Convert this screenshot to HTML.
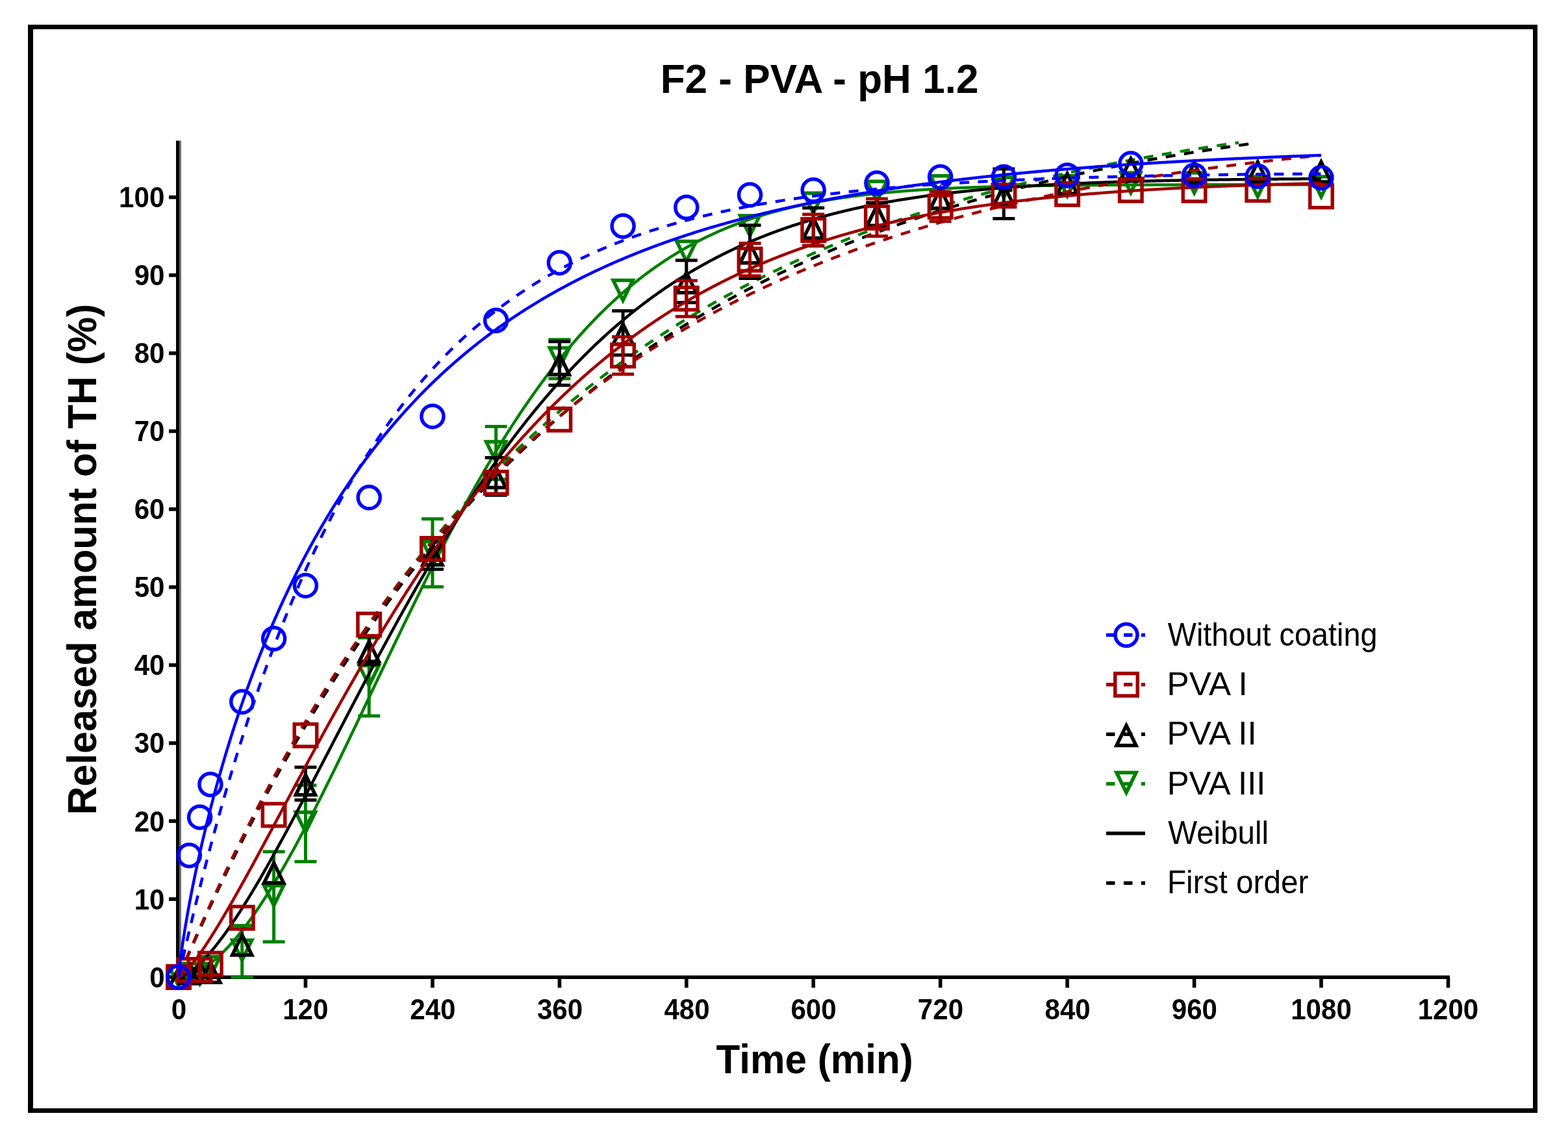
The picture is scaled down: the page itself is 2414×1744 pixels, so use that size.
<!DOCTYPE html>
<html><head><meta charset="utf-8"><title>F2 - PVA - pH 1.2</title>
<style>html,body{margin:0;padding:0;background:#fff;} svg{display:block;}</style></head>
<body><svg width="2414" height="1744" viewBox="0 0 2414 1744"><rect x="0" y="0" width="2414" height="1744" fill="#fff"/>
<rect x="46.5" y="41.5" width="2317" height="1668" fill="none" stroke="#000" stroke-width="7"/>
<rect x="49" y="38" width="2" height="1675" fill="#000"/>
<path d="M273.5,216.5 L273.5,1504" stroke="#000" stroke-width="5"/>
<path d="M277.5,216.5 L277.5,1501.6" stroke="#707070" stroke-width="3"/>
<path d="M271,1504.25 L2232,1504.25" stroke="#000" stroke-width="5.3"/>
<path d="M275.0,1504 L275.0,1520.4" stroke="#000" stroke-width="5.6"/>
<text transform="translate(263.73,1569.00) scale(0.9350,1)" font-family="'Liberation Sans', Arial, sans-serif" font-weight="bold" font-size="45">0</text>
<path d="M470.4,1504 L470.4,1520.4" stroke="#000" stroke-width="5.6"/>
<text transform="translate(435.20,1569.00) scale(0.9350,1)" font-family="'Liberation Sans', Arial, sans-serif" font-weight="bold" font-size="45">120</text>
<path d="M665.9,1504 L665.9,1520.4" stroke="#000" stroke-width="5.6"/>
<text transform="translate(631.28,1569.00) scale(0.9350,1)" font-family="'Liberation Sans', Arial, sans-serif" font-weight="bold" font-size="45">240</text>
<path d="M861.4,1504 L861.4,1520.4" stroke="#000" stroke-width="5.6"/>
<text transform="translate(826.94,1569.00) scale(0.9350,1)" font-family="'Liberation Sans', Arial, sans-serif" font-weight="bold" font-size="45">360</text>
<path d="M1056.8,1504 L1056.8,1520.4" stroke="#000" stroke-width="5.6"/>
<text transform="translate(1022.39,1569.00) scale(0.9350,1)" font-family="'Liberation Sans', Arial, sans-serif" font-weight="bold" font-size="45">480</text>
<path d="M1252.2,1504 L1252.2,1520.4" stroke="#000" stroke-width="5.6"/>
<text transform="translate(1217.42,1569.00) scale(0.9350,1)" font-family="'Liberation Sans', Arial, sans-serif" font-weight="bold" font-size="45">600</text>
<path d="M1447.7,1504 L1447.7,1520.4" stroke="#000" stroke-width="5.6"/>
<text transform="translate(1412.87,1569.00) scale(0.9350,1)" font-family="'Liberation Sans', Arial, sans-serif" font-weight="bold" font-size="45">720</text>
<path d="M1643.1,1504 L1643.1,1520.4" stroke="#000" stroke-width="5.6"/>
<text transform="translate(1608.53,1569.00) scale(0.9350,1)" font-family="'Liberation Sans', Arial, sans-serif" font-weight="bold" font-size="45">840</text>
<path d="M1838.6,1504 L1838.6,1520.4" stroke="#000" stroke-width="5.6"/>
<text transform="translate(1803.77,1569.00) scale(0.9350,1)" font-family="'Liberation Sans', Arial, sans-serif" font-weight="bold" font-size="45">960</text>
<path d="M2034.0,1504 L2034.0,1520.4" stroke="#000" stroke-width="5.6"/>
<text transform="translate(1987.23,1569.00) scale(0.9350,1)" font-family="'Liberation Sans', Arial, sans-serif" font-weight="bold" font-size="45">1080</text>
<path d="M2229.5,1504 L2229.5,1520.4" stroke="#000" stroke-width="5.6"/>
<text transform="translate(2182.68,1569.00) scale(0.9350,1)" font-family="'Liberation Sans', Arial, sans-serif" font-weight="bold" font-size="45">1200</text>
<path d="M260,1504.0 L273,1504.0" stroke="#000" stroke-width="5.6"/>
<text transform="translate(230.24,1519.60) scale(0.9350,1)" font-family="'Liberation Sans', Arial, sans-serif" font-weight="bold" font-size="45">0</text>
<path d="M260,1384.0 L273,1384.0" stroke="#000" stroke-width="5.6"/>
<text transform="translate(206.68,1399.56) scale(0.9350,1)" font-family="'Liberation Sans', Arial, sans-serif" font-weight="bold" font-size="45">10</text>
<path d="M260,1263.9 L273,1263.9" stroke="#000" stroke-width="5.6"/>
<text transform="translate(206.68,1279.52) scale(0.9350,1)" font-family="'Liberation Sans', Arial, sans-serif" font-weight="bold" font-size="45">20</text>
<path d="M260,1143.9 L273,1143.9" stroke="#000" stroke-width="5.6"/>
<text transform="translate(206.68,1159.48) scale(0.9350,1)" font-family="'Liberation Sans', Arial, sans-serif" font-weight="bold" font-size="45">30</text>
<path d="M260,1023.8 L273,1023.8" stroke="#000" stroke-width="5.6"/>
<text transform="translate(206.68,1039.44) scale(0.9350,1)" font-family="'Liberation Sans', Arial, sans-serif" font-weight="bold" font-size="45">40</text>
<path d="M260,903.8 L273,903.8" stroke="#000" stroke-width="5.6"/>
<text transform="translate(206.68,919.40) scale(0.9350,1)" font-family="'Liberation Sans', Arial, sans-serif" font-weight="bold" font-size="45">50</text>
<path d="M260,783.8 L273,783.8" stroke="#000" stroke-width="5.6"/>
<text transform="translate(206.68,799.36) scale(0.9350,1)" font-family="'Liberation Sans', Arial, sans-serif" font-weight="bold" font-size="45">60</text>
<path d="M260,663.7 L273,663.7" stroke="#000" stroke-width="5.6"/>
<text transform="translate(206.68,679.32) scale(0.9350,1)" font-family="'Liberation Sans', Arial, sans-serif" font-weight="bold" font-size="45">70</text>
<path d="M260,543.7 L273,543.7" stroke="#000" stroke-width="5.6"/>
<text transform="translate(206.68,559.28) scale(0.9350,1)" font-family="'Liberation Sans', Arial, sans-serif" font-weight="bold" font-size="45">80</text>
<path d="M260,423.6 L273,423.6" stroke="#000" stroke-width="5.6"/>
<text transform="translate(206.68,439.24) scale(0.9350,1)" font-family="'Liberation Sans', Arial, sans-serif" font-weight="bold" font-size="45">90</text>
<path d="M260,303.6 L273,303.6" stroke="#000" stroke-width="5.6"/>
<text transform="translate(183.12,319.20) scale(0.9350,1)" font-family="'Liberation Sans', Arial, sans-serif" font-weight="bold" font-size="45">100</text>
<path d="M275.00,1504.00 L275.81,1503.99 L276.63,1503.95 L277.44,1503.90 L278.26,1503.84 L279.07,1503.76 L279.89,1503.66 L280.70,1503.55 L281.51,1503.43 L282.33,1503.30 L283.14,1503.15 L283.96,1502.99 L284.77,1502.82 L285.59,1502.64 L286.40,1502.44 L287.22,1502.24 L288.03,1502.02 L288.84,1501.80 L289.66,1501.56 L290.47,1501.31 L291.29,1501.05 L292.10,1500.78 L292.92,1500.50 L293.73,1500.21 L294.55,1499.91 L295.36,1499.60 L296.17,1499.28 L296.99,1498.95 L297.80,1498.61 L298.62,1498.26 L299.43,1497.90 L300.25,1497.53 L301.06,1497.15 L301.87,1496.76 L302.69,1496.36 L303.50,1495.96 L304.32,1495.54 L305.13,1495.11 L305.95,1494.68 L306.76,1494.24 L307.57,1493.78 L308.39,1493.32 L309.20,1492.85 L310.02,1492.37 L310.83,1491.89 L311.65,1491.39 L312.46,1490.88 L313.28,1490.37 L314.09,1489.85 L314.90,1489.32 L315.72,1488.78 L316.53,1488.23 L317.35,1487.68 L318.16,1487.11 L318.98,1486.54 L319.79,1485.96 L320.61,1485.37 L321.42,1484.77 L322.23,1484.17 L323.05,1483.55 L323.86,1482.93 L324.68,1482.30 L325.49,1481.67 L326.31,1481.02 L327.12,1480.37 L327.93,1479.71 L328.75,1479.04 L329.56,1478.37 L330.38,1477.68 L331.19,1476.99 L332.01,1476.29 L332.82,1475.58 L333.63,1474.87 L334.45,1474.15 L335.26,1473.42 L336.08,1472.68 L336.89,1471.94 L337.71,1471.19 L338.52,1470.43 L339.34,1469.66 L340.15,1468.89 L340.96,1468.11 L341.78,1467.32 L342.59,1466.53 L343.41,1465.73 L344.22,1464.92 L345.04,1464.10 L345.85,1463.28 L346.66,1462.45 L347.48,1461.61 L348.29,1460.77 L349.11,1459.92 L349.92,1459.06 L350.74,1458.19 L351.55,1457.32 L352.37,1456.45 L353.18,1455.56 L353.99,1454.67 L354.81,1453.77 L355.62,1452.87 L356.44,1451.96 L357.25,1451.04 L358.07,1450.11 L358.88,1449.18 L359.69,1448.25 L360.51,1447.30 L361.32,1446.35 L362.14,1445.40 L362.95,1444.43 L363.77,1443.46 L364.58,1442.49 L365.40,1441.51 L366.21,1440.52 L367.02,1439.52 L367.84,1438.52 L368.65,1437.52 L369.47,1436.51 L370.28,1435.49 L371.10,1434.46 L371.91,1433.43 L372.73,1432.39 L373.54,1431.35 L375.17,1429.25 L376.80,1427.12 L378.43,1424.97 L380.06,1422.80 L381.69,1420.60 L383.32,1418.38 L384.95,1416.14 L386.58,1413.88 L388.21,1411.59 L389.83,1409.28 L391.46,1406.96 L393.09,1404.61 L394.72,1402.24 L396.35,1399.84 L397.98,1397.43 L399.61,1395.00 L401.24,1392.55 L402.87,1390.08 L404.50,1387.59 L406.13,1385.07 L407.76,1382.54 L409.39,1380.00 L411.02,1377.43 L412.65,1374.84 L414.28,1372.24 L415.91,1369.62 L417.54,1366.97 L419.17,1364.32 L420.80,1361.64 L422.43,1358.95 L424.06,1356.24 L425.68,1353.51 L427.31,1350.77 L428.94,1348.01 L430.57,1345.24 L432.20,1342.44 L433.83,1339.64 L435.46,1336.81 L437.09,1333.98 L438.72,1331.12 L440.35,1328.26 L441.98,1325.37 L443.61,1322.48 L445.24,1319.57 L446.87,1316.64 L448.50,1313.70 L450.13,1310.75 L451.76,1307.79 L453.39,1304.81 L455.02,1301.82 L456.65,1298.81 L458.28,1295.79 L459.91,1292.76 L461.54,1289.72 L463.16,1286.67 L464.79,1283.60 L466.42,1280.53 L468.05,1277.44 L469.68,1274.34 L471.31,1271.23 L472.94,1268.11 L474.57,1264.98 L476.20,1261.83 L477.83,1258.68 L479.46,1255.52 L481.09,1252.35 L482.72,1249.17 L484.35,1245.97 L485.98,1242.77 L487.61,1239.57 L489.24,1236.35 L490.87,1233.12 L492.50,1229.89 L494.13,1226.64 L495.76,1223.39 L497.39,1220.13 L499.01,1216.87 L500.64,1213.59 L502.27,1210.31 L503.90,1207.02 L505.53,1203.73 L507.16,1200.43 L508.79,1197.12 L510.42,1193.80 L512.05,1190.48 L513.68,1187.15 L515.31,1183.82 L516.94,1180.48 L518.57,1177.14 L520.20,1173.79 L521.83,1170.43 L523.46,1167.07 L525.09,1163.71 L526.72,1160.34 L528.35,1156.97 L529.98,1153.59 L531.61,1150.21 L533.24,1146.82 L534.86,1143.43 L536.49,1140.04 L538.12,1136.65 L539.75,1133.25 L541.38,1129.84 L543.01,1126.44 L544.64,1123.03 L546.27,1119.62 L547.90,1116.21 L549.53,1112.79 L551.16,1109.38 L552.79,1105.96 L554.42,1102.54 L556.05,1099.12 L557.68,1095.69 L559.31,1092.27 L560.94,1088.84 L562.57,1085.41 L564.20,1081.99 L565.83,1078.56 L567.46,1075.13 L569.09,1071.70 L570.71,1068.27 L572.34,1064.84 L573.97,1061.41 L575.60,1057.98 L577.23,1054.55 L578.86,1051.13 L580.49,1047.70 L582.12,1044.27 L583.75,1040.85 L585.38,1037.42 L587.01,1034.00 L588.64,1030.58 L590.27,1027.16 L591.90,1023.74 L593.53,1020.32 L595.16,1016.90 L596.79,1013.49 L598.42,1010.08 L600.05,1006.67 L601.68,1003.27 L603.31,999.86 L604.94,996.46 L606.56,993.07 L608.19,989.67 L609.82,986.28 L611.45,982.89 L613.08,979.51 L614.71,976.12 L616.34,972.75 L617.97,969.37 L619.60,966.00 L621.23,962.64 L622.86,959.27 L624.49,955.91 L626.12,952.56 L627.75,949.21 L629.38,945.87 L631.01,942.53 L632.64,939.19 L634.27,935.86 L635.90,932.53 L637.53,929.21 L639.16,925.90 L640.79,922.59 L642.41,919.28 L644.04,915.99 L645.67,912.69 L647.30,909.40 L648.93,906.12 L650.56,902.85 L652.19,899.58 L653.82,896.31 L655.45,893.05 L657.08,889.80 L658.71,886.56 L660.34,883.32 L661.97,880.09 L663.60,876.86 L665.23,873.64 L666.86,870.43 L668.49,867.23 L670.12,864.03 L671.75,860.84 L673.38,857.66 L675.01,854.48 L676.64,851.31 L678.27,848.15 L679.89,845.00 L681.52,841.85 L683.15,838.71 L684.78,835.58 L686.41,832.46 L688.04,829.34 L689.67,826.23 L691.30,823.14 L692.93,820.04 L694.56,816.96 L696.19,813.89 L697.82,810.82 L699.45,807.76 L701.08,804.71 L702.71,801.67 L704.34,798.64 L705.97,795.62 L707.60,792.60 L709.23,789.60 L710.86,786.60 L712.49,783.61 L714.12,780.63 L715.74,777.66 L717.37,774.70 L719.00,771.75 L720.63,768.81 L722.26,765.88 L723.89,762.95 L725.52,760.04 L727.15,757.13 L728.78,754.24 L730.41,751.35 L732.04,748.47 L733.67,745.61 L735.30,742.75 L736.93,739.90 L738.56,737.06 L740.19,734.23 L741.82,731.42 L743.45,728.61 L745.08,725.81 L746.71,723.02 L748.34,720.24 L749.97,717.47 L751.59,714.71 L753.22,711.97 L754.85,709.23 L756.48,706.50 L758.11,703.78 L759.74,701.07 L761.37,698.38 L763.00,695.69 L764.63,693.01 L766.26,690.35 L767.89,687.69 L769.52,685.05 L771.15,682.41 L772.78,679.79 L774.41,677.17 L776.04,674.57 L777.67,671.98 L779.30,669.39 L780.93,666.82 L782.56,664.26 L784.19,661.71 L785.82,659.17 L787.44,656.64 L789.07,654.12 L790.70,651.62 L792.33,649.12 L793.96,646.63 L795.59,644.16 L797.22,641.69 L798.85,639.24 L800.48,636.80 L802.11,634.37 L803.74,631.94 L805.37,629.53 L807.00,627.14 L808.63,624.75 L810.26,622.37 L811.89,620.00 L813.52,617.65 L815.15,615.30 L816.78,612.97 L818.41,610.64 L820.04,608.33 L821.67,606.03 L823.29,603.74 L824.92,601.46 L826.55,599.19 L828.18,596.93 L829.81,594.69 L831.44,592.45 L833.07,590.23 L834.70,588.01 L836.33,585.81 L837.96,583.62 L839.59,581.44 L841.22,579.27 L842.85,577.11 L844.48,574.96 L846.11,572.82 L847.74,570.70 L849.37,568.58 L851.00,566.48 L852.63,564.38 L854.26,562.30 L855.89,560.23 L857.52,558.16 L859.15,556.11 L860.77,554.07 L862.40,552.05 L864.03,550.03 L865.66,548.02 L867.29,546.02 L868.92,544.04 L870.55,542.06 L872.18,540.10 L873.81,538.15 L875.44,536.20 L877.07,534.27 L878.70,532.35 L880.33,530.44 L881.96,528.54 L883.59,526.65 L885.22,524.77 L886.85,522.91 L888.48,521.05 L890.11,519.20 L891.74,517.36 L893.37,515.54 L895.00,513.72 L896.62,511.92 L898.25,510.12 L899.88,508.34 L901.51,506.57 L903.14,504.80 L904.77,503.05 L906.40,501.31 L908.03,499.58 L909.66,497.86 L911.29,496.14 L912.92,494.44 L914.55,492.75 L916.18,491.07 L917.81,489.40 L919.44,487.74 L921.07,486.09 L922.70,484.45 L924.33,482.82 L925.96,481.20 L927.59,479.59 L929.22,477.99 L930.85,476.40 L932.47,474.82 L934.10,473.25 L935.73,471.69 L937.36,470.14 L938.99,468.60 L940.62,467.07 L942.25,465.54 L943.88,464.03 L945.51,462.53 L947.14,461.04 L948.77,459.56 L950.40,458.08 L952.03,456.62 L953.66,455.17 L955.29,453.72 L956.92,452.29 L958.55,450.86 L960.18,449.45 L961.81,448.04 L963.44,446.64 L965.07,445.26 L966.70,443.88 L968.32,442.51 L969.95,441.15 L971.58,439.80 L973.21,438.45 L974.84,437.12 L976.47,435.80 L978.10,434.48 L979.73,433.18 L981.36,431.88 L982.99,430.59 L984.62,429.32 L986.25,428.05 L987.88,426.78 L989.51,425.53 L991.14,424.29 L992.77,423.05 L994.40,421.83 L996.03,420.61 L997.66,419.40 L999.29,418.20 L1000.92,417.01 L1002.55,415.82 L1004.17,414.65 L1005.80,413.48 L1007.43,412.33 L1009.06,411.18 L1010.69,410.03 L1012.32,408.90 L1013.95,407.78 L1015.58,406.66 L1017.21,405.55 L1018.84,404.45 L1020.47,403.36 L1022.10,402.27 L1023.73,401.20 L1025.36,400.13 L1026.99,399.07 L1028.62,398.02 L1030.25,396.97 L1031.88,395.93 L1033.51,394.90 L1035.14,393.88 L1036.77,392.87 L1038.40,391.86 L1040.02,390.87 L1041.65,389.87 L1043.28,388.89 L1044.91,387.92 L1046.54,386.95 L1048.17,385.99 L1049.80,385.03 L1051.43,384.09 L1053.06,383.15 L1054.69,382.22 L1056.32,381.29 L1057.95,380.38 L1059.58,379.47 L1061.21,378.56 L1062.84,377.67 L1064.47,376.78 L1066.10,375.90 L1067.73,375.02 L1069.36,374.15 L1070.99,373.29 L1072.62,372.44 L1074.25,371.59 L1075.88,370.75 L1077.50,369.92 L1079.13,369.09 L1080.76,368.27 L1082.39,367.46 L1084.02,366.65 L1085.65,365.85 L1087.28,365.05 L1088.91,364.27 L1090.54,363.49 L1092.17,362.71 L1093.80,361.94 L1095.43,361.18 L1097.06,360.42 L1098.69,359.67 L1100.32,358.93 L1101.95,358.19 L1103.58,357.46 L1105.21,356.74 L1106.84,356.02 L1108.47,355.31 L1110.10,354.60 L1111.73,353.90 L1113.35,353.20 L1114.98,352.51 L1116.61,351.83 L1118.24,351.15 L1119.87,350.48 L1121.50,349.81 L1123.13,349.15 L1124.76,348.50 L1126.39,347.85 L1128.02,347.21 L1129.65,346.57 L1131.28,345.93 L1132.91,345.31 L1134.54,344.69 L1136.17,344.07 L1137.80,343.46 L1139.43,342.85 L1141.06,342.25 L1142.69,341.66 L1144.32,341.07 L1145.95,340.48 L1147.58,339.90 L1149.20,339.33 L1150.83,338.76 L1152.46,338.20 L1154.09,337.64 L1155.72,337.08 L1157.35,336.53 L1158.98,335.99 L1160.61,335.45 L1162.24,334.91 L1163.87,334.38 L1165.50,333.86 L1167.13,333.34 L1168.76,332.82 L1170.39,332.31 L1172.02,331.80 L1173.65,331.30 L1175.28,330.81 L1176.91,330.31 L1178.54,329.82 L1180.17,329.34 L1181.80,328.86 L1183.43,328.39 L1185.05,327.92 L1186.68,327.45 L1188.31,326.99 L1189.94,326.53 L1191.57,326.08 L1193.20,325.63 L1194.83,325.18 L1196.46,324.74 L1198.09,324.31 L1199.72,323.87 L1201.35,323.45 L1202.98,323.02 L1204.61,322.60 L1206.24,322.18 L1207.87,321.77 L1209.50,321.36 L1211.13,320.96 L1212.76,320.56 L1214.39,320.16 L1216.02,319.77 L1217.65,319.38 L1219.28,318.99 L1220.90,318.61 L1222.53,318.23 L1224.16,317.86 L1225.79,317.48 L1227.42,317.12 L1229.05,316.75 L1230.68,316.39 L1232.31,316.04 L1233.94,315.68 L1235.57,315.33 L1237.20,314.99 L1238.83,314.64 L1240.46,314.30 L1242.09,313.97 L1243.72,313.63 L1245.35,313.30 L1246.98,312.98 L1248.61,312.65 L1250.24,312.33 L1251.87,312.02 L1253.50,311.70 L1255.13,311.39 L1256.76,311.08 L1258.38,310.78 L1260.01,310.48 L1261.64,310.18 L1263.27,309.88 L1264.90,309.59 L1266.53,309.30 L1268.16,309.01 L1269.79,308.73 L1271.42,308.45 L1273.05,308.17 L1274.68,307.90 L1276.31,307.62 L1277.94,307.35 L1279.57,307.09 L1281.20,306.82 L1282.83,306.56 L1284.46,306.30 L1286.09,306.05 L1287.72,305.79 L1289.35,305.54 L1290.98,305.29 L1292.61,305.05 L1294.23,304.81 L1295.86,304.56 L1297.49,304.33 L1299.12,304.09 L1300.75,303.86 L1302.38,303.63 L1304.01,303.40 L1305.64,303.17 L1307.27,302.95 L1308.90,302.73 L1310.53,302.51 L1312.16,302.29 L1313.79,302.08 L1315.42,301.87 L1317.05,301.66 L1318.68,301.45 L1320.31,301.24 L1321.94,301.04 L1323.57,300.84 L1325.20,300.64 L1326.83,300.44 L1328.46,300.25 L1330.08,300.06 L1331.71,299.87 L1333.34,299.68 L1334.97,299.49 L1336.60,299.31 L1338.23,299.13 L1339.86,298.95 L1341.49,298.77 L1343.12,298.59 L1344.75,298.42 L1346.38,298.24 L1348.01,298.07 L1349.64,297.90 L1351.27,297.74 L1352.90,297.57 L1354.53,297.41 L1356.16,297.25 L1357.79,297.09 L1359.42,296.93 L1361.05,296.77 L1362.68,296.62 L1364.31,296.46 L1365.93,296.31 L1367.56,296.16 L1369.19,296.02 L1370.82,295.87 L1372.45,295.73 L1374.08,295.58 L1375.71,295.44 L1377.34,295.30 L1378.97,295.16 L1380.60,295.03 L1382.23,294.89 L1383.86,294.76 L1385.49,294.63 L1387.12,294.50 L1388.75,294.37 L1390.38,294.24 L1392.01,294.11 L1393.64,293.99 L1395.27,293.86 L1396.90,293.74 L1398.53,293.62 L1400.16,293.50 L1401.78,293.38 L1403.41,293.27 L1405.04,293.15 L1406.67,293.04 L1408.30,292.93 L1409.93,292.82 L1411.56,292.71 L1413.19,292.60 L1414.82,292.49 L1416.45,292.38 L1418.08,292.28 L1419.71,292.18 L1421.34,292.07 L1422.97,291.97 L1424.60,291.87 L1426.23,291.77 L1427.86,291.68 L1429.49,291.58 L1431.12,291.48 L1432.75,291.39 L1434.38,291.30 L1436.01,291.20 L1437.63,291.11 L1439.26,291.02 L1440.89,290.93 L1442.52,290.85 L1444.15,290.76 L1445.78,290.67 L1447.41,290.59 L1449.04,290.50 L1450.67,290.42 L1452.30,290.34 L1453.93,290.26 L1455.56,290.18 L1457.19,290.10 L1458.82,290.02 L1460.45,289.95 L1462.08,289.87 L1463.71,289.79 L1465.34,289.72 L1466.97,289.65 L1468.60,289.57 L1470.23,289.50 L1471.86,289.43 L1473.49,289.36 L1475.11,289.29 L1476.74,289.23 L1478.37,289.16 L1480.00,289.09 L1481.63,289.03 L1483.26,288.96 L1484.89,288.90 L1486.52,288.83 L1488.15,288.77 L1489.78,288.71 L1491.41,288.65 L1493.04,288.59 L1494.67,288.53 L1496.30,288.47 L1497.93,288.41 L1499.56,288.35 L1501.19,288.30 L1502.82,288.24 L1504.45,288.19 L1506.08,288.13 L1507.71,288.08 L1509.34,288.03 L1510.96,287.97 L1512.59,287.92 L1514.22,287.87 L1515.85,287.82 L1517.48,287.77 L1519.11,287.72 L1520.74,287.67 L1522.37,287.62 L1524.00,287.58 L1525.63,287.53 L1527.26,287.48 L1528.89,287.44 L1530.52,287.39 L1532.15,287.35 L1533.78,287.30 L1535.41,287.26 L1537.04,287.22 L1538.67,287.18 L1540.30,287.13 L1541.93,287.09 L1543.56,287.05 L1545.19,287.01 L1546.81,286.97 L1548.44,286.93 L1550.07,286.89 L1551.70,286.86 L1553.33,286.82 L1554.96,286.78 L1556.59,286.74 L1558.22,286.71 L1559.85,286.67 L1561.48,286.64 L1563.11,286.60 L1564.74,286.57 L1566.37,286.53 L1568.00,286.50 L1569.63,286.47 L1571.26,286.44 L1572.89,286.40 L1574.52,286.37 L1576.15,286.34 L1577.78,286.31 L1579.41,286.28 L1581.04,286.25 L1582.66,286.22 L1584.29,286.19 L1585.92,286.16 L1587.55,286.13 L1589.18,286.10 L1590.81,286.08 L1592.44,286.05 L1594.07,286.02 L1595.70,286.00 L1597.33,285.97 L1598.96,285.94 L1600.59,285.92 L1602.22,285.89 L1603.85,285.87 L1605.48,285.84 L1607.11,285.82 L1608.74,285.79 L1610.37,285.77 L1612.00,285.75 L1613.63,285.72 L1615.26,285.70 L1616.89,285.68 L1618.51,285.66 L1620.14,285.64 L1621.77,285.61 L1623.40,285.59 L1625.03,285.57 L1626.66,285.55 L1628.29,285.53 L1629.92,285.51 L1631.55,285.49 L1633.18,285.47 L1634.81,285.45 L1636.44,285.43 L1638.07,285.41 L1639.70,285.40 L1641.33,285.38 L1642.96,285.36 L1644.59,285.34 L1646.22,285.32 L1647.85,285.31 L1649.48,285.29 L1651.11,285.27 L1652.74,285.26 L1654.37,285.24 L1655.99,285.22 L1657.62,285.21 L1659.25,285.19 L1660.88,285.18 L1662.51,285.16 L1664.14,285.15 L1665.77,285.13 L1667.40,285.12 L1669.03,285.10 L1670.66,285.09 L1672.29,285.08 L1673.92,285.06 L1675.55,285.05 L1677.18,285.03 L1678.81,285.02 L1680.44,285.01 L1682.07,285.00 L1683.70,284.98 L1685.33,284.97 L1686.96,284.96 L1688.59,284.95 L1690.22,284.93 L1691.84,284.92 L1693.47,284.91 L1695.10,284.90 L1696.73,284.89 L1698.36,284.88 L1699.99,284.87 L1701.62,284.86 L1703.25,284.84 L1704.88,284.83 L1706.51,284.82 L1708.14,284.81 L1709.77,284.80 L1711.40,284.79 L1713.03,284.78 L1714.66,284.77 L1716.29,284.76 L1717.92,284.76 L1719.55,284.75 L1721.18,284.74 L1722.81,284.73 L1724.44,284.72 L1726.07,284.71 L1727.69,284.70 L1729.32,284.69 L1730.95,284.68 L1732.58,284.68 L1734.21,284.67 L1735.84,284.66 L1737.47,284.65 L1739.10,284.65 L1740.73,284.64 L1742.36,284.63 L1743.99,284.62 L1745.62,284.62 L1747.25,284.61 L1748.88,284.60 L1750.51,284.59 L1752.14,284.59 L1753.77,284.58 L1755.40,284.57 L1757.03,284.57 L1758.66,284.56 L1760.29,284.55 L1761.92,284.55 L1763.54,284.54 L1765.17,284.54 L1766.80,284.53 L1768.43,284.52 L1770.06,284.52 L1771.69,284.51 L1773.32,284.51 L1774.95,284.50 L1776.58,284.50 L1778.21,284.49 L1779.84,284.48 L1781.47,284.48 L1783.10,284.47 L1784.73,284.47 L1786.36,284.46 L1787.99,284.46 L1789.62,284.45 L1791.25,284.45 L1792.88,284.44 L1794.51,284.44 L1796.14,284.44 L1797.77,284.43 L1799.39,284.43 L1801.02,284.42 L1802.65,284.42 L1804.28,284.41 L1805.91,284.41 L1807.54,284.41 L1809.17,284.40 L1810.80,284.40 L1812.43,284.39 L1814.06,284.39 L1815.69,284.39 L1817.32,284.38 L1818.95,284.38 L1820.58,284.37 L1822.21,284.37 L1823.84,284.37 L1825.47,284.36 L1827.10,284.36 L1828.73,284.36 L1830.36,284.35 L1831.99,284.35 L1833.62,284.35 L1835.24,284.34 L1836.87,284.34 L1838.50,284.34 L1840.13,284.34 L1841.76,284.33 L1843.39,284.33 L1845.02,284.33 L1846.65,284.32 L1848.28,284.32 L1849.91,284.32 L1851.54,284.32 L1853.17,284.31 L1854.80,284.31 L1856.43,284.31 L1858.06,284.30 L1859.69,284.30 L1861.32,284.30 L1862.95,284.30 L1864.58,284.30 L1866.21,284.29 L1867.84,284.29 L1869.47,284.29 L1871.10,284.29 L1872.72,284.28 L1874.35,284.28 L1875.98,284.28 L1877.61,284.28 L1879.24,284.28 L1880.87,284.27 L1882.50,284.27 L1884.13,284.27 L1885.76,284.27 L1887.39,284.27 L1889.02,284.26 L1890.65,284.26 L1892.28,284.26 L1893.91,284.26 L1895.54,284.26 L1897.17,284.25 L1898.80,284.25 L1900.43,284.25 L1902.06,284.25 L1903.69,284.25 L1905.32,284.25 L1906.95,284.24 L1908.57,284.24 L1910.20,284.24 L1911.83,284.24 L1913.46,284.24 L1915.09,284.24 L1916.72,284.24 L1918.35,284.23 L1919.98,284.23 L1921.61,284.23 L1923.24,284.23 L1924.87,284.23 L1926.50,284.23 L1928.13,284.23 L1929.76,284.23 L1931.39,284.22 L1933.02,284.22 L1934.65,284.22 L1936.28,284.22 L1937.91,284.22 L1939.54,284.22 L1941.17,284.22 L1942.80,284.22 L1944.42,284.22 L1946.05,284.21 L1947.68,284.21 L1949.31,284.21 L1950.94,284.21 L1952.57,284.21 L1954.20,284.21 L1955.83,284.21 L1957.46,284.21 L1959.09,284.21 L1960.72,284.21 L1962.35,284.20 L1963.98,284.20 L1965.61,284.20 L1967.24,284.20 L1968.87,284.20 L1970.50,284.20 L1972.13,284.20 L1973.76,284.20 L1975.39,284.20 L1977.02,284.20 L1978.65,284.20 L1980.27,284.20 L1981.90,284.19 L1983.53,284.19 L1985.16,284.19 L1986.79,284.19 L1988.42,284.19 L1990.05,284.19 L1991.68,284.19 L1993.31,284.19 L1994.94,284.19 L1996.57,284.19 L1998.20,284.19 L1999.83,284.19 L2001.46,284.19 L2003.09,284.19 L2004.72,284.19 L2006.35,284.19 L2007.98,284.18 L2009.61,284.18 L2011.24,284.18 L2012.87,284.18 L2014.50,284.18 L2016.12,284.18 L2017.75,284.18 L2019.38,284.18 L2021.01,284.18 L2022.64,284.18 L2024.27,284.18 L2025.90,284.18 L2027.53,284.18 L2029.16,284.18 L2030.79,284.18 L2032.42,284.18 L2034.05,284.18" fill="none" stroke="#008000" stroke-width="4.5"/>
<path d="M275.00,1504.00 L275.81,1502.08 L276.63,1500.15 L277.44,1498.23 L278.26,1496.32 L279.07,1494.40 L279.89,1492.49 L280.70,1490.58 L281.51,1488.68 L282.33,1486.78 L283.14,1484.87 L283.96,1482.98 L284.77,1481.08 L285.59,1479.19 L286.40,1477.30 L287.22,1475.41 L288.03,1473.53 L288.84,1471.65 L289.66,1469.77 L290.47,1467.89 L291.29,1466.02 L292.10,1464.15 L292.92,1462.28 L293.73,1460.41 L294.55,1458.55 L295.36,1456.69 L296.17,1454.83 L296.99,1452.97 L297.80,1451.12 L298.62,1449.27 L299.43,1447.42 L300.25,1445.58 L301.06,1443.74 L301.87,1441.90 L302.69,1440.06 L303.50,1438.23 L304.32,1436.39 L305.13,1434.56 L305.95,1432.74 L306.76,1430.91 L307.57,1429.09 L308.39,1427.27 L309.20,1425.46 L310.02,1423.64 L310.83,1421.83 L311.65,1420.02 L312.46,1418.22 L313.28,1416.41 L314.09,1414.61 L314.90,1412.81 L315.72,1411.02 L316.53,1409.22 L317.35,1407.43 L318.16,1405.64 L318.98,1403.86 L319.79,1402.07 L320.61,1400.29 L321.42,1398.51 L322.23,1396.74 L323.05,1394.96 L323.86,1393.19 L324.68,1391.42 L325.49,1389.66 L326.31,1387.90 L327.12,1386.13 L327.93,1384.38 L328.75,1382.62 L329.56,1380.87 L330.38,1379.12 L331.19,1377.37 L332.01,1375.62 L332.82,1373.88 L333.63,1372.14 L334.45,1370.40 L335.26,1368.66 L336.08,1366.93 L336.89,1365.19 L337.71,1363.47 L338.52,1361.74 L339.34,1360.02 L340.15,1358.29 L340.96,1356.57 L341.78,1354.86 L342.59,1353.14 L343.41,1351.43 L344.22,1349.72 L345.04,1348.01 L345.85,1346.31 L346.66,1344.61 L347.48,1342.91 L348.29,1341.21 L349.11,1339.51 L349.92,1337.82 L350.74,1336.13 L351.55,1334.44 L352.37,1332.76 L353.18,1331.07 L353.99,1329.39 L354.81,1327.71 L355.62,1326.04 L356.44,1324.36 L357.25,1322.69 L358.07,1321.02 L358.88,1319.36 L359.69,1317.69 L360.51,1316.03 L361.32,1314.37 L362.14,1312.71 L362.95,1311.06 L363.77,1309.41 L364.58,1307.76 L365.40,1306.11 L366.21,1304.46 L367.02,1302.82 L367.84,1301.18 L368.65,1299.54 L369.47,1297.90 L370.28,1296.27 L371.10,1294.64 L371.91,1293.01 L372.73,1291.38 L373.54,1289.76 L375.17,1286.51 L376.80,1283.28 L378.43,1280.05 L380.06,1276.83 L381.69,1273.62 L383.32,1270.42 L384.95,1267.23 L386.58,1264.05 L388.21,1260.88 L389.83,1257.72 L391.46,1254.56 L393.09,1251.42 L394.72,1248.28 L396.35,1245.15 L397.98,1242.04 L399.61,1238.92 L401.24,1235.82 L402.87,1232.73 L404.50,1229.65 L406.13,1226.57 L407.76,1223.51 L409.39,1220.45 L411.02,1217.40 L412.65,1214.36 L414.28,1211.33 L415.91,1208.30 L417.54,1205.29 L419.17,1202.28 L420.80,1199.28 L422.43,1196.29 L424.06,1193.31 L425.68,1190.34 L427.31,1187.38 L428.94,1184.42 L430.57,1181.47 L432.20,1178.53 L433.83,1175.60 L435.46,1172.68 L437.09,1169.76 L438.72,1166.86 L440.35,1163.96 L441.98,1161.07 L443.61,1158.19 L445.24,1155.31 L446.87,1152.45 L448.50,1149.59 L450.13,1146.74 L451.76,1143.90 L453.39,1141.07 L455.02,1138.24 L456.65,1135.42 L458.28,1132.61 L459.91,1129.81 L461.54,1127.02 L463.16,1124.23 L464.79,1121.45 L466.42,1118.68 L468.05,1115.92 L469.68,1113.17 L471.31,1110.42 L472.94,1107.68 L474.57,1104.95 L476.20,1102.23 L477.83,1099.51 L479.46,1096.80 L481.09,1094.10 L482.72,1091.41 L484.35,1088.72 L485.98,1086.05 L487.61,1083.38 L489.24,1080.71 L490.87,1078.06 L492.50,1075.41 L494.13,1072.77 L495.76,1070.14 L497.39,1067.51 L499.01,1064.89 L500.64,1062.28 L502.27,1059.68 L503.90,1057.08 L505.53,1054.49 L507.16,1051.91 L508.79,1049.34 L510.42,1046.77 L512.05,1044.21 L513.68,1041.66 L515.31,1039.11 L516.94,1036.58 L518.57,1034.05 L520.20,1031.52 L521.83,1029.01 L523.46,1026.50 L525.09,1023.99 L526.72,1021.50 L528.35,1019.01 L529.98,1016.53 L531.61,1014.05 L533.24,1011.59 L534.86,1009.13 L536.49,1006.67 L538.12,1004.23 L539.75,1001.79 L541.38,999.35 L543.01,996.93 L544.64,994.51 L546.27,992.10 L547.90,989.69 L549.53,987.29 L551.16,984.90 L552.79,982.51 L554.42,980.14 L556.05,977.76 L557.68,975.40 L559.31,973.04 L560.94,970.69 L562.57,968.34 L564.20,966.01 L565.83,963.67 L567.46,961.35 L569.09,959.03 L570.71,956.72 L572.34,954.41 L573.97,952.11 L575.60,949.82 L577.23,947.53 L578.86,945.25 L580.49,942.98 L582.12,940.71 L583.75,938.45 L585.38,936.20 L587.01,933.95 L588.64,931.71 L590.27,929.47 L591.90,927.24 L593.53,925.02 L595.16,922.81 L596.79,920.59 L598.42,918.39 L600.05,916.19 L601.68,914.00 L603.31,911.82 L604.94,909.64 L606.56,907.46 L608.19,905.30 L609.82,903.14 L611.45,900.98 L613.08,898.83 L614.71,896.69 L616.34,894.55 L617.97,892.42 L619.60,890.30 L621.23,888.18 L622.86,886.07 L624.49,883.96 L626.12,881.86 L627.75,879.77 L629.38,877.68 L631.01,875.59 L632.64,873.52 L634.27,871.45 L635.90,869.38 L637.53,867.32 L639.16,865.27 L640.79,863.22 L642.41,861.18 L644.04,859.14 L645.67,857.11 L647.30,855.08 L648.93,853.07 L650.56,851.05 L652.19,849.04 L653.82,847.04 L655.45,845.05 L657.08,843.05 L658.71,841.07 L660.34,839.09 L661.97,837.12 L663.60,835.15 L665.23,833.18 L666.86,831.23 L668.49,829.27 L670.12,827.33 L671.75,825.39 L673.38,823.45 L675.01,821.52 L676.64,819.60 L678.27,817.68 L679.89,815.76 L681.52,813.86 L683.15,811.95 L684.78,810.05 L686.41,808.16 L688.04,806.28 L689.67,804.39 L691.30,802.52 L692.93,800.65 L694.56,798.78 L696.19,796.92 L697.82,795.06 L699.45,793.21 L701.08,791.37 L702.71,789.53 L704.34,787.70 L705.97,785.87 L707.60,784.04 L709.23,782.22 L710.86,780.41 L712.49,778.60 L714.12,776.80 L715.74,775.00 L717.37,773.20 L719.00,771.42 L720.63,769.63 L722.26,767.85 L723.89,766.08 L725.52,764.31 L727.15,762.55 L728.78,760.79 L730.41,759.04 L732.04,757.29 L733.67,755.55 L735.30,753.81 L736.93,752.07 L738.56,750.34 L740.19,748.62 L741.82,746.90 L743.45,745.19 L745.08,743.48 L746.71,741.77 L748.34,740.07 L749.97,738.38 L751.59,736.69 L753.22,735.00 L754.85,733.32 L756.48,731.65 L758.11,729.97 L759.74,728.31 L761.37,726.65 L763.00,724.99 L764.63,723.34 L766.26,721.69 L767.89,720.05 L769.52,718.41 L771.15,716.77 L772.78,715.14 L774.41,713.52 L776.04,711.90 L777.67,710.28 L779.30,708.67 L780.93,707.07 L782.56,705.46 L784.19,703.87 L785.82,702.27 L787.44,700.68 L789.07,699.10 L790.70,697.52 L792.33,695.95 L793.96,694.37 L795.59,692.81 L797.22,691.25 L798.85,689.69 L800.48,688.14 L802.11,686.59 L803.74,685.04 L805.37,683.50 L807.00,681.97 L808.63,680.44 L810.26,678.91 L811.89,677.39 L813.52,675.87 L815.15,674.36 L816.78,672.85 L818.41,671.34 L820.04,669.84 L821.67,668.34 L823.29,666.85 L824.92,665.36 L826.55,663.88 L828.18,662.40 L829.81,660.92 L831.44,659.45 L833.07,657.98 L834.70,656.52 L836.33,655.06 L837.96,653.60 L839.59,652.15 L841.22,650.70 L842.85,649.26 L844.48,647.82 L846.11,646.39 L847.74,644.95 L849.37,643.53 L851.00,642.10 L852.63,640.69 L854.26,639.27 L855.89,637.86 L857.52,636.45 L859.15,635.05 L860.77,633.65 L862.40,632.26 L864.03,630.87 L865.66,629.48 L867.29,628.09 L868.92,626.72 L870.55,625.34 L872.18,623.97 L873.81,622.60 L875.44,621.24 L877.07,619.88 L878.70,618.52 L880.33,617.17 L881.96,615.82 L883.59,614.47 L885.22,613.13 L886.85,611.80 L888.48,610.46 L890.11,609.13 L891.74,607.81 L893.37,606.49 L895.00,605.17 L896.62,603.85 L898.25,602.54 L899.88,601.23 L901.51,599.93 L903.14,598.63 L904.77,597.33 L906.40,596.04 L908.03,594.75 L909.66,593.47 L911.29,592.19 L912.92,590.91 L914.55,589.63 L916.18,588.36 L917.81,587.09 L919.44,585.83 L921.07,584.57 L922.70,583.31 L924.33,582.06 L925.96,580.81 L927.59,579.56 L929.22,578.32 L930.85,577.08 L932.47,575.85 L934.10,574.62 L935.73,573.39 L937.36,572.16 L938.99,570.94 L940.62,569.72 L942.25,568.51 L943.88,567.30 L945.51,566.09 L947.14,564.88 L948.77,563.68 L950.40,562.48 L952.03,561.29 L953.66,560.10 L955.29,558.91 L956.92,557.73 L958.55,556.55 L960.18,555.37 L961.81,554.19 L963.44,553.02 L965.07,551.86 L966.70,550.69 L968.32,549.53 L969.95,548.37 L971.58,547.22 L973.21,546.07 L974.84,544.92 L976.47,543.77 L978.10,542.63 L979.73,541.49 L981.36,540.36 L982.99,539.23 L984.62,538.10 L986.25,536.97 L987.88,535.85 L989.51,534.73 L991.14,533.61 L992.77,532.50 L994.40,531.39 L996.03,530.28 L997.66,529.18 L999.29,528.08 L1000.92,526.98 L1002.55,525.89 L1004.17,524.80 L1005.80,523.71 L1007.43,522.62 L1009.06,521.54 L1010.69,520.46 L1012.32,519.39 L1013.95,518.31 L1015.58,517.24 L1017.21,516.18 L1018.84,515.11 L1020.47,514.05 L1022.10,512.99 L1023.73,511.94 L1025.36,510.89 L1026.99,509.84 L1028.62,508.79 L1030.25,507.75 L1031.88,506.71 L1033.51,505.67 L1035.14,504.64 L1036.77,503.61 L1038.40,502.58 L1040.02,501.55 L1041.65,500.53 L1043.28,499.51 L1044.91,498.49 L1046.54,497.48 L1048.17,496.47 L1049.80,495.46 L1051.43,494.45 L1053.06,493.45 L1054.69,492.45 L1056.32,491.45 L1057.95,490.46 L1059.58,489.47 L1061.21,488.48 L1062.84,487.49 L1064.47,486.51 L1066.10,485.53 L1067.73,484.55 L1069.36,483.58 L1070.99,482.61 L1072.62,481.64 L1074.25,480.67 L1075.88,479.71 L1077.50,478.75 L1079.13,477.79 L1080.76,476.83 L1082.39,475.88 L1084.02,474.93 L1085.65,473.98 L1087.28,473.04 L1088.91,472.09 L1090.54,471.15 L1092.17,470.22 L1093.80,469.28 L1095.43,468.35 L1097.06,467.42 L1098.69,466.50 L1100.32,465.57 L1101.95,464.65 L1103.58,463.73 L1105.21,462.82 L1106.84,461.90 L1108.47,460.99 L1110.10,460.08 L1111.73,459.18 L1113.35,458.27 L1114.98,457.37 L1116.61,456.48 L1118.24,455.58 L1119.87,454.69 L1121.50,453.80 L1123.13,452.91 L1124.76,452.02 L1126.39,451.14 L1128.02,450.26 L1129.65,449.38 L1131.28,448.51 L1132.91,447.63 L1134.54,446.76 L1136.17,445.89 L1137.80,445.03 L1139.43,444.17 L1141.06,443.30 L1142.69,442.45 L1144.32,441.59 L1145.95,440.74 L1147.58,439.89 L1149.20,439.04 L1150.83,438.19 L1152.46,437.35 L1154.09,436.50 L1155.72,435.67 L1157.35,434.83 L1158.98,433.99 L1160.61,433.16 L1162.24,432.33 L1163.87,431.50 L1165.50,430.68 L1167.13,429.86 L1168.76,429.04 L1170.39,428.22 L1172.02,427.40 L1173.65,426.59 L1175.28,425.78 L1176.91,424.97 L1178.54,424.16 L1180.17,423.36 L1181.80,422.55 L1183.43,421.75 L1185.05,420.96 L1186.68,420.16 L1188.31,419.37 L1189.94,418.58 L1191.57,417.79 L1193.20,417.00 L1194.83,416.22 L1196.46,415.44 L1198.09,414.66 L1199.72,413.88 L1201.35,413.10 L1202.98,412.33 L1204.61,411.56 L1206.24,410.79 L1207.87,410.02 L1209.50,409.26 L1211.13,408.49 L1212.76,407.73 L1214.39,406.98 L1216.02,406.22 L1217.65,405.47 L1219.28,404.71 L1220.90,403.96 L1222.53,403.22 L1224.16,402.47 L1225.79,401.73 L1227.42,400.99 L1229.05,400.25 L1230.68,399.51 L1232.31,398.78 L1233.94,398.04 L1235.57,397.31 L1237.20,396.58 L1238.83,395.86 L1240.46,395.13 L1242.09,394.41 L1243.72,393.69 L1245.35,392.97 L1246.98,392.25 L1248.61,391.54 L1250.24,390.83 L1251.87,390.12 L1253.50,389.41 L1255.13,388.70 L1256.76,388.00 L1258.38,387.29 L1260.01,386.59 L1261.64,385.90 L1263.27,385.20 L1264.90,384.50 L1266.53,383.81 L1268.16,383.12 L1269.79,382.43 L1271.42,381.74 L1273.05,381.06 L1274.68,380.38 L1276.31,379.70 L1277.94,379.02 L1279.57,378.34 L1281.20,377.66 L1282.83,376.99 L1284.46,376.32 L1286.09,375.65 L1287.72,374.98 L1289.35,374.32 L1290.98,373.65 L1292.61,372.99 L1294.23,372.33 L1295.86,371.67 L1297.49,371.02 L1299.12,370.36 L1300.75,369.71 L1302.38,369.06 L1304.01,368.41 L1305.64,367.76 L1307.27,367.11 L1308.90,366.47 L1310.53,365.83 L1312.16,365.19 L1313.79,364.55 L1315.42,363.91 L1317.05,363.28 L1318.68,362.65 L1320.31,362.02 L1321.94,361.39 L1323.57,360.76 L1325.20,360.13 L1326.83,359.51 L1328.46,358.89 L1330.08,358.27 L1331.71,357.65 L1333.34,357.03 L1334.97,356.42 L1336.60,355.80 L1338.23,355.19 L1339.86,354.58 L1341.49,353.97 L1343.12,353.37 L1344.75,352.76 L1346.38,352.16 L1348.01,351.56 L1349.64,350.96 L1351.27,350.36 L1352.90,349.76 L1354.53,349.17 L1356.16,348.57 L1357.79,347.98 L1359.42,347.39 L1361.05,346.80 L1362.68,346.22 L1364.31,345.63 L1365.93,345.05 L1367.56,344.47 L1369.19,343.89 L1370.82,343.31 L1372.45,342.73 L1374.08,342.16 L1375.71,341.59 L1377.34,341.01 L1378.97,340.44 L1380.60,339.88 L1382.23,339.31 L1383.86,338.74 L1385.49,338.18 L1387.12,337.62 L1388.75,337.06 L1390.38,336.50 L1392.01,335.94 L1393.64,335.39 L1395.27,334.83 L1396.90,334.28 L1398.53,333.73 L1400.16,333.18 L1401.78,332.63 L1403.41,332.08 L1405.04,331.54 L1406.67,331.00 L1408.30,330.45 L1409.93,329.91 L1411.56,329.37 L1413.19,328.84 L1414.82,328.30 L1416.45,327.77 L1418.08,327.23 L1419.71,326.70 L1421.34,326.17 L1422.97,325.64 L1424.60,325.12 L1426.23,324.59 L1427.86,324.07 L1429.49,323.55 L1431.12,323.03 L1432.75,322.51 L1434.38,321.99 L1436.01,321.47 L1437.63,320.96 L1439.26,320.44 L1440.89,319.93 L1442.52,319.42 L1444.15,318.91 L1445.78,318.40 L1447.41,317.90 L1449.04,317.39 L1450.67,316.89 L1452.30,316.39 L1453.93,315.89 L1455.56,315.39 L1457.19,314.89 L1458.82,314.39 L1460.45,313.90 L1462.08,313.40 L1463.71,312.91 L1465.34,312.42 L1466.97,311.93 L1468.60,311.44 L1470.23,310.96 L1471.86,310.47 L1473.49,309.99 L1475.11,309.50 L1476.74,309.02 L1478.37,308.54 L1480.00,308.07 L1481.63,307.59 L1483.26,307.11 L1484.89,306.64 L1486.52,306.16 L1488.15,305.69 L1489.78,305.22 L1491.41,304.75 L1493.04,304.28 L1494.67,303.82 L1496.30,303.35 L1497.93,302.89 L1499.56,302.43 L1501.19,301.97 L1502.82,301.51 L1504.45,301.05 L1506.08,300.59 L1507.71,300.13 L1509.34,299.68 L1510.96,299.22 L1512.59,298.77 L1514.22,298.32 L1515.85,297.87 L1517.48,297.42 L1519.11,296.98 L1520.74,296.53 L1522.37,296.09 L1524.00,295.64 L1525.63,295.20 L1527.26,294.76 L1528.89,294.32 L1530.52,293.88 L1532.15,293.44 L1533.78,293.01 L1535.41,292.57 L1537.04,292.14 L1538.67,291.71 L1540.30,291.28 L1541.93,290.85 L1543.56,290.42 L1545.19,289.99 L1546.81,289.56 L1548.44,289.14 L1550.07,288.71 L1551.70,288.29 L1553.33,287.87 L1554.96,287.45 L1556.59,287.03 L1558.22,286.61 L1559.85,286.20 L1561.48,285.78 L1563.11,285.37 L1564.74,284.95 L1566.37,284.54 L1568.00,284.13 L1569.63,283.72 L1571.26,283.31 L1572.89,282.90 L1574.52,282.50 L1576.15,282.09 L1577.78,281.69 L1579.41,281.29 L1581.04,280.88 L1582.66,280.48 L1584.29,280.08 L1585.92,279.69 L1587.55,279.29 L1589.18,278.89 L1590.81,278.50 L1592.44,278.10 L1594.07,277.71 L1595.70,277.32 L1597.33,276.93 L1598.96,276.54 L1600.59,276.15 L1602.22,275.76 L1603.85,275.38 L1605.48,274.99 L1607.11,274.61 L1608.74,274.23 L1610.37,273.84 L1612.00,273.46 L1613.63,273.08 L1615.26,272.71 L1616.89,272.33 L1618.51,271.95 L1620.14,271.58 L1621.77,271.20 L1623.40,270.83 L1625.03,270.46 L1626.66,270.09 L1628.29,269.72 L1629.92,269.35 L1631.55,268.98 L1633.18,268.61 L1634.81,268.24 L1636.44,267.88 L1638.07,267.52 L1639.70,267.15 L1641.33,266.79 L1642.96,266.43 L1644.59,266.07 L1646.22,265.71 L1647.85,265.35 L1649.48,265.00 L1651.11,264.64 L1652.74,264.29 L1654.37,263.93 L1655.99,263.58 L1657.62,263.23 L1659.25,262.88 L1660.88,262.53 L1662.51,262.18 L1664.14,261.83 L1665.77,261.48 L1667.40,261.14 L1669.03,260.79 L1670.66,260.45 L1672.29,260.11 L1673.92,259.76 L1675.55,259.42 L1677.18,259.08 L1678.81,258.74 L1680.44,258.41 L1682.07,258.07 L1683.70,257.73 L1685.33,257.40 L1686.96,257.06 L1688.59,256.73 L1690.22,256.40 L1691.84,256.07 L1693.47,255.73 L1695.10,255.40 L1696.73,255.08 L1698.36,254.75 L1699.99,254.42 L1701.62,254.10 L1703.25,253.77 L1704.88,253.45 L1706.51,253.12 L1708.14,252.80 L1709.77,252.48 L1711.40,252.16 L1713.03,251.84 L1714.66,251.52 L1716.29,251.20 L1717.92,250.89 L1719.55,250.57 L1721.18,250.25 L1722.81,249.94 L1724.44,249.63 L1726.07,249.31 L1727.69,249.00 L1729.32,248.69 L1730.95,248.38 L1732.58,248.07 L1734.21,247.77 L1735.84,247.46 L1737.47,247.15 L1739.10,246.85 L1740.73,246.54 L1742.36,246.24 L1743.99,245.94 L1745.62,245.63 L1747.25,245.33 L1748.88,245.03 L1750.51,244.73 L1752.14,244.43 L1753.77,244.14 L1755.40,243.84 L1757.03,243.54 L1758.66,243.25 L1760.29,242.95 L1761.92,242.66 L1763.54,242.37 L1765.17,242.07 L1766.80,241.78 L1768.43,241.49 L1770.06,241.20 L1771.69,240.91 L1773.32,240.63 L1774.95,240.34 L1776.58,240.05 L1778.21,239.77 L1779.84,239.48 L1781.47,239.20 L1783.10,238.92 L1784.73,238.63 L1786.36,238.35 L1787.99,238.07 L1789.62,237.79 L1791.25,237.51 L1792.88,237.23 L1794.51,236.96 L1796.14,236.68 L1797.77,236.40 L1799.39,236.13 L1801.02,235.85 L1802.65,235.58 L1804.28,235.31 L1805.91,235.04 L1807.54,234.76 L1809.17,234.49 L1810.80,234.22 L1812.43,233.96 L1814.06,233.69 L1815.69,233.42 L1817.32,233.15 L1818.95,232.89 L1820.58,232.62 L1822.21,232.36 L1823.84,232.09 L1825.47,231.83 L1827.10,231.57 L1828.73,231.31 L1830.36,231.05 L1831.99,230.79 L1833.62,230.53 L1835.24,230.27 L1836.87,230.01 L1838.50,229.75 L1840.13,229.50 L1841.76,229.24 L1843.39,228.98 L1845.02,228.73 L1846.65,228.48 L1848.28,228.22 L1849.91,227.97 L1851.54,227.72 L1853.17,227.47 L1854.80,227.22 L1856.43,226.97 L1858.06,226.72 L1859.69,226.47 L1861.32,226.23 L1862.95,225.98 L1864.58,225.73 L1866.21,225.49 L1867.84,225.25 L1869.47,225.00 L1871.10,224.76 L1872.72,224.52 L1874.35,224.27 L1875.98,224.03 L1877.61,223.79 L1879.24,223.55 L1880.87,223.31 L1882.50,223.08 L1884.13,222.84 L1885.76,222.60 L1887.39,222.37 L1889.02,222.13 L1890.65,221.89 L1892.28,221.66 L1893.91,221.43 L1895.54,221.19 L1897.17,220.96 L1898.80,220.73 L1900.43,220.50 L1902.06,220.27 L1903.69,220.04 L1905.32,219.81 L1906.95,219.58" fill="none" stroke="#008000" stroke-width="4.5" stroke-dasharray="15 13.5"/>




<path d="M372.7,1424.8 L372.7,1504.0 M355.7,1424.8 L389.7,1424.8 M355.7,1504.0 L389.7,1504.0" fill="none" stroke="#008000" stroke-width="5"/>
<path d="M421.6,1311.0 L421.6,1449.7 M404.6,1311.0 L438.6,1311.0 M404.6,1449.7 L438.6,1449.7" fill="none" stroke="#008000" stroke-width="5"/>
<path d="M470.4,1208.7 L470.4,1326.3 M453.4,1208.7 L487.4,1208.7 M453.4,1326.3 L487.4,1326.3" fill="none" stroke="#008000" stroke-width="5"/>
<path d="M568.2,981.8 L568.2,1101.9 M551.2,981.8 L585.2,981.8 M551.2,1101.9 L585.2,1101.9" fill="none" stroke="#008000" stroke-width="5"/>
<path d="M665.9,798.8 L665.9,903.2 M648.9,798.8 L682.9,798.8 M648.9,903.2 L682.9,903.2" fill="none" stroke="#008000" stroke-width="5"/>
<path d="M763.6,656.5 L763.6,738.1 M746.6,656.5 L780.6,656.5 M746.6,738.1 L780.6,738.1" fill="none" stroke="#008000" stroke-width="5"/>
<path d="M861.4,522.7 L861.4,582.7 M844.4,522.7 L878.4,522.7 M844.4,582.7 L878.4,582.7" fill="none" stroke="#008000" stroke-width="5"/>












<path d="M275.0,1517.5 L290.0,1486.8 L260.0,1486.8 Z" fill="none" stroke="#008000" stroke-width="5.5" stroke-linejoin="miter" stroke-miterlimit="10"/>
<path d="M291.3,1513.9 L306.3,1483.2 L276.3,1483.2 Z" fill="none" stroke="#008000" stroke-width="5.5" stroke-linejoin="miter" stroke-miterlimit="10"/>
<path d="M307.6,1513.9 L322.6,1483.2 L292.6,1483.2 Z" fill="none" stroke="#008000" stroke-width="5.5" stroke-linejoin="miter" stroke-miterlimit="10"/>
<path d="M323.9,1503.1 L338.9,1472.4 L308.9,1472.4 Z" fill="none" stroke="#008000" stroke-width="5.5" stroke-linejoin="miter" stroke-miterlimit="10"/>
<path d="M372.7,1477.9 L387.7,1447.2 L357.7,1447.2 Z" fill="none" stroke="#008000" stroke-width="5.5" stroke-linejoin="miter" stroke-miterlimit="10"/>
<path d="M421.6,1393.9 L436.6,1363.2 L406.6,1363.2 Z" fill="none" stroke="#008000" stroke-width="5.5" stroke-linejoin="miter" stroke-miterlimit="10"/>
<path d="M470.4,1281.0 L485.4,1250.3 L455.4,1250.3 Z" fill="none" stroke="#008000" stroke-width="5.5" stroke-linejoin="miter" stroke-miterlimit="10"/>
<path d="M568.2,1055.3 L583.2,1024.6 L553.2,1024.6 Z" fill="none" stroke="#008000" stroke-width="5.5" stroke-linejoin="miter" stroke-miterlimit="10"/>
<path d="M665.9,864.5 L680.9,833.8 L650.9,833.8 Z" fill="none" stroke="#008000" stroke-width="5.5" stroke-linejoin="miter" stroke-miterlimit="10"/>
<path d="M763.6,710.8 L778.6,680.1 L748.6,680.1 Z" fill="none" stroke="#008000" stroke-width="5.5" stroke-linejoin="miter" stroke-miterlimit="10"/>
<path d="M861.4,566.2 L876.4,535.5 L846.4,535.5 Z" fill="none" stroke="#008000" stroke-width="5.5" stroke-linejoin="miter" stroke-miterlimit="10"/>
<path d="M959.1,462.3 L974.1,431.6 L944.1,431.6 Z" fill="none" stroke="#008000" stroke-width="5.5" stroke-linejoin="miter" stroke-miterlimit="10"/>
<path d="M1056.8,402.3 L1071.8,371.6 L1041.8,371.6 Z" fill="none" stroke="#008000" stroke-width="5.5" stroke-linejoin="miter" stroke-miterlimit="10"/>
<path d="M1154.5,362.7 L1169.5,332.0 L1139.5,332.0 Z" fill="none" stroke="#008000" stroke-width="5.5" stroke-linejoin="miter" stroke-miterlimit="10"/>
<path d="M1252.2,327.9 L1267.2,297.2 L1237.2,297.2 Z" fill="none" stroke="#008000" stroke-width="5.5" stroke-linejoin="miter" stroke-miterlimit="10"/>
<path d="M1350.0,309.9 L1365.0,279.2 L1335.0,279.2 Z" fill="none" stroke="#008000" stroke-width="5.5" stroke-linejoin="miter" stroke-miterlimit="10"/>
<path d="M1447.7,301.5 L1462.7,270.8 L1432.7,270.8 Z" fill="none" stroke="#008000" stroke-width="5.5" stroke-linejoin="miter" stroke-miterlimit="10"/>
<path d="M1545.4,303.9 L1560.4,273.2 L1530.4,273.2 Z" fill="none" stroke="#008000" stroke-width="5.5" stroke-linejoin="miter" stroke-miterlimit="10"/>
<path d="M1643.1,301.5 L1658.1,270.8 L1628.1,270.8 Z" fill="none" stroke="#008000" stroke-width="5.5" stroke-linejoin="miter" stroke-miterlimit="10"/>
<path d="M1740.9,296.7 L1755.9,266.0 L1725.9,266.0 Z" fill="none" stroke="#008000" stroke-width="5.5" stroke-linejoin="miter" stroke-miterlimit="10"/>
<path d="M1838.6,296.7 L1853.6,266.0 L1823.6,266.0 Z" fill="none" stroke="#008000" stroke-width="5.5" stroke-linejoin="miter" stroke-miterlimit="10"/>
<path d="M1936.3,302.7 L1951.3,272.0 L1921.3,272.0 Z" fill="none" stroke="#008000" stroke-width="5.5" stroke-linejoin="miter" stroke-miterlimit="10"/>
<path d="M2034.0,302.7 L2049.1,272.0 L2019.0,272.0 Z" fill="none" stroke="#008000" stroke-width="5.5" stroke-linejoin="miter" stroke-miterlimit="10"/>
<path d="M275.00,1504.00 L275.81,1503.92 L276.63,1503.78 L277.44,1503.59 L278.26,1503.37 L279.07,1503.11 L279.89,1502.83 L280.70,1502.52 L281.51,1502.19 L282.33,1501.83 L283.14,1501.45 L283.96,1501.06 L284.77,1500.64 L285.59,1500.21 L286.40,1499.76 L287.22,1499.29 L288.03,1498.81 L288.84,1498.31 L289.66,1497.80 L290.47,1497.27 L291.29,1496.72 L292.10,1496.17 L292.92,1495.60 L293.73,1495.01 L294.55,1494.41 L295.36,1493.80 L296.17,1493.18 L296.99,1492.55 L297.80,1491.90 L298.62,1491.24 L299.43,1490.57 L300.25,1489.89 L301.06,1489.20 L301.87,1488.49 L302.69,1487.78 L303.50,1487.05 L304.32,1486.32 L305.13,1485.57 L305.95,1484.82 L306.76,1484.05 L307.57,1483.28 L308.39,1482.49 L309.20,1481.70 L310.02,1480.90 L310.83,1480.08 L311.65,1479.26 L312.46,1478.43 L313.28,1477.59 L314.09,1476.74 L314.90,1475.89 L315.72,1475.02 L316.53,1474.15 L317.35,1473.27 L318.16,1472.38 L318.98,1471.48 L319.79,1470.57 L320.61,1469.66 L321.42,1468.74 L322.23,1467.81 L323.05,1466.87 L323.86,1465.93 L324.68,1464.98 L325.49,1464.02 L326.31,1463.05 L327.12,1462.08 L327.93,1461.09 L328.75,1460.11 L329.56,1459.11 L330.38,1458.11 L331.19,1457.10 L332.01,1456.09 L332.82,1455.07 L333.63,1454.04 L334.45,1453.00 L335.26,1451.96 L336.08,1450.91 L336.89,1449.86 L337.71,1448.80 L338.52,1447.73 L339.34,1446.66 L340.15,1445.58 L340.96,1444.50 L341.78,1443.40 L342.59,1442.31 L343.41,1441.21 L344.22,1440.10 L345.04,1438.98 L345.85,1437.86 L346.66,1436.74 L347.48,1435.61 L348.29,1434.47 L349.11,1433.33 L349.92,1432.18 L350.74,1431.03 L351.55,1429.87 L352.37,1428.71 L353.18,1427.54 L353.99,1426.37 L354.81,1425.19 L355.62,1424.01 L356.44,1422.82 L357.25,1421.63 L358.07,1420.43 L358.88,1419.23 L359.69,1418.02 L360.51,1416.81 L361.32,1415.59 L362.14,1414.37 L362.95,1413.14 L363.77,1411.91 L364.58,1410.67 L365.40,1409.43 L366.21,1408.19 L367.02,1406.94 L367.84,1405.69 L368.65,1404.43 L369.47,1403.17 L370.28,1401.90 L371.10,1400.63 L371.91,1399.36 L372.73,1398.08 L373.54,1396.80 L375.17,1394.22 L376.80,1391.62 L378.43,1389.02 L380.06,1386.39 L381.69,1383.75 L383.32,1381.10 L384.95,1378.43 L386.58,1375.74 L388.21,1373.05 L389.83,1370.34 L391.46,1367.61 L393.09,1364.88 L394.72,1362.13 L396.35,1359.37 L397.98,1356.59 L399.61,1353.81 L401.24,1351.01 L402.87,1348.20 L404.50,1345.38 L406.13,1342.55 L407.76,1339.71 L409.39,1336.86 L411.02,1334.00 L412.65,1331.12 L414.28,1328.24 L415.91,1325.35 L417.54,1322.45 L419.17,1319.54 L420.80,1316.62 L422.43,1313.69 L424.06,1310.75 L425.68,1307.81 L427.31,1304.86 L428.94,1301.90 L430.57,1298.93 L432.20,1295.95 L433.83,1292.97 L435.46,1289.98 L437.09,1286.98 L438.72,1283.98 L440.35,1280.97 L441.98,1277.95 L443.61,1274.93 L445.24,1271.90 L446.87,1268.86 L448.50,1265.82 L450.13,1262.77 L451.76,1259.72 L453.39,1256.67 L455.02,1253.61 L456.65,1250.54 L458.28,1247.47 L459.91,1244.39 L461.54,1241.31 L463.16,1238.23 L464.79,1235.14 L466.42,1232.05 L468.05,1228.96 L469.68,1225.86 L471.31,1222.75 L472.94,1219.65 L474.57,1216.54 L476.20,1213.43 L477.83,1210.32 L479.46,1207.20 L481.09,1204.08 L482.72,1200.96 L484.35,1197.84 L485.98,1194.71 L487.61,1191.58 L489.24,1188.45 L490.87,1185.32 L492.50,1182.19 L494.13,1179.06 L495.76,1175.92 L497.39,1172.79 L499.01,1169.65 L500.64,1166.51 L502.27,1163.38 L503.90,1160.24 L505.53,1157.10 L507.16,1153.96 L508.79,1150.82 L510.42,1147.68 L512.05,1144.54 L513.68,1141.40 L515.31,1138.26 L516.94,1135.12 L518.57,1131.98 L520.20,1128.84 L521.83,1125.71 L523.46,1122.57 L525.09,1119.43 L526.72,1116.30 L528.35,1113.17 L529.98,1110.03 L531.61,1106.90 L533.24,1103.77 L534.86,1100.65 L536.49,1097.52 L538.12,1094.40 L539.75,1091.27 L541.38,1088.15 L543.01,1085.04 L544.64,1081.92 L546.27,1078.81 L547.90,1075.69 L549.53,1072.59 L551.16,1069.48 L552.79,1066.37 L554.42,1063.27 L556.05,1060.18 L557.68,1057.08 L559.31,1053.99 L560.94,1050.90 L562.57,1047.81 L564.20,1044.73 L565.83,1041.65 L567.46,1038.57 L569.09,1035.50 L570.71,1032.43 L572.34,1029.37 L573.97,1026.30 L575.60,1023.25 L577.23,1020.19 L578.86,1017.14 L580.49,1014.10 L582.12,1011.05 L583.75,1008.02 L585.38,1004.98 L587.01,1001.95 L588.64,998.93 L590.27,995.91 L591.90,992.89 L593.53,989.88 L595.16,986.88 L596.79,983.87 L598.42,980.88 L600.05,977.88 L601.68,974.90 L603.31,971.92 L604.94,968.94 L606.56,965.97 L608.19,963.00 L609.82,960.04 L611.45,957.08 L613.08,954.13 L614.71,951.19 L616.34,948.25 L617.97,945.31 L619.60,942.38 L621.23,939.46 L622.86,936.54 L624.49,933.63 L626.12,930.73 L627.75,927.83 L629.38,924.93 L631.01,922.04 L632.64,919.16 L634.27,916.29 L635.90,913.42 L637.53,910.55 L639.16,907.69 L640.79,904.84 L642.41,902.00 L644.04,899.16 L645.67,896.33 L647.30,893.50 L648.93,890.68 L650.56,887.87 L652.19,885.06 L653.82,882.26 L655.45,879.47 L657.08,876.68 L658.71,873.90 L660.34,871.13 L661.97,868.36 L663.60,865.61 L665.23,862.85 L666.86,860.11 L668.49,857.37 L670.12,854.64 L671.75,851.91 L673.38,849.19 L675.01,846.48 L676.64,843.78 L678.27,841.08 L679.89,838.39 L681.52,835.71 L683.15,833.04 L684.78,830.37 L686.41,827.71 L688.04,825.06 L689.67,822.41 L691.30,819.77 L692.93,817.14 L694.56,814.52 L696.19,811.90 L697.82,809.29 L699.45,806.69 L701.08,804.10 L702.71,801.51 L704.34,798.93 L705.97,796.36 L707.60,793.80 L709.23,791.24 L710.86,788.69 L712.49,786.15 L714.12,783.62 L715.74,781.10 L717.37,778.58 L719.00,776.07 L720.63,773.57 L722.26,771.07 L723.89,768.59 L725.52,766.11 L727.15,763.64 L728.78,761.17 L730.41,758.72 L732.04,756.27 L733.67,753.83 L735.30,751.40 L736.93,748.98 L738.56,746.56 L740.19,744.15 L741.82,741.75 L743.45,739.36 L745.08,736.98 L746.71,734.60 L748.34,732.24 L749.97,729.88 L751.59,727.52 L753.22,725.18 L754.85,722.84 L756.48,720.52 L758.11,718.20 L759.74,715.88 L761.37,713.58 L763.00,711.28 L764.63,709.00 L766.26,706.72 L767.89,704.45 L769.52,702.18 L771.15,699.93 L772.78,697.68 L774.41,695.44 L776.04,693.21 L777.67,690.99 L779.30,688.77 L780.93,686.56 L782.56,684.36 L784.19,682.17 L785.82,679.99 L787.44,677.82 L789.07,675.65 L790.70,673.49 L792.33,671.34 L793.96,669.20 L795.59,667.07 L797.22,664.94 L798.85,662.82 L800.48,660.71 L802.11,658.61 L803.74,656.52 L805.37,654.43 L807.00,652.35 L808.63,650.28 L810.26,648.22 L811.89,646.17 L813.52,644.13 L815.15,642.09 L816.78,640.06 L818.41,638.04 L820.04,636.03 L821.67,634.02 L823.29,632.02 L824.92,630.04 L826.55,628.05 L828.18,626.08 L829.81,624.12 L831.44,622.16 L833.07,620.21 L834.70,618.27 L836.33,616.34 L837.96,614.41 L839.59,612.50 L841.22,610.59 L842.85,608.69 L844.48,606.79 L846.11,604.91 L847.74,603.03 L849.37,601.16 L851.00,599.30 L852.63,597.45 L854.26,595.60 L855.89,593.77 L857.52,591.94 L859.15,590.11 L860.77,588.30 L862.40,586.49 L864.03,584.70 L865.66,582.90 L867.29,581.12 L868.92,579.35 L870.55,577.58 L872.18,575.82 L873.81,574.07 L875.44,572.32 L877.07,570.59 L878.70,568.86 L880.33,567.14 L881.96,565.43 L883.59,563.72 L885.22,562.02 L886.85,560.33 L888.48,558.65 L890.11,556.97 L891.74,555.31 L893.37,553.65 L895.00,551.99 L896.62,550.35 L898.25,548.71 L899.88,547.08 L901.51,545.46 L903.14,543.85 L904.77,542.24 L906.40,540.64 L908.03,539.05 L909.66,537.46 L911.29,535.88 L912.92,534.31 L914.55,532.75 L916.18,531.19 L917.81,529.65 L919.44,528.10 L921.07,526.57 L922.70,525.04 L924.33,523.53 L925.96,522.01 L927.59,520.51 L929.22,519.01 L930.85,517.52 L932.47,516.04 L934.10,514.56 L935.73,513.09 L937.36,511.63 L938.99,510.18 L940.62,508.73 L942.25,507.29 L943.88,505.86 L945.51,504.43 L947.14,503.01 L948.77,501.60 L950.40,500.19 L952.03,498.80 L953.66,497.40 L955.29,496.02 L956.92,494.64 L958.55,493.27 L960.18,491.91 L961.81,490.55 L963.44,489.20 L965.07,487.86 L966.70,486.52 L968.32,485.19 L969.95,483.87 L971.58,482.55 L973.21,481.24 L974.84,479.94 L976.47,478.64 L978.10,477.35 L979.73,476.07 L981.36,474.79 L982.99,473.52 L984.62,472.26 L986.25,471.00 L987.88,469.75 L989.51,468.50 L991.14,467.27 L992.77,466.04 L994.40,464.81 L996.03,463.59 L997.66,462.38 L999.29,461.18 L1000.92,459.98 L1002.55,458.78 L1004.17,457.60 L1005.80,456.42 L1007.43,455.24 L1009.06,454.07 L1010.69,452.91 L1012.32,451.76 L1013.95,450.61 L1015.58,449.46 L1017.21,448.33 L1018.84,447.20 L1020.47,446.07 L1022.10,444.95 L1023.73,443.84 L1025.36,442.73 L1026.99,441.63 L1028.62,440.54 L1030.25,439.45 L1031.88,438.36 L1033.51,437.29 L1035.14,436.22 L1036.77,435.15 L1038.40,434.09 L1040.02,433.04 L1041.65,431.99 L1043.28,430.95 L1044.91,429.91 L1046.54,428.88 L1048.17,427.86 L1049.80,426.84 L1051.43,425.82 L1053.06,424.82 L1054.69,423.81 L1056.32,422.82 L1057.95,421.83 L1059.58,420.84 L1061.21,419.86 L1062.84,418.89 L1064.47,417.92 L1066.10,416.95 L1067.73,415.99 L1069.36,415.04 L1070.99,414.09 L1072.62,413.15 L1074.25,412.22 L1075.88,411.29 L1077.50,410.36 L1079.13,409.44 L1080.76,408.52 L1082.39,407.61 L1084.02,406.71 L1085.65,405.81 L1087.28,404.91 L1088.91,404.03 L1090.54,403.14 L1092.17,402.26 L1093.80,401.39 L1095.43,400.52 L1097.06,399.66 L1098.69,398.80 L1100.32,397.94 L1101.95,397.09 L1103.58,396.25 L1105.21,395.41 L1106.84,394.58 L1108.47,393.75 L1110.10,392.92 L1111.73,392.11 L1113.35,391.29 L1114.98,390.48 L1116.61,389.68 L1118.24,388.88 L1119.87,388.08 L1121.50,387.29 L1123.13,386.51 L1124.76,385.72 L1126.39,384.95 L1128.02,384.18 L1129.65,383.41 L1131.28,382.65 L1132.91,381.89 L1134.54,381.13 L1136.17,380.39 L1137.80,379.64 L1139.43,378.90 L1141.06,378.17 L1142.69,377.44 L1144.32,376.71 L1145.95,375.99 L1147.58,375.27 L1149.20,374.56 L1150.83,373.85 L1152.46,373.14 L1154.09,372.44 L1155.72,371.75 L1157.35,371.05 L1158.98,370.37 L1160.61,369.68 L1162.24,369.00 L1163.87,368.33 L1165.50,367.66 L1167.13,366.99 L1168.76,366.33 L1170.39,365.67 L1172.02,365.02 L1173.65,364.37 L1175.28,363.72 L1176.91,363.08 L1178.54,362.44 L1180.17,361.81 L1181.80,361.18 L1183.43,360.55 L1185.05,359.93 L1186.68,359.31 L1188.31,358.70 L1189.94,358.09 L1191.57,357.48 L1193.20,356.88 L1194.83,356.28 L1196.46,355.68 L1198.09,355.09 L1199.72,354.51 L1201.35,353.92 L1202.98,353.34 L1204.61,352.76 L1206.24,352.19 L1207.87,351.62 L1209.50,351.06 L1211.13,350.50 L1212.76,349.94 L1214.39,349.38 L1216.02,348.83 L1217.65,348.29 L1219.28,347.74 L1220.90,347.20 L1222.53,346.66 L1224.16,346.13 L1225.79,345.60 L1227.42,345.07 L1229.05,344.55 L1230.68,344.03 L1232.31,343.52 L1233.94,343.00 L1235.57,342.49 L1237.20,341.99 L1238.83,341.48 L1240.46,340.98 L1242.09,340.49 L1243.72,340.00 L1245.35,339.51 L1246.98,339.02 L1248.61,338.54 L1250.24,338.06 L1251.87,337.58 L1253.50,337.10 L1255.13,336.63 L1256.76,336.17 L1258.38,335.70 L1260.01,335.24 L1261.64,334.78 L1263.27,334.33 L1264.90,333.88 L1266.53,333.43 L1268.16,332.98 L1269.79,332.54 L1271.42,332.10 L1273.05,331.66 L1274.68,331.23 L1276.31,330.79 L1277.94,330.37 L1279.57,329.94 L1281.20,329.52 L1282.83,329.10 L1284.46,328.68 L1286.09,328.27 L1287.72,327.86 L1289.35,327.45 L1290.98,327.04 L1292.61,326.64 L1294.23,326.24 L1295.86,325.84 L1297.49,325.45 L1299.12,325.05 L1300.75,324.66 L1302.38,324.28 L1304.01,323.89 L1305.64,323.51 L1307.27,323.13 L1308.90,322.76 L1310.53,322.38 L1312.16,322.01 L1313.79,321.64 L1315.42,321.28 L1317.05,320.92 L1318.68,320.55 L1320.31,320.20 L1321.94,319.84 L1323.57,319.49 L1325.20,319.14 L1326.83,318.79 L1328.46,318.44 L1330.08,318.10 L1331.71,317.76 L1333.34,317.42 L1334.97,317.08 L1336.60,316.75 L1338.23,316.42 L1339.86,316.09 L1341.49,315.76 L1343.12,315.43 L1344.75,315.11 L1346.38,314.79 L1348.01,314.47 L1349.64,314.16 L1351.27,313.84 L1352.90,313.53 L1354.53,313.22 L1356.16,312.92 L1357.79,312.61 L1359.42,312.31 L1361.05,312.01 L1362.68,311.71 L1364.31,311.42 L1365.93,311.12 L1367.56,310.83 L1369.19,310.54 L1370.82,310.25 L1372.45,309.97 L1374.08,309.68 L1375.71,309.40 L1377.34,309.12 L1378.97,308.85 L1380.60,308.57 L1382.23,308.30 L1383.86,308.02 L1385.49,307.76 L1387.12,307.49 L1388.75,307.22 L1390.38,306.96 L1392.01,306.70 L1393.64,306.44 L1395.27,306.18 L1396.90,305.92 L1398.53,305.67 L1400.16,305.42 L1401.78,305.17 L1403.41,304.92 L1405.04,304.67 L1406.67,304.42 L1408.30,304.18 L1409.93,303.94 L1411.56,303.70 L1413.19,303.46 L1414.82,303.23 L1416.45,302.99 L1418.08,302.76 L1419.71,302.53 L1421.34,302.30 L1422.97,302.07 L1424.60,301.85 L1426.23,301.62 L1427.86,301.40 L1429.49,301.18 L1431.12,300.96 L1432.75,300.74 L1434.38,300.52 L1436.01,300.31 L1437.63,300.10 L1439.26,299.89 L1440.89,299.68 L1442.52,299.47 L1444.15,299.26 L1445.78,299.06 L1447.41,298.85 L1449.04,298.65 L1450.67,298.45 L1452.30,298.25 L1453.93,298.05 L1455.56,297.86 L1457.19,297.66 L1458.82,297.47 L1460.45,297.28 L1462.08,297.09 L1463.71,296.90 L1465.34,296.71 L1466.97,296.53 L1468.60,296.34 L1470.23,296.16 L1471.86,295.98 L1473.49,295.80 L1475.11,295.62 L1476.74,295.44 L1478.37,295.27 L1480.00,295.09 L1481.63,294.92 L1483.26,294.75 L1484.89,294.58 L1486.52,294.41 L1488.15,294.24 L1489.78,294.07 L1491.41,293.91 L1493.04,293.74 L1494.67,293.58 L1496.30,293.42 L1497.93,293.26 L1499.56,293.10 L1501.19,292.94 L1502.82,292.78 L1504.45,292.63 L1506.08,292.47 L1507.71,292.32 L1509.34,292.17 L1510.96,292.02 L1512.59,291.87 L1514.22,291.72 L1515.85,291.57 L1517.48,291.42 L1519.11,291.28 L1520.74,291.13 L1522.37,290.99 L1524.00,290.85 L1525.63,290.71 L1527.26,290.57 L1528.89,290.43 L1530.52,290.29 L1532.15,290.16 L1533.78,290.02 L1535.41,289.89 L1537.04,289.76 L1538.67,289.62 L1540.30,289.49 L1541.93,289.36 L1543.56,289.23 L1545.19,289.11 L1546.81,288.98 L1548.44,288.85 L1550.07,288.73 L1551.70,288.60 L1553.33,288.48 L1554.96,288.36 L1556.59,288.24 L1558.22,288.12 L1559.85,288.00 L1561.48,287.88 L1563.11,287.76 L1564.74,287.65 L1566.37,287.53 L1568.00,287.42 L1569.63,287.31 L1571.26,287.19 L1572.89,287.08 L1574.52,286.97 L1576.15,286.86 L1577.78,286.75 L1579.41,286.64 L1581.04,286.54 L1582.66,286.43 L1584.29,286.32 L1585.92,286.22 L1587.55,286.12 L1589.18,286.01 L1590.81,285.91 L1592.44,285.81 L1594.07,285.71 L1595.70,285.61 L1597.33,285.51 L1598.96,285.41 L1600.59,285.32 L1602.22,285.22 L1603.85,285.12 L1605.48,285.03 L1607.11,284.93 L1608.74,284.84 L1610.37,284.75 L1612.00,284.66 L1613.63,284.57 L1615.26,284.48 L1616.89,284.39 L1618.51,284.30 L1620.14,284.21 L1621.77,284.12 L1623.40,284.03 L1625.03,283.95 L1626.66,283.86 L1628.29,283.78 L1629.92,283.69 L1631.55,283.61 L1633.18,283.53 L1634.81,283.45 L1636.44,283.37 L1638.07,283.29 L1639.70,283.21 L1641.33,283.13 L1642.96,283.05 L1644.59,282.97 L1646.22,282.89 L1647.85,282.82 L1649.48,282.74 L1651.11,282.67 L1652.74,282.59 L1654.37,282.52 L1655.99,282.44 L1657.62,282.37 L1659.25,282.30 L1660.88,282.23 L1662.51,282.16 L1664.14,282.09 L1665.77,282.02 L1667.40,281.95 L1669.03,281.88 L1670.66,281.81 L1672.29,281.74 L1673.92,281.68 L1675.55,281.61 L1677.18,281.54 L1678.81,281.48 L1680.44,281.41 L1682.07,281.35 L1683.70,281.29 L1685.33,281.22 L1686.96,281.16 L1688.59,281.10 L1690.22,281.04 L1691.84,280.98 L1693.47,280.91 L1695.10,280.85 L1696.73,280.80 L1698.36,280.74 L1699.99,280.68 L1701.62,280.62 L1703.25,280.56 L1704.88,280.51 L1706.51,280.45 L1708.14,280.39 L1709.77,280.34 L1711.40,280.28 L1713.03,280.23 L1714.66,280.17 L1716.29,280.12 L1717.92,280.07 L1719.55,280.01 L1721.18,279.96 L1722.81,279.91 L1724.44,279.86 L1726.07,279.81 L1727.69,279.76 L1729.32,279.71 L1730.95,279.66 L1732.58,279.61 L1734.21,279.56 L1735.84,279.51 L1737.47,279.46 L1739.10,279.42 L1740.73,279.37 L1742.36,279.32 L1743.99,279.28 L1745.62,279.23 L1747.25,279.18 L1748.88,279.14 L1750.51,279.10 L1752.14,279.05 L1753.77,279.01 L1755.40,278.96 L1757.03,278.92 L1758.66,278.88 L1760.29,278.83 L1761.92,278.79 L1763.54,278.75 L1765.17,278.71 L1766.80,278.67 L1768.43,278.63 L1770.06,278.59 L1771.69,278.55 L1773.32,278.51 L1774.95,278.47 L1776.58,278.43 L1778.21,278.39 L1779.84,278.35 L1781.47,278.32 L1783.10,278.28 L1784.73,278.24 L1786.36,278.20 L1787.99,278.17 L1789.62,278.13 L1791.25,278.10 L1792.88,278.06 L1794.51,278.03 L1796.14,277.99 L1797.77,277.96 L1799.39,277.92 L1801.02,277.89 L1802.65,277.85 L1804.28,277.82 L1805.91,277.79 L1807.54,277.75 L1809.17,277.72 L1810.80,277.69 L1812.43,277.66 L1814.06,277.63 L1815.69,277.59 L1817.32,277.56 L1818.95,277.53 L1820.58,277.50 L1822.21,277.47 L1823.84,277.44 L1825.47,277.41 L1827.10,277.38 L1828.73,277.35 L1830.36,277.32 L1831.99,277.30 L1833.62,277.27 L1835.24,277.24 L1836.87,277.21 L1838.50,277.18 L1840.13,277.16 L1841.76,277.13 L1843.39,277.10 L1845.02,277.08 L1846.65,277.05 L1848.28,277.02 L1849.91,277.00 L1851.54,276.97 L1853.17,276.95 L1854.80,276.92 L1856.43,276.90 L1858.06,276.87 L1859.69,276.85 L1861.32,276.82 L1862.95,276.80 L1864.58,276.77 L1866.21,276.75 L1867.84,276.73 L1869.47,276.70 L1871.10,276.68 L1872.72,276.66 L1874.35,276.63 L1875.98,276.61 L1877.61,276.59 L1879.24,276.57 L1880.87,276.55 L1882.50,276.52 L1884.13,276.50 L1885.76,276.48 L1887.39,276.46 L1889.02,276.44 L1890.65,276.42 L1892.28,276.40 L1893.91,276.38 L1895.54,276.36 L1897.17,276.34 L1898.80,276.32 L1900.43,276.30 L1902.06,276.28 L1903.69,276.26 L1905.32,276.24 L1906.95,276.22 L1908.57,276.20 L1910.20,276.19 L1911.83,276.17 L1913.46,276.15 L1915.09,276.13 L1916.72,276.11 L1918.35,276.10 L1919.98,276.08 L1921.61,276.06 L1923.24,276.04 L1924.87,276.03 L1926.50,276.01 L1928.13,275.99 L1929.76,275.98 L1931.39,275.96 L1933.02,275.94 L1934.65,275.93 L1936.28,275.91 L1937.91,275.90 L1939.54,275.88 L1941.17,275.86 L1942.80,275.85 L1944.42,275.83 L1946.05,275.82 L1947.68,275.80 L1949.31,275.79 L1950.94,275.78 L1952.57,275.76 L1954.20,275.75 L1955.83,275.73 L1957.46,275.72 L1959.09,275.70 L1960.72,275.69 L1962.35,275.68 L1963.98,275.66 L1965.61,275.65 L1967.24,275.64 L1968.87,275.62 L1970.50,275.61 L1972.13,275.60 L1973.76,275.58 L1975.39,275.57 L1977.02,275.56 L1978.65,275.55 L1980.27,275.53 L1981.90,275.52 L1983.53,275.51 L1985.16,275.50 L1986.79,275.49 L1988.42,275.47 L1990.05,275.46 L1991.68,275.45 L1993.31,275.44 L1994.94,275.43 L1996.57,275.42 L1998.20,275.41 L1999.83,275.40 L2001.46,275.38 L2003.09,275.37 L2004.72,275.36 L2006.35,275.35 L2007.98,275.34 L2009.61,275.33 L2011.24,275.32 L2012.87,275.31 L2014.50,275.30 L2016.12,275.29 L2017.75,275.28 L2019.38,275.27 L2021.01,275.26 L2022.64,275.25 L2024.27,275.24 L2025.90,275.23 L2027.53,275.22 L2029.16,275.21 L2030.79,275.21 L2032.42,275.20 L2034.05,275.19" fill="none" stroke="#000000" stroke-width="4.5"/>
<path d="M275.00,1504.00 L275.81,1502.11 L276.63,1500.21 L277.44,1498.33 L278.26,1496.44 L279.07,1494.56 L279.89,1492.68 L280.70,1490.80 L281.51,1488.92 L282.33,1487.05 L283.14,1485.18 L283.96,1483.31 L284.77,1481.44 L285.59,1479.58 L286.40,1477.72 L287.22,1475.86 L288.03,1474.01 L288.84,1472.16 L289.66,1470.31 L290.47,1468.46 L291.29,1466.61 L292.10,1464.77 L292.92,1462.93 L293.73,1461.10 L294.55,1459.26 L295.36,1457.43 L296.17,1455.60 L296.99,1453.77 L297.80,1451.95 L298.62,1450.13 L299.43,1448.31 L300.25,1446.49 L301.06,1444.68 L301.87,1442.87 L302.69,1441.06 L303.50,1439.25 L304.32,1437.45 L305.13,1435.64 L305.95,1433.84 L306.76,1432.05 L307.57,1430.25 L308.39,1428.46 L309.20,1426.67 L310.02,1424.89 L310.83,1423.10 L311.65,1421.32 L312.46,1419.54 L313.28,1417.76 L314.09,1415.99 L314.90,1414.22 L315.72,1412.45 L316.53,1410.68 L317.35,1408.92 L318.16,1407.15 L318.98,1405.40 L319.79,1403.64 L320.61,1401.88 L321.42,1400.13 L322.23,1398.38 L323.05,1396.63 L323.86,1394.89 L324.68,1393.15 L325.49,1391.41 L326.31,1389.67 L327.12,1387.93 L327.93,1386.20 L328.75,1384.47 L329.56,1382.74 L330.38,1381.02 L331.19,1379.29 L332.01,1377.57 L332.82,1375.85 L333.63,1374.14 L334.45,1372.42 L335.26,1370.71 L336.08,1369.00 L336.89,1367.30 L337.71,1365.59 L338.52,1363.89 L339.34,1362.19 L340.15,1360.49 L340.96,1358.80 L341.78,1357.11 L342.59,1355.42 L343.41,1353.73 L344.22,1352.04 L345.04,1350.36 L345.85,1348.68 L346.66,1347.00 L347.48,1345.32 L348.29,1343.65 L349.11,1341.98 L349.92,1340.31 L350.74,1338.64 L351.55,1336.98 L352.37,1335.32 L353.18,1333.66 L353.99,1332.00 L354.81,1330.34 L355.62,1328.69 L356.44,1327.04 L357.25,1325.39 L358.07,1323.75 L358.88,1322.10 L359.69,1320.46 L360.51,1318.82 L361.32,1317.18 L362.14,1315.55 L362.95,1313.92 L363.77,1312.29 L364.58,1310.66 L365.40,1309.03 L366.21,1307.41 L367.02,1305.79 L367.84,1304.17 L368.65,1302.55 L369.47,1300.94 L370.28,1299.33 L371.10,1297.72 L371.91,1296.11 L372.73,1294.50 L373.54,1292.90 L375.17,1289.70 L376.80,1286.51 L378.43,1283.32 L380.06,1280.15 L381.69,1276.98 L383.32,1273.82 L384.95,1270.68 L386.58,1267.54 L388.21,1264.41 L389.83,1261.28 L391.46,1258.17 L393.09,1255.06 L394.72,1251.97 L396.35,1248.88 L397.98,1245.80 L399.61,1242.73 L401.24,1239.67 L402.87,1236.61 L404.50,1233.57 L406.13,1230.53 L407.76,1227.50 L409.39,1224.48 L411.02,1221.47 L412.65,1218.47 L414.28,1215.48 L415.91,1212.49 L417.54,1209.51 L419.17,1206.54 L420.80,1203.58 L422.43,1200.63 L424.06,1197.68 L425.68,1194.74 L427.31,1191.81 L428.94,1188.89 L430.57,1185.98 L432.20,1183.08 L433.83,1180.18 L435.46,1177.29 L437.09,1174.41 L438.72,1171.54 L440.35,1168.67 L441.98,1165.82 L443.61,1162.97 L445.24,1160.13 L446.87,1157.29 L448.50,1154.47 L450.13,1151.65 L451.76,1148.84 L453.39,1146.04 L455.02,1143.25 L456.65,1140.46 L458.28,1137.68 L459.91,1134.91 L461.54,1132.15 L463.16,1129.40 L464.79,1126.65 L466.42,1123.91 L468.05,1121.18 L469.68,1118.45 L471.31,1115.73 L472.94,1113.02 L474.57,1110.32 L476.20,1107.63 L477.83,1104.94 L479.46,1102.26 L481.09,1099.59 L482.72,1096.92 L484.35,1094.27 L485.98,1091.62 L487.61,1088.97 L489.24,1086.34 L490.87,1083.71 L492.50,1081.09 L494.13,1078.48 L495.76,1075.87 L497.39,1073.27 L499.01,1070.68 L500.64,1068.09 L502.27,1065.52 L503.90,1062.95 L505.53,1060.38 L507.16,1057.83 L508.79,1055.28 L510.42,1052.74 L512.05,1050.20 L513.68,1047.67 L515.31,1045.15 L516.94,1042.64 L518.57,1040.13 L520.20,1037.63 L521.83,1035.14 L523.46,1032.65 L525.09,1030.18 L526.72,1027.70 L528.35,1025.24 L529.98,1022.78 L531.61,1020.33 L533.24,1017.88 L534.86,1015.45 L536.49,1013.01 L538.12,1010.59 L539.75,1008.17 L541.38,1005.76 L543.01,1003.36 L544.64,1000.96 L546.27,998.57 L547.90,996.18 L549.53,993.81 L551.16,991.43 L552.79,989.07 L554.42,986.71 L556.05,984.36 L557.68,982.01 L559.31,979.68 L560.94,977.34 L562.57,975.02 L564.20,972.70 L565.83,970.39 L567.46,968.08 L569.09,965.78 L570.71,963.49 L572.34,961.20 L573.97,958.92 L575.60,956.65 L577.23,954.38 L578.86,952.12 L580.49,949.86 L582.12,947.61 L583.75,945.37 L585.38,943.13 L587.01,940.90 L588.64,938.68 L590.27,936.46 L591.90,934.25 L593.53,932.04 L595.16,929.84 L596.79,927.65 L598.42,925.46 L600.05,923.28 L601.68,921.10 L603.31,918.93 L604.94,916.77 L606.56,914.61 L608.19,912.46 L609.82,910.32 L611.45,908.18 L613.08,906.04 L614.71,903.91 L616.34,901.79 L617.97,899.68 L619.60,897.57 L621.23,895.46 L622.86,893.37 L624.49,891.27 L626.12,889.19 L627.75,887.11 L629.38,885.03 L631.01,882.96 L632.64,880.90 L634.27,878.84 L635.90,876.79 L637.53,874.74 L639.16,872.70 L640.79,870.67 L642.41,868.64 L644.04,866.61 L645.67,864.59 L647.30,862.58 L648.93,860.57 L650.56,858.57 L652.19,856.58 L653.82,854.59 L655.45,852.60 L657.08,850.62 L658.71,848.65 L660.34,846.68 L661.97,844.72 L663.60,842.76 L665.23,840.81 L666.86,838.86 L668.49,836.92 L670.12,834.99 L671.75,833.05 L673.38,831.13 L675.01,829.21 L676.64,827.30 L678.27,825.39 L679.89,823.48 L681.52,821.58 L683.15,819.69 L684.78,817.80 L686.41,815.92 L688.04,814.04 L689.67,812.17 L691.30,810.30 L692.93,808.44 L694.56,806.59 L696.19,804.73 L697.82,802.89 L699.45,801.05 L701.08,799.21 L702.71,797.38 L704.34,795.55 L705.97,793.73 L707.60,791.92 L709.23,790.11 L710.86,788.30 L712.49,786.50 L714.12,784.70 L715.74,782.91 L717.37,781.13 L719.00,779.35 L720.63,777.57 L722.26,775.80 L723.89,774.03 L725.52,772.27 L727.15,770.51 L728.78,768.76 L730.41,767.02 L732.04,765.28 L733.67,763.54 L735.30,761.81 L736.93,760.08 L738.56,758.36 L740.19,756.64 L741.82,754.93 L743.45,753.22 L745.08,751.51 L746.71,749.82 L748.34,748.12 L749.97,746.43 L751.59,744.75 L753.22,743.07 L754.85,741.39 L756.48,739.72 L758.11,738.06 L759.74,736.39 L761.37,734.74 L763.00,733.09 L764.63,731.44 L766.26,729.80 L767.89,728.16 L769.52,726.52 L771.15,724.89 L772.78,723.27 L774.41,721.65 L776.04,720.03 L777.67,718.42 L779.30,716.81 L780.93,715.21 L782.56,713.61 L784.19,712.02 L785.82,710.43 L787.44,708.85 L789.07,707.27 L790.70,705.69 L792.33,704.12 L793.96,702.55 L795.59,700.99 L797.22,699.43 L798.85,697.88 L800.48,696.33 L802.11,694.78 L803.74,693.24 L805.37,691.70 L807.00,690.17 L808.63,688.64 L810.26,687.12 L811.89,685.60 L813.52,684.08 L815.15,682.57 L816.78,681.06 L818.41,679.56 L820.04,678.06 L821.67,676.57 L823.29,675.08 L824.92,673.59 L826.55,672.11 L828.18,670.63 L829.81,669.15 L831.44,667.68 L833.07,666.22 L834.70,664.76 L836.33,663.30 L837.96,661.84 L839.59,660.39 L841.22,658.95 L842.85,657.51 L844.48,656.07 L846.11,654.64 L847.74,653.21 L849.37,651.78 L851.00,650.36 L852.63,648.94 L854.26,647.53 L855.89,646.12 L857.52,644.71 L859.15,643.31 L860.77,641.91 L862.40,640.52 L864.03,639.12 L865.66,637.74 L867.29,636.35 L868.92,634.98 L870.55,633.60 L872.18,632.23 L873.81,630.86 L875.44,629.50 L877.07,628.14 L878.70,626.78 L880.33,625.43 L881.96,624.08 L883.59,622.74 L885.22,621.39 L886.85,620.06 L888.48,618.72 L890.11,617.39 L891.74,616.07 L893.37,614.74 L895.00,613.42 L896.62,612.11 L898.25,610.80 L899.88,609.49 L901.51,608.18 L903.14,606.88 L904.77,605.59 L906.40,604.29 L908.03,603.00 L909.66,601.72 L911.29,600.43 L912.92,599.15 L914.55,597.88 L916.18,596.61 L917.81,595.34 L919.44,594.07 L921.07,592.81 L922.70,591.55 L924.33,590.30 L925.96,589.05 L927.59,587.80 L929.22,586.55 L930.85,585.31 L932.47,584.08 L934.10,582.84 L935.73,581.61 L937.36,580.38 L938.99,579.16 L940.62,577.94 L942.25,576.72 L943.88,575.51 L945.51,574.30 L947.14,573.09 L948.77,571.89 L950.40,570.69 L952.03,569.49 L953.66,568.30 L955.29,567.11 L956.92,565.92 L958.55,564.74 L960.18,563.56 L961.81,562.38 L963.44,561.21 L965.07,560.04 L966.70,558.87 L968.32,557.71 L969.95,556.54 L971.58,555.39 L973.21,554.23 L974.84,553.08 L976.47,551.93 L978.10,550.79 L979.73,549.65 L981.36,548.51 L982.99,547.37 L984.62,546.24 L986.25,545.11 L987.88,543.99 L989.51,542.86 L991.14,541.74 L992.77,540.63 L994.40,539.52 L996.03,538.40 L997.66,537.30 L999.29,536.19 L1000.92,535.09 L1002.55,533.99 L1004.17,532.90 L1005.80,531.81 L1007.43,530.72 L1009.06,529.63 L1010.69,528.55 L1012.32,527.47 L1013.95,526.39 L1015.58,525.32 L1017.21,524.25 L1018.84,523.18 L1020.47,522.12 L1022.10,521.05 L1023.73,519.99 L1025.36,518.94 L1026.99,517.89 L1028.62,516.84 L1030.25,515.79 L1031.88,514.74 L1033.51,513.70 L1035.14,512.66 L1036.77,511.63 L1038.40,510.59 L1040.02,509.56 L1041.65,508.54 L1043.28,507.51 L1044.91,506.49 L1046.54,505.47 L1048.17,504.46 L1049.80,503.44 L1051.43,502.43 L1053.06,501.43 L1054.69,500.42 L1056.32,499.42 L1057.95,498.42 L1059.58,497.43 L1061.21,496.43 L1062.84,495.44 L1064.47,494.45 L1066.10,493.47 L1067.73,492.49 L1069.36,491.51 L1070.99,490.53 L1072.62,489.55 L1074.25,488.58 L1075.88,487.61 L1077.50,486.65 L1079.13,485.68 L1080.76,484.72 L1082.39,483.77 L1084.02,482.81 L1085.65,481.86 L1087.28,480.91 L1088.91,479.96 L1090.54,479.01 L1092.17,478.07 L1093.80,477.13 L1095.43,476.20 L1097.06,475.26 L1098.69,474.33 L1100.32,473.40 L1101.95,472.47 L1103.58,471.55 L1105.21,470.63 L1106.84,469.71 L1108.47,468.79 L1110.10,467.88 L1111.73,466.97 L1113.35,466.06 L1114.98,465.15 L1116.61,464.25 L1118.24,463.35 L1119.87,462.45 L1121.50,461.55 L1123.13,460.66 L1124.76,459.76 L1126.39,458.88 L1128.02,457.99 L1129.65,457.11 L1131.28,456.22 L1132.91,455.34 L1134.54,454.47 L1136.17,453.59 L1137.80,452.72 L1139.43,451.85 L1141.06,450.99 L1142.69,450.12 L1144.32,449.26 L1145.95,448.40 L1147.58,447.54 L1149.20,446.69 L1150.83,445.83 L1152.46,444.98 L1154.09,444.14 L1155.72,443.29 L1157.35,442.45 L1158.98,441.61 L1160.61,440.77 L1162.24,439.93 L1163.87,439.10 L1165.50,438.27 L1167.13,437.44 L1168.76,436.61 L1170.39,435.79 L1172.02,434.96 L1173.65,434.14 L1175.28,433.33 L1176.91,432.51 L1178.54,431.70 L1180.17,430.89 L1181.80,430.08 L1183.43,429.27 L1185.05,428.47 L1186.68,427.66 L1188.31,426.86 L1189.94,426.07 L1191.57,425.27 L1193.20,424.48 L1194.83,423.69 L1196.46,422.90 L1198.09,422.11 L1199.72,421.33 L1201.35,420.55 L1202.98,419.77 L1204.61,418.99 L1206.24,418.21 L1207.87,417.44 L1209.50,416.67 L1211.13,415.90 L1212.76,415.13 L1214.39,414.37 L1216.02,413.60 L1217.65,412.84 L1219.28,412.08 L1220.90,411.33 L1222.53,410.57 L1224.16,409.82 L1225.79,409.07 L1227.42,408.32 L1229.05,407.57 L1230.68,406.83 L1232.31,406.09 L1233.94,405.35 L1235.57,404.61 L1237.20,403.88 L1238.83,403.14 L1240.46,402.41 L1242.09,401.68 L1243.72,400.95 L1245.35,400.23 L1246.98,399.50 L1248.61,398.78 L1250.24,398.06 L1251.87,397.34 L1253.50,396.63 L1255.13,395.91 L1256.76,395.20 L1258.38,394.49 L1260.01,393.79 L1261.64,393.08 L1263.27,392.38 L1264.90,391.67 L1266.53,390.97 L1268.16,390.28 L1269.79,389.58 L1271.42,388.89 L1273.05,388.19 L1274.68,387.50 L1276.31,386.82 L1277.94,386.13 L1279.57,385.44 L1281.20,384.76 L1282.83,384.08 L1284.46,383.40 L1286.09,382.72 L1287.72,382.05 L1289.35,381.38 L1290.98,380.71 L1292.61,380.04 L1294.23,379.37 L1295.86,378.70 L1297.49,378.04 L1299.12,377.38 L1300.75,376.72 L1302.38,376.06 L1304.01,375.40 L1305.64,374.75 L1307.27,374.09 L1308.90,373.44 L1310.53,372.79 L1312.16,372.15 L1313.79,371.50 L1315.42,370.86 L1317.05,370.21 L1318.68,369.57 L1320.31,368.93 L1321.94,368.30 L1323.57,367.66 L1325.20,367.03 L1326.83,366.40 L1328.46,365.77 L1330.08,365.14 L1331.71,364.51 L1333.34,363.89 L1334.97,363.27 L1336.60,362.65 L1338.23,362.03 L1339.86,361.41 L1341.49,360.79 L1343.12,360.18 L1344.75,359.57 L1346.38,358.96 L1348.01,358.35 L1349.64,357.74 L1351.27,357.13 L1352.90,356.53 L1354.53,355.93 L1356.16,355.33 L1357.79,354.73 L1359.42,354.13 L1361.05,353.53 L1362.68,352.94 L1364.31,352.35 L1365.93,351.76 L1367.56,351.17 L1369.19,350.58 L1370.82,349.99 L1372.45,349.41 L1374.08,348.83 L1375.71,348.25 L1377.34,347.67 L1378.97,347.09 L1380.60,346.51 L1382.23,345.94 L1383.86,345.37 L1385.49,344.79 L1387.12,344.22 L1388.75,343.66 L1390.38,343.09 L1392.01,342.52 L1393.64,341.96 L1395.27,341.40 L1396.90,340.84 L1398.53,340.28 L1400.16,339.72 L1401.78,339.17 L1403.41,338.61 L1405.04,338.06 L1406.67,337.51 L1408.30,336.96 L1409.93,336.41 L1411.56,335.86 L1413.19,335.32 L1414.82,334.78 L1416.45,334.23 L1418.08,333.69 L1419.71,333.15 L1421.34,332.62 L1422.97,332.08 L1424.60,331.55 L1426.23,331.01 L1427.86,330.48 L1429.49,329.95 L1431.12,329.42 L1432.75,328.90 L1434.38,328.37 L1436.01,327.85 L1437.63,327.32 L1439.26,326.80 L1440.89,326.28 L1442.52,325.76 L1444.15,325.25 L1445.78,324.73 L1447.41,324.22 L1449.04,323.70 L1450.67,323.19 L1452.30,322.68 L1453.93,322.18 L1455.56,321.67 L1457.19,321.16 L1458.82,320.66 L1460.45,320.16 L1462.08,319.65 L1463.71,319.15 L1465.34,318.66 L1466.97,318.16 L1468.60,317.66 L1470.23,317.17 L1471.86,316.67 L1473.49,316.18 L1475.11,315.69 L1476.74,315.20 L1478.37,314.72 L1480.00,314.23 L1481.63,313.74 L1483.26,313.26 L1484.89,312.78 L1486.52,312.30 L1488.15,311.82 L1489.78,311.34 L1491.41,310.86 L1493.04,310.39 L1494.67,309.91 L1496.30,309.44 L1497.93,308.97 L1499.56,308.50 L1501.19,308.03 L1502.82,307.56 L1504.45,307.09 L1506.08,306.63 L1507.71,306.17 L1509.34,305.70 L1510.96,305.24 L1512.59,304.78 L1514.22,304.32 L1515.85,303.87 L1517.48,303.41 L1519.11,302.95 L1520.74,302.50 L1522.37,302.05 L1524.00,301.60 L1525.63,301.15 L1527.26,300.70 L1528.89,300.25 L1530.52,299.81 L1532.15,299.36 L1533.78,298.92 L1535.41,298.47 L1537.04,298.03 L1538.67,297.59 L1540.30,297.15 L1541.93,296.72 L1543.56,296.28 L1545.19,295.84 L1546.81,295.41 L1548.44,294.98 L1550.07,294.55 L1551.70,294.12 L1553.33,293.69 L1554.96,293.26 L1556.59,292.83 L1558.22,292.41 L1559.85,291.98 L1561.48,291.56 L1563.11,291.14 L1564.74,290.72 L1566.37,290.30 L1568.00,289.88 L1569.63,289.46 L1571.26,289.04 L1572.89,288.63 L1574.52,288.22 L1576.15,287.80 L1577.78,287.39 L1579.41,286.98 L1581.04,286.57 L1582.66,286.16 L1584.29,285.76 L1585.92,285.35 L1587.55,284.95 L1589.18,284.54 L1590.81,284.14 L1592.44,283.74 L1594.07,283.34 L1595.70,282.94 L1597.33,282.54 L1598.96,282.14 L1600.59,281.75 L1602.22,281.35 L1603.85,280.96 L1605.48,280.57 L1607.11,280.17 L1608.74,279.78 L1610.37,279.39 L1612.00,279.01 L1613.63,278.62 L1615.26,278.23 L1616.89,277.85 L1618.51,277.46 L1620.14,277.08 L1621.77,276.70 L1623.40,276.32 L1625.03,275.94 L1626.66,275.56 L1628.29,275.18 L1629.92,274.81 L1631.55,274.43 L1633.18,274.06 L1634.81,273.68 L1636.44,273.31 L1638.07,272.94 L1639.70,272.57 L1641.33,272.20 L1642.96,271.83 L1644.59,271.46 L1646.22,271.10 L1647.85,270.73 L1649.48,270.37 L1651.11,270.00 L1652.74,269.64 L1654.37,269.28 L1655.99,268.92 L1657.62,268.56 L1659.25,268.20 L1660.88,267.85 L1662.51,267.49 L1664.14,267.13 L1665.77,266.78 L1667.40,266.43 L1669.03,266.07 L1670.66,265.72 L1672.29,265.37 L1673.92,265.02 L1675.55,264.68 L1677.18,264.33 L1678.81,263.98 L1680.44,263.64 L1682.07,263.29 L1683.70,262.95 L1685.33,262.61 L1686.96,262.26 L1688.59,261.92 L1690.22,261.58 L1691.84,261.24 L1693.47,260.91 L1695.10,260.57 L1696.73,260.23 L1698.36,259.90 L1699.99,259.56 L1701.62,259.23 L1703.25,258.90 L1704.88,258.57 L1706.51,258.24 L1708.14,257.91 L1709.77,257.58 L1711.40,257.25 L1713.03,256.92 L1714.66,256.60 L1716.29,256.27 L1717.92,255.95 L1719.55,255.63 L1721.18,255.30 L1722.81,254.98 L1724.44,254.66 L1726.07,254.34 L1727.69,254.02 L1729.32,253.71 L1730.95,253.39 L1732.58,253.07 L1734.21,252.76 L1735.84,252.44 L1737.47,252.13 L1739.10,251.82 L1740.73,251.50 L1742.36,251.19 L1743.99,250.88 L1745.62,250.57 L1747.25,250.27 L1748.88,249.96 L1750.51,249.65 L1752.14,249.35 L1753.77,249.04 L1755.40,248.74 L1757.03,248.43 L1758.66,248.13 L1760.29,247.83 L1761.92,247.53 L1763.54,247.23 L1765.17,246.93 L1766.80,246.63 L1768.43,246.34 L1770.06,246.04 L1771.69,245.74 L1773.32,245.45 L1774.95,245.15 L1776.58,244.86 L1778.21,244.57 L1779.84,244.28 L1781.47,243.99 L1783.10,243.70 L1784.73,243.41 L1786.36,243.12 L1787.99,242.83 L1789.62,242.54 L1791.25,242.26 L1792.88,241.97 L1794.51,241.69 L1796.14,241.41 L1797.77,241.12 L1799.39,240.84 L1801.02,240.56 L1802.65,240.28 L1804.28,240.00 L1805.91,239.72 L1807.54,239.44 L1809.17,239.16 L1810.80,238.89 L1812.43,238.61 L1814.06,238.34 L1815.69,238.06 L1817.32,237.79 L1818.95,237.52 L1820.58,237.24 L1822.21,236.97 L1823.84,236.70 L1825.47,236.43 L1827.10,236.16 L1828.73,235.90 L1830.36,235.63 L1831.99,235.36 L1833.62,235.10 L1835.24,234.83 L1836.87,234.57 L1838.50,234.30 L1840.13,234.04 L1841.76,233.78 L1843.39,233.51 L1845.02,233.25 L1846.65,232.99 L1848.28,232.73 L1849.91,232.47 L1851.54,232.22 L1853.17,231.96 L1854.80,231.70 L1856.43,231.45 L1858.06,231.19 L1859.69,230.94 L1861.32,230.68 L1862.95,230.43 L1864.58,230.18 L1866.21,229.93 L1867.84,229.68 L1869.47,229.43 L1871.10,229.18 L1872.72,228.93 L1874.35,228.68 L1875.98,228.43 L1877.61,228.18 L1879.24,227.94 L1880.87,227.69 L1882.50,227.45 L1884.13,227.20 L1885.76,226.96 L1887.39,226.72 L1889.02,226.48 L1890.65,226.23 L1892.28,225.99 L1893.91,225.75 L1895.54,225.51 L1897.17,225.28 L1898.80,225.04 L1900.43,224.80 L1902.06,224.56 L1903.69,224.33 L1905.32,224.09 L1906.95,223.86 L1908.57,223.62 L1910.20,223.39 L1911.83,223.16 L1913.46,222.92 L1915.09,222.69 L1916.72,222.46 L1918.35,222.23 L1919.98,222.00 L1921.61,221.77 L1923.24,221.54" fill="none" stroke="#000000" stroke-width="4.5" stroke-dasharray="15 13.5"/>






<path d="M470.4,1181.1 L470.4,1231.5 M453.4,1181.1 L487.4,1181.1 M453.4,1231.5 L487.4,1231.5" fill="none" stroke="#000000" stroke-width="5"/>
<path d="M568.2,979.4 L568.2,1022.6 M551.2,979.4 L585.2,979.4 M551.2,1022.6 L585.2,1022.6" fill="none" stroke="#000000" stroke-width="5"/>
<path d="M665.9,828.2 L665.9,876.2 M648.9,828.2 L682.9,828.2 M648.9,876.2 L682.9,876.2" fill="none" stroke="#000000" stroke-width="5"/>
<path d="M763.6,704.5 L763.6,762.2 M746.6,704.5 L780.6,704.5 M746.6,762.2 L780.6,762.2" fill="none" stroke="#000000" stroke-width="5"/>
<path d="M861.4,525.7 L861.4,592.9 M844.4,525.7 L878.4,525.7 M844.4,592.9 L878.4,592.9" fill="none" stroke="#000000" stroke-width="5"/>
<path d="M959.1,478.4 L959.1,546.6 M942.1,478.4 L976.1,478.4 M942.1,546.6 L976.1,546.6" fill="none" stroke="#000000" stroke-width="5"/>
<path d="M1056.8,400.8 L1056.8,465.7 M1039.8,400.8 L1073.8,400.8 M1039.8,465.7 L1073.8,465.7" fill="none" stroke="#000000" stroke-width="5"/>
<path d="M1154.5,346.8 L1154.5,428.4 M1137.5,346.8 L1171.5,346.8 M1137.5,428.4 L1171.5,428.4" fill="none" stroke="#000000" stroke-width="5"/>
<path d="M1252.2,320.0 L1252.2,378.4 M1235.2,320.0 L1269.2,320.0 M1235.2,378.4 L1269.2,378.4" fill="none" stroke="#000000" stroke-width="5"/>
<path d="M1350.0,312.0 L1350.0,348.0 M1333.0,312.0 L1367.0,312.0 M1333.0,348.0 L1367.0,348.0" fill="none" stroke="#000000" stroke-width="5"/>

<path d="M1545.4,259.9 L1545.4,336.5 M1528.4,259.9 L1562.4,259.9 M1528.4,336.5 L1562.4,336.5" fill="none" stroke="#000000" stroke-width="5"/>





<path d="M275.0,1490.5 L290.0,1521.2 L260.0,1521.2 Z" fill="none" stroke="#000000" stroke-width="5.5" stroke-linejoin="miter" stroke-miterlimit="10"/>
<path d="M291.3,1483.3 L306.3,1514.0 L276.3,1514.0 Z" fill="none" stroke="#000000" stroke-width="5.5" stroke-linejoin="miter" stroke-miterlimit="10"/>
<path d="M307.6,1481.5 L322.6,1512.2 L292.6,1512.2 Z" fill="none" stroke="#000000" stroke-width="5.5" stroke-linejoin="miter" stroke-miterlimit="10"/>
<path d="M323.9,1481.5 L338.9,1512.2 L308.9,1512.2 Z" fill="none" stroke="#000000" stroke-width="5.5" stroke-linejoin="miter" stroke-miterlimit="10"/>
<path d="M372.7,1439.2 L387.7,1469.9 L357.7,1469.9 Z" fill="none" stroke="#000000" stroke-width="5.5" stroke-linejoin="miter" stroke-miterlimit="10"/>
<path d="M421.6,1328.4 L436.6,1359.1 L406.6,1359.1 Z" fill="none" stroke="#000000" stroke-width="5.5" stroke-linejoin="miter" stroke-miterlimit="10"/>
<path d="M470.4,1192.8 L485.4,1223.5 L455.4,1223.5 Z" fill="none" stroke="#000000" stroke-width="5.5" stroke-linejoin="miter" stroke-miterlimit="10"/>
<path d="M568.2,987.5 L583.2,1018.2 L553.2,1018.2 Z" fill="none" stroke="#000000" stroke-width="5.5" stroke-linejoin="miter" stroke-miterlimit="10"/>
<path d="M665.9,838.7 L680.9,869.4 L650.9,869.4 Z" fill="none" stroke="#000000" stroke-width="5.5" stroke-linejoin="miter" stroke-miterlimit="10"/>
<path d="M763.6,719.8 L778.6,750.5 L748.6,750.5 Z" fill="none" stroke="#000000" stroke-width="5.5" stroke-linejoin="miter" stroke-miterlimit="10"/>
<path d="M861.4,545.8 L876.4,576.5 L846.4,576.5 Z" fill="none" stroke="#000000" stroke-width="5.5" stroke-linejoin="miter" stroke-miterlimit="10"/>
<path d="M959.1,499.0 L974.1,529.7 L944.1,529.7 Z" fill="none" stroke="#000000" stroke-width="5.5" stroke-linejoin="miter" stroke-miterlimit="10"/>
<path d="M1056.8,419.7 L1071.8,450.4 L1041.8,450.4 Z" fill="none" stroke="#000000" stroke-width="5.5" stroke-linejoin="miter" stroke-miterlimit="10"/>
<path d="M1154.5,374.1 L1169.5,404.8 L1139.5,404.8 Z" fill="none" stroke="#000000" stroke-width="5.5" stroke-linejoin="miter" stroke-miterlimit="10"/>
<path d="M1252.2,335.7 L1267.2,366.4 L1237.2,366.4 Z" fill="none" stroke="#000000" stroke-width="5.5" stroke-linejoin="miter" stroke-miterlimit="10"/>
<path d="M1350.0,316.5 L1365.0,347.2 L1335.0,347.2 Z" fill="none" stroke="#000000" stroke-width="5.5" stroke-linejoin="miter" stroke-miterlimit="10"/>
<path d="M1447.7,290.1 L1462.7,320.8 L1432.7,320.8 Z" fill="none" stroke="#000000" stroke-width="5.5" stroke-linejoin="miter" stroke-miterlimit="10"/>
<path d="M1545.4,284.7 L1560.4,315.4 L1530.4,315.4 Z" fill="none" stroke="#000000" stroke-width="5.5" stroke-linejoin="miter" stroke-miterlimit="10"/>
<path d="M1643.1,267.3 L1658.1,298.0 L1628.1,298.0 Z" fill="none" stroke="#000000" stroke-width="5.5" stroke-linejoin="miter" stroke-miterlimit="10"/>
<path d="M1740.9,244.5 L1755.9,275.2 L1725.9,275.2 Z" fill="none" stroke="#000000" stroke-width="5.5" stroke-linejoin="miter" stroke-miterlimit="10"/>
<path d="M1838.6,250.5 L1853.6,281.2 L1823.6,281.2 Z" fill="none" stroke="#000000" stroke-width="5.5" stroke-linejoin="miter" stroke-miterlimit="10"/>
<path d="M1936.3,249.3 L1951.3,280.0 L1921.3,280.0 Z" fill="none" stroke="#000000" stroke-width="5.5" stroke-linejoin="miter" stroke-miterlimit="10"/>
<path d="M2034.0,249.3 L2049.1,280.0 L2019.0,280.0 Z" fill="none" stroke="#000000" stroke-width="5.5" stroke-linejoin="miter" stroke-miterlimit="10"/>
<path d="M275.00,1504.00 L275.81,1503.71 L276.63,1503.28 L277.44,1502.77 L278.26,1502.21 L279.07,1501.61 L279.89,1500.96 L280.70,1500.29 L281.51,1499.58 L282.33,1498.85 L283.14,1498.09 L283.96,1497.31 L284.77,1496.50 L285.59,1495.68 L286.40,1494.84 L287.22,1493.98 L288.03,1493.10 L288.84,1492.20 L289.66,1491.29 L290.47,1490.37 L291.29,1489.43 L292.10,1488.48 L292.92,1487.51 L293.73,1486.53 L294.55,1485.54 L295.36,1484.54 L296.17,1483.52 L296.99,1482.50 L297.80,1481.46 L298.62,1480.41 L299.43,1479.35 L300.25,1478.29 L301.06,1477.21 L301.87,1476.12 L302.69,1475.03 L303.50,1473.92 L304.32,1472.81 L305.13,1471.69 L305.95,1470.56 L306.76,1469.42 L307.57,1468.27 L308.39,1467.12 L309.20,1465.96 L310.02,1464.79 L310.83,1463.61 L311.65,1462.43 L312.46,1461.24 L313.28,1460.04 L314.09,1458.84 L314.90,1457.63 L315.72,1456.41 L316.53,1455.19 L317.35,1453.96 L318.16,1452.73 L318.98,1451.49 L319.79,1450.24 L320.61,1448.99 L321.42,1447.73 L322.23,1446.47 L323.05,1445.20 L323.86,1443.93 L324.68,1442.65 L325.49,1441.36 L326.31,1440.08 L327.12,1438.78 L327.93,1437.49 L328.75,1436.18 L329.56,1434.88 L330.38,1433.56 L331.19,1432.25 L332.01,1430.93 L332.82,1429.60 L333.63,1428.27 L334.45,1426.94 L335.26,1425.60 L336.08,1424.26 L336.89,1422.92 L337.71,1421.57 L338.52,1420.21 L339.34,1418.86 L340.15,1417.50 L340.96,1416.13 L341.78,1414.77 L342.59,1413.40 L343.41,1412.02 L344.22,1410.64 L345.04,1409.26 L345.85,1407.88 L346.66,1406.49 L347.48,1405.10 L348.29,1403.71 L349.11,1402.31 L349.92,1400.91 L350.74,1399.51 L351.55,1398.10 L352.37,1396.70 L353.18,1395.28 L353.99,1393.87 L354.81,1392.45 L355.62,1391.04 L356.44,1389.61 L357.25,1388.19 L358.07,1386.76 L358.88,1385.33 L359.69,1383.90 L360.51,1382.47 L361.32,1381.03 L362.14,1379.59 L362.95,1378.15 L363.77,1376.71 L364.58,1375.26 L365.40,1373.82 L366.21,1372.37 L367.02,1370.92 L367.84,1369.46 L368.65,1368.01 L369.47,1366.55 L370.28,1365.09 L371.10,1363.63 L371.91,1362.17 L372.73,1360.70 L373.54,1359.24 L375.17,1356.30 L376.80,1353.35 L378.43,1350.40 L380.06,1347.44 L381.69,1344.47 L383.32,1341.50 L384.95,1338.53 L386.58,1335.55 L388.21,1332.56 L389.83,1329.57 L391.46,1326.57 L393.09,1323.57 L394.72,1320.57 L396.35,1317.56 L397.98,1314.55 L399.61,1311.54 L401.24,1308.52 L402.87,1305.50 L404.50,1302.47 L406.13,1299.45 L407.76,1296.42 L409.39,1293.39 L411.02,1290.35 L412.65,1287.32 L414.28,1284.28 L415.91,1281.24 L417.54,1278.20 L419.17,1275.15 L420.80,1272.11 L422.43,1269.06 L424.06,1266.02 L425.68,1262.97 L427.31,1259.92 L428.94,1256.87 L430.57,1253.83 L432.20,1250.78 L433.83,1247.73 L435.46,1244.68 L437.09,1241.63 L438.72,1238.58 L440.35,1235.53 L441.98,1232.48 L443.61,1229.44 L445.24,1226.39 L446.87,1223.34 L448.50,1220.30 L450.13,1217.25 L451.76,1214.21 L453.39,1211.17 L455.02,1208.13 L456.65,1205.09 L458.28,1202.05 L459.91,1199.02 L461.54,1195.99 L463.16,1192.95 L464.79,1189.92 L466.42,1186.90 L468.05,1183.87 L469.68,1180.85 L471.31,1177.83 L472.94,1174.81 L474.57,1171.79 L476.20,1168.78 L477.83,1165.77 L479.46,1162.76 L481.09,1159.76 L482.72,1156.75 L484.35,1153.75 L485.98,1150.76 L487.61,1147.77 L489.24,1144.78 L490.87,1141.79 L492.50,1138.81 L494.13,1135.83 L495.76,1132.85 L497.39,1129.88 L499.01,1126.91 L500.64,1123.94 L502.27,1120.98 L503.90,1118.03 L505.53,1115.07 L507.16,1112.12 L508.79,1109.18 L510.42,1106.24 L512.05,1103.30 L513.68,1100.37 L515.31,1097.44 L516.94,1094.51 L518.57,1091.59 L520.20,1088.68 L521.83,1085.77 L523.46,1082.86 L525.09,1079.96 L526.72,1077.06 L528.35,1074.17 L529.98,1071.28 L531.61,1068.40 L533.24,1065.52 L534.86,1062.65 L536.49,1059.78 L538.12,1056.92 L539.75,1054.06 L541.38,1051.21 L543.01,1048.36 L544.64,1045.52 L546.27,1042.68 L547.90,1039.85 L549.53,1037.02 L551.16,1034.20 L552.79,1031.39 L554.42,1028.58 L556.05,1025.77 L557.68,1022.97 L559.31,1020.18 L560.94,1017.39 L562.57,1014.61 L564.20,1011.83 L565.83,1009.06 L567.46,1006.29 L569.09,1003.53 L570.71,1000.78 L572.34,998.03 L573.97,995.29 L575.60,992.55 L577.23,989.82 L578.86,987.09 L580.49,984.37 L582.12,981.66 L583.75,978.95 L585.38,976.25 L587.01,973.56 L588.64,970.87 L590.27,968.19 L591.90,965.51 L593.53,962.84 L595.16,960.17 L596.79,957.52 L598.42,954.86 L600.05,952.22 L601.68,949.58 L603.31,946.95 L604.94,944.32 L606.56,941.70 L608.19,939.09 L609.82,936.48 L611.45,933.88 L613.08,931.28 L614.71,928.69 L616.34,926.11 L617.97,923.54 L619.60,920.97 L621.23,918.40 L622.86,915.85 L624.49,913.30 L626.12,910.76 L627.75,908.22 L629.38,905.69 L631.01,903.17 L632.64,900.65 L634.27,898.14 L635.90,895.64 L637.53,893.14 L639.16,890.65 L640.79,888.17 L642.41,885.69 L644.04,883.22 L645.67,880.76 L647.30,878.30 L648.93,875.85 L650.56,873.41 L652.19,870.97 L653.82,868.54 L655.45,866.12 L657.08,863.70 L658.71,861.29 L660.34,858.89 L661.97,856.49 L663.60,854.10 L665.23,851.72 L666.86,849.34 L668.49,846.98 L670.12,844.61 L671.75,842.26 L673.38,839.91 L675.01,837.57 L676.64,835.23 L678.27,832.91 L679.89,830.58 L681.52,828.27 L683.15,825.96 L684.78,823.66 L686.41,821.37 L688.04,819.08 L689.67,816.80 L691.30,814.53 L692.93,812.26 L694.56,810.00 L696.19,807.75 L697.82,805.50 L699.45,803.27 L701.08,801.03 L702.71,798.81 L704.34,796.59 L705.97,794.38 L707.60,792.17 L709.23,789.98 L710.86,787.79 L712.49,785.60 L714.12,783.42 L715.74,781.25 L717.37,779.09 L719.00,776.93 L720.63,774.78 L722.26,772.64 L723.89,770.50 L725.52,768.38 L727.15,766.25 L728.78,764.14 L730.41,762.03 L732.04,759.93 L733.67,757.83 L735.30,755.74 L736.93,753.66 L738.56,751.59 L740.19,749.52 L741.82,747.46 L743.45,745.40 L745.08,743.36 L746.71,741.31 L748.34,739.28 L749.97,737.25 L751.59,735.23 L753.22,733.22 L754.85,731.21 L756.48,729.21 L758.11,727.22 L759.74,725.23 L761.37,723.25 L763.00,721.28 L764.63,719.31 L766.26,717.35 L767.89,715.40 L769.52,713.45 L771.15,711.51 L772.78,709.58 L774.41,707.65 L776.04,705.73 L777.67,703.82 L779.30,701.91 L780.93,700.01 L782.56,698.12 L784.19,696.23 L785.82,694.35 L787.44,692.48 L789.07,690.61 L790.70,688.75 L792.33,686.90 L793.96,685.05 L795.59,683.21 L797.22,681.38 L798.85,679.55 L800.48,677.73 L802.11,675.91 L803.74,674.11 L805.37,672.30 L807.00,670.51 L808.63,668.72 L810.26,666.94 L811.89,665.16 L813.52,663.39 L815.15,661.63 L816.78,659.87 L818.41,658.12 L820.04,656.38 L821.67,654.64 L823.29,652.91 L824.92,651.19 L826.55,649.47 L828.18,647.76 L829.81,646.05 L831.44,644.35 L833.07,642.66 L834.70,640.97 L836.33,639.29 L837.96,637.62 L839.59,635.95 L841.22,634.29 L842.85,632.63 L844.48,630.99 L846.11,629.34 L847.74,627.71 L849.37,626.08 L851.00,624.45 L852.63,622.83 L854.26,621.22 L855.89,619.61 L857.52,618.02 L859.15,616.42 L860.77,614.83 L862.40,613.25 L864.03,611.68 L865.66,610.11 L867.29,608.54 L868.92,606.99 L870.55,605.43 L872.18,603.89 L873.81,602.35 L875.44,600.82 L877.07,599.29 L878.70,597.77 L880.33,596.25 L881.96,594.74 L883.59,593.24 L885.22,591.74 L886.85,590.25 L888.48,588.76 L890.11,587.28 L891.74,585.81 L893.37,584.34 L895.00,582.88 L896.62,581.42 L898.25,579.97 L899.88,578.52 L901.51,577.08 L903.14,575.65 L904.77,574.22 L906.40,572.80 L908.03,571.38 L909.66,569.97 L911.29,568.56 L912.92,567.16 L914.55,565.77 L916.18,564.38 L917.81,562.99 L919.44,561.62 L921.07,560.25 L922.70,558.88 L924.33,557.52 L925.96,556.16 L927.59,554.81 L929.22,553.47 L930.85,552.13 L932.47,550.79 L934.10,549.47 L935.73,548.14 L937.36,546.83 L938.99,545.52 L940.62,544.21 L942.25,542.91 L943.88,541.61 L945.51,540.32 L947.14,539.04 L948.77,537.76 L950.40,536.48 L952.03,535.21 L953.66,533.95 L955.29,532.69 L956.92,531.44 L958.55,530.19 L960.18,528.95 L961.81,527.71 L963.44,526.48 L965.07,525.25 L966.70,524.03 L968.32,522.81 L969.95,521.60 L971.58,520.39 L973.21,519.19 L974.84,517.99 L976.47,516.80 L978.10,515.61 L979.73,514.43 L981.36,513.26 L982.99,512.08 L984.62,510.92 L986.25,509.76 L987.88,508.60 L989.51,507.45 L991.14,506.30 L992.77,505.16 L994.40,504.02 L996.03,502.89 L997.66,501.76 L999.29,500.64 L1000.92,499.52 L1002.55,498.41 L1004.17,497.30 L1005.80,496.20 L1007.43,495.10 L1009.06,494.00 L1010.69,492.92 L1012.32,491.83 L1013.95,490.75 L1015.58,489.68 L1017.21,488.61 L1018.84,487.54 L1020.47,486.48 L1022.10,485.42 L1023.73,484.37 L1025.36,483.33 L1026.99,482.28 L1028.62,481.25 L1030.25,480.21 L1031.88,479.18 L1033.51,478.16 L1035.14,477.14 L1036.77,476.12 L1038.40,475.11 L1040.02,474.11 L1041.65,473.11 L1043.28,472.11 L1044.91,471.11 L1046.54,470.13 L1048.17,469.14 L1049.80,468.16 L1051.43,467.19 L1053.06,466.22 L1054.69,465.25 L1056.32,464.29 L1057.95,463.33 L1059.58,462.37 L1061.21,461.42 L1062.84,460.48 L1064.47,459.54 L1066.10,458.60 L1067.73,457.67 L1069.36,456.74 L1070.99,455.82 L1072.62,454.90 L1074.25,453.98 L1075.88,453.07 L1077.50,452.16 L1079.13,451.26 L1080.76,450.36 L1082.39,449.46 L1084.02,448.57 L1085.65,447.68 L1087.28,446.80 L1088.91,445.92 L1090.54,445.05 L1092.17,444.17 L1093.80,443.31 L1095.43,442.44 L1097.06,441.58 L1098.69,440.73 L1100.32,439.88 L1101.95,439.03 L1103.58,438.19 L1105.21,437.35 L1106.84,436.51 L1108.47,435.68 L1110.10,434.85 L1111.73,434.03 L1113.35,433.21 L1114.98,432.39 L1116.61,431.58 L1118.24,430.77 L1119.87,429.96 L1121.50,429.16 L1123.13,428.36 L1124.76,427.57 L1126.39,426.78 L1128.02,425.99 L1129.65,425.21 L1131.28,424.43 L1132.91,423.65 L1134.54,422.88 L1136.17,422.11 L1137.80,421.34 L1139.43,420.58 L1141.06,419.83 L1142.69,419.07 L1144.32,418.32 L1145.95,417.57 L1147.58,416.83 L1149.20,416.09 L1150.83,415.35 L1152.46,414.62 L1154.09,413.89 L1155.72,413.16 L1157.35,412.44 L1158.98,411.72 L1160.61,411.00 L1162.24,410.29 L1163.87,409.58 L1165.50,408.88 L1167.13,408.17 L1168.76,407.47 L1170.39,406.78 L1172.02,406.08 L1173.65,405.40 L1175.28,404.71 L1176.91,404.03 L1178.54,403.35 L1180.17,402.67 L1181.80,402.00 L1183.43,401.33 L1185.05,400.66 L1186.68,400.00 L1188.31,399.34 L1189.94,398.68 L1191.57,398.03 L1193.20,397.38 L1194.83,396.73 L1196.46,396.08 L1198.09,395.44 L1199.72,394.80 L1201.35,394.17 L1202.98,393.54 L1204.61,392.91 L1206.24,392.28 L1207.87,391.66 L1209.50,391.04 L1211.13,390.42 L1212.76,389.81 L1214.39,389.20 L1216.02,388.59 L1217.65,387.99 L1219.28,387.38 L1220.90,386.78 L1222.53,386.19 L1224.16,385.60 L1225.79,385.00 L1227.42,384.42 L1229.05,383.83 L1230.68,383.25 L1232.31,382.67 L1233.94,382.10 L1235.57,381.52 L1237.20,380.95 L1238.83,380.39 L1240.46,379.82 L1242.09,379.26 L1243.72,378.70 L1245.35,378.14 L1246.98,377.59 L1248.61,377.04 L1250.24,376.49 L1251.87,375.95 L1253.50,375.40 L1255.13,374.86 L1256.76,374.33 L1258.38,373.79 L1260.01,373.26 L1261.64,372.73 L1263.27,372.20 L1264.90,371.68 L1266.53,371.16 L1268.16,370.64 L1269.79,370.12 L1271.42,369.61 L1273.05,369.10 L1274.68,368.59 L1276.31,368.08 L1277.94,367.58 L1279.57,367.08 L1281.20,366.58 L1282.83,366.08 L1284.46,365.59 L1286.09,365.10 L1287.72,364.61 L1289.35,364.12 L1290.98,363.64 L1292.61,363.16 L1294.23,362.68 L1295.86,362.20 L1297.49,361.73 L1299.12,361.26 L1300.75,360.79 L1302.38,360.32 L1304.01,359.86 L1305.64,359.40 L1307.27,358.94 L1308.90,358.48 L1310.53,358.02 L1312.16,357.57 L1313.79,357.12 L1315.42,356.67 L1317.05,356.23 L1318.68,355.78 L1320.31,355.34 L1321.94,354.90 L1323.57,354.47 L1325.20,354.03 L1326.83,353.60 L1328.46,353.17 L1330.08,352.74 L1331.71,352.32 L1333.34,351.89 L1334.97,351.47 L1336.60,351.05 L1338.23,350.64 L1339.86,350.22 L1341.49,349.81 L1343.12,349.40 L1344.75,348.99 L1346.38,348.58 L1348.01,348.18 L1349.64,347.78 L1351.27,347.38 L1352.90,346.98 L1354.53,346.58 L1356.16,346.19 L1357.79,345.80 L1359.42,345.41 L1361.05,345.02 L1362.68,344.63 L1364.31,344.25 L1365.93,343.87 L1367.56,343.49 L1369.19,343.11 L1370.82,342.73 L1372.45,342.36 L1374.08,341.99 L1375.71,341.62 L1377.34,341.25 L1378.97,340.88 L1380.60,340.52 L1382.23,340.15 L1383.86,339.79 L1385.49,339.44 L1387.12,339.08 L1388.75,338.72 L1390.38,338.37 L1392.01,338.02 L1393.64,337.67 L1395.27,337.32 L1396.90,336.98 L1398.53,336.63 L1400.16,336.29 L1401.78,335.95 L1403.41,335.61 L1405.04,335.28 L1406.67,334.94 L1408.30,334.61 L1409.93,334.28 L1411.56,333.95 L1413.19,333.62 L1414.82,333.29 L1416.45,332.97 L1418.08,332.65 L1419.71,332.33 L1421.34,332.01 L1422.97,331.69 L1424.60,331.37 L1426.23,331.06 L1427.86,330.75 L1429.49,330.43 L1431.12,330.13 L1432.75,329.82 L1434.38,329.51 L1436.01,329.21 L1437.63,328.91 L1439.26,328.60 L1440.89,328.30 L1442.52,328.01 L1444.15,327.71 L1445.78,327.42 L1447.41,327.12 L1449.04,326.83 L1450.67,326.54 L1452.30,326.25 L1453.93,325.97 L1455.56,325.68 L1457.19,325.40 L1458.82,325.11 L1460.45,324.83 L1462.08,324.55 L1463.71,324.28 L1465.34,324.00 L1466.97,323.73 L1468.60,323.45 L1470.23,323.18 L1471.86,322.91 L1473.49,322.64 L1475.11,322.37 L1476.74,322.11 L1478.37,321.84 L1480.00,321.58 L1481.63,321.32 L1483.26,321.06 L1484.89,320.80 L1486.52,320.54 L1488.15,320.29 L1489.78,320.03 L1491.41,319.78 L1493.04,319.53 L1494.67,319.28 L1496.30,319.03 L1497.93,318.78 L1499.56,318.53 L1501.19,318.29 L1502.82,318.04 L1504.45,317.80 L1506.08,317.56 L1507.71,317.32 L1509.34,317.08 L1510.96,316.85 L1512.59,316.61 L1514.22,316.37 L1515.85,316.14 L1517.48,315.91 L1519.11,315.68 L1520.74,315.45 L1522.37,315.22 L1524.00,314.99 L1525.63,314.77 L1527.26,314.54 L1528.89,314.32 L1530.52,314.10 L1532.15,313.88 L1533.78,313.66 L1535.41,313.44 L1537.04,313.22 L1538.67,313.01 L1540.30,312.79 L1541.93,312.58 L1543.56,312.37 L1545.19,312.16 L1546.81,311.95 L1548.44,311.74 L1550.07,311.53 L1551.70,311.32 L1553.33,311.12 L1554.96,310.91 L1556.59,310.71 L1558.22,310.51 L1559.85,310.31 L1561.48,310.11 L1563.11,309.91 L1564.74,309.71 L1566.37,309.51 L1568.00,309.32 L1569.63,309.12 L1571.26,308.93 L1572.89,308.74 L1574.52,308.55 L1576.15,308.36 L1577.78,308.17 L1579.41,307.98 L1581.04,307.79 L1582.66,307.61 L1584.29,307.42 L1585.92,307.24 L1587.55,307.06 L1589.18,306.88 L1590.81,306.69 L1592.44,306.52 L1594.07,306.34 L1595.70,306.16 L1597.33,305.98 L1598.96,305.81 L1600.59,305.63 L1602.22,305.46 L1603.85,305.29 L1605.48,305.11 L1607.11,304.94 L1608.74,304.77 L1610.37,304.60 L1612.00,304.44 L1613.63,304.27 L1615.26,304.10 L1616.89,303.94 L1618.51,303.77 L1620.14,303.61 L1621.77,303.45 L1623.40,303.29 L1625.03,303.13 L1626.66,302.97 L1628.29,302.81 L1629.92,302.65 L1631.55,302.50 L1633.18,302.34 L1634.81,302.18 L1636.44,302.03 L1638.07,301.88 L1639.70,301.72 L1641.33,301.57 L1642.96,301.42 L1644.59,301.27 L1646.22,301.12 L1647.85,300.98 L1649.48,300.83 L1651.11,300.68 L1652.74,300.54 L1654.37,300.39 L1655.99,300.25 L1657.62,300.10 L1659.25,299.96 L1660.88,299.82 L1662.51,299.68 L1664.14,299.54 L1665.77,299.40 L1667.40,299.26 L1669.03,299.13 L1670.66,298.99 L1672.29,298.85 L1673.92,298.72 L1675.55,298.58 L1677.18,298.45 L1678.81,298.32 L1680.44,298.19 L1682.07,298.05 L1683.70,297.92 L1685.33,297.79 L1686.96,297.66 L1688.59,297.54 L1690.22,297.41 L1691.84,297.28 L1693.47,297.16 L1695.10,297.03 L1696.73,296.91 L1698.36,296.78 L1699.99,296.66 L1701.62,296.54 L1703.25,296.41 L1704.88,296.29 L1706.51,296.17 L1708.14,296.05 L1709.77,295.94 L1711.40,295.82 L1713.03,295.70 L1714.66,295.58 L1716.29,295.47 L1717.92,295.35 L1719.55,295.24 L1721.18,295.12 L1722.81,295.01 L1724.44,294.90 L1726.07,294.78 L1727.69,294.67 L1729.32,294.56 L1730.95,294.45 L1732.58,294.34 L1734.21,294.23 L1735.84,294.12 L1737.47,294.02 L1739.10,293.91 L1740.73,293.80 L1742.36,293.70 L1743.99,293.59 L1745.62,293.49 L1747.25,293.38 L1748.88,293.28 L1750.51,293.18 L1752.14,293.07 L1753.77,292.97 L1755.40,292.87 L1757.03,292.77 L1758.66,292.67 L1760.29,292.57 L1761.92,292.47 L1763.54,292.38 L1765.17,292.28 L1766.80,292.18 L1768.43,292.09 L1770.06,291.99 L1771.69,291.89 L1773.32,291.80 L1774.95,291.71 L1776.58,291.61 L1778.21,291.52 L1779.84,291.43 L1781.47,291.34 L1783.10,291.24 L1784.73,291.15 L1786.36,291.06 L1787.99,290.97 L1789.62,290.88 L1791.25,290.80 L1792.88,290.71 L1794.51,290.62 L1796.14,290.53 L1797.77,290.45 L1799.39,290.36 L1801.02,290.27 L1802.65,290.19 L1804.28,290.10 L1805.91,290.02 L1807.54,289.94 L1809.17,289.85 L1810.80,289.77 L1812.43,289.69 L1814.06,289.61 L1815.69,289.53 L1817.32,289.45 L1818.95,289.37 L1820.58,289.29 L1822.21,289.21 L1823.84,289.13 L1825.47,289.05 L1827.10,288.97 L1828.73,288.90 L1830.36,288.82 L1831.99,288.74 L1833.62,288.67 L1835.24,288.59 L1836.87,288.52 L1838.50,288.44 L1840.13,288.37 L1841.76,288.29 L1843.39,288.22 L1845.02,288.15 L1846.65,288.08 L1848.28,288.00 L1849.91,287.93 L1851.54,287.86 L1853.17,287.79 L1854.80,287.72 L1856.43,287.65 L1858.06,287.58 L1859.69,287.51 L1861.32,287.44 L1862.95,287.38 L1864.58,287.31 L1866.21,287.24 L1867.84,287.17 L1869.47,287.11 L1871.10,287.04 L1872.72,286.98 L1874.35,286.91 L1875.98,286.85 L1877.61,286.78 L1879.24,286.72 L1880.87,286.65 L1882.50,286.59 L1884.13,286.53 L1885.76,286.47 L1887.39,286.40 L1889.02,286.34 L1890.65,286.28 L1892.28,286.22 L1893.91,286.16 L1895.54,286.10 L1897.17,286.04 L1898.80,285.98 L1900.43,285.92 L1902.06,285.86 L1903.69,285.80 L1905.32,285.74 L1906.95,285.69 L1908.57,285.63 L1910.20,285.57 L1911.83,285.51 L1913.46,285.46 L1915.09,285.40 L1916.72,285.35 L1918.35,285.29 L1919.98,285.24 L1921.61,285.18 L1923.24,285.13 L1924.87,285.07 L1926.50,285.02 L1928.13,284.97 L1929.76,284.91 L1931.39,284.86 L1933.02,284.81 L1934.65,284.76 L1936.28,284.70 L1937.91,284.65 L1939.54,284.60 L1941.17,284.55 L1942.80,284.50 L1944.42,284.45 L1946.05,284.40 L1947.68,284.35 L1949.31,284.30 L1950.94,284.25 L1952.57,284.20 L1954.20,284.16 L1955.83,284.11 L1957.46,284.06 L1959.09,284.01 L1960.72,283.97 L1962.35,283.92 L1963.98,283.87 L1965.61,283.83 L1967.24,283.78 L1968.87,283.73 L1970.50,283.69 L1972.13,283.64 L1973.76,283.60 L1975.39,283.55 L1977.02,283.51 L1978.65,283.47 L1980.27,283.42 L1981.90,283.38 L1983.53,283.33 L1985.16,283.29 L1986.79,283.25 L1988.42,283.21 L1990.05,283.16 L1991.68,283.12 L1993.31,283.08 L1994.94,283.04 L1996.57,283.00 L1998.20,282.96 L1999.83,282.92 L2001.46,282.88 L2003.09,282.84 L2004.72,282.80 L2006.35,282.76 L2007.98,282.72 L2009.61,282.68 L2011.24,282.64 L2012.87,282.60 L2014.50,282.56 L2016.12,282.52 L2017.75,282.49 L2019.38,282.45 L2021.01,282.41 L2022.64,282.37 L2024.27,282.34 L2025.90,282.30 L2027.53,282.26 L2029.16,282.23 L2030.79,282.19 L2032.42,282.16 L2034.05,282.12" fill="none" stroke="#a00000" stroke-width="4.5"/>
<path d="M275.00,1504.00 L275.81,1502.06 L276.63,1500.11 L277.44,1498.18 L278.26,1496.24 L279.07,1494.31 L279.89,1492.38 L280.70,1490.45 L281.51,1488.53 L282.33,1486.61 L283.14,1484.69 L283.96,1482.77 L284.77,1480.86 L285.59,1478.95 L286.40,1477.04 L287.22,1475.14 L288.03,1473.24 L288.84,1471.34 L289.66,1469.44 L290.47,1467.55 L291.29,1465.66 L292.10,1463.77 L292.92,1461.89 L293.73,1460.01 L294.55,1458.13 L295.36,1456.25 L296.17,1454.38 L296.99,1452.51 L297.80,1450.64 L298.62,1448.77 L299.43,1446.91 L300.25,1445.05 L301.06,1443.19 L301.87,1441.34 L302.69,1439.49 L303.50,1437.64 L304.32,1435.79 L305.13,1433.95 L305.95,1432.11 L306.76,1430.27 L307.57,1428.43 L308.39,1426.60 L309.20,1424.77 L310.02,1422.94 L310.83,1421.12 L311.65,1419.30 L312.46,1417.48 L313.28,1415.66 L314.09,1413.85 L314.90,1412.04 L315.72,1410.23 L316.53,1408.42 L317.35,1406.62 L318.16,1404.82 L318.98,1403.02 L319.79,1401.22 L320.61,1399.43 L321.42,1397.64 L322.23,1395.86 L323.05,1394.07 L323.86,1392.29 L324.68,1390.51 L325.49,1388.73 L326.31,1386.96 L327.12,1385.19 L327.93,1383.42 L328.75,1381.65 L329.56,1379.89 L330.38,1378.13 L331.19,1376.37 L332.01,1374.61 L332.82,1372.86 L333.63,1371.11 L334.45,1369.36 L335.26,1367.61 L336.08,1365.87 L336.89,1364.13 L337.71,1362.39 L338.52,1360.66 L339.34,1358.92 L340.15,1357.19 L340.96,1355.47 L341.78,1353.74 L342.59,1352.02 L343.41,1350.30 L344.22,1348.58 L345.04,1346.87 L345.85,1345.15 L346.66,1343.44 L347.48,1341.74 L348.29,1340.03 L349.11,1338.33 L349.92,1336.63 L350.74,1334.93 L351.55,1333.24 L352.37,1331.54 L353.18,1329.85 L353.99,1328.17 L354.81,1326.48 L355.62,1324.80 L356.44,1323.12 L357.25,1321.44 L358.07,1319.77 L358.88,1318.09 L359.69,1316.42 L360.51,1314.76 L361.32,1313.09 L362.14,1311.43 L362.95,1309.77 L363.77,1308.11 L364.58,1306.45 L365.40,1304.80 L366.21,1303.15 L367.02,1301.50 L367.84,1299.86 L368.65,1298.21 L369.47,1296.57 L370.28,1294.93 L371.10,1293.30 L371.91,1291.66 L372.73,1290.03 L373.54,1288.40 L375.17,1285.15 L376.80,1281.91 L378.43,1278.68 L380.06,1275.45 L381.69,1272.24 L383.32,1269.04 L384.95,1265.84 L386.58,1262.66 L388.21,1259.48 L389.83,1256.31 L391.46,1253.16 L393.09,1250.01 L394.72,1246.87 L396.35,1243.74 L397.98,1240.62 L399.61,1237.51 L401.24,1234.41 L402.87,1231.31 L404.50,1228.23 L406.13,1225.15 L407.76,1222.09 L409.39,1219.03 L411.02,1215.98 L412.65,1212.95 L414.28,1209.92 L415.91,1206.90 L417.54,1203.88 L419.17,1200.88 L420.80,1197.89 L422.43,1194.90 L424.06,1191.92 L425.68,1188.96 L427.31,1186.00 L428.94,1183.05 L430.57,1180.11 L432.20,1177.17 L433.83,1174.25 L435.46,1171.33 L437.09,1168.43 L438.72,1165.53 L440.35,1162.64 L441.98,1159.76 L443.61,1156.88 L445.24,1154.02 L446.87,1151.16 L448.50,1148.31 L450.13,1145.47 L451.76,1142.64 L453.39,1139.82 L455.02,1137.01 L456.65,1134.20 L458.28,1131.40 L459.91,1128.61 L461.54,1125.83 L463.16,1123.06 L464.79,1120.29 L466.42,1117.54 L468.05,1114.79 L469.68,1112.05 L471.31,1109.32 L472.94,1106.59 L474.57,1103.88 L476.20,1101.17 L477.83,1098.47 L479.46,1095.77 L481.09,1093.09 L482.72,1090.41 L484.35,1087.74 L485.98,1085.08 L487.61,1082.43 L489.24,1079.78 L490.87,1077.15 L492.50,1074.52 L494.13,1071.90 L495.76,1069.28 L497.39,1066.68 L499.01,1064.08 L500.64,1061.49 L502.27,1058.90 L503.90,1056.33 L505.53,1053.76 L507.16,1051.20 L508.79,1048.64 L510.42,1046.10 L512.05,1043.56 L513.68,1041.03 L515.31,1038.51 L516.94,1035.99 L518.57,1033.48 L520.20,1030.98 L521.83,1028.49 L523.46,1026.00 L525.09,1023.52 L526.72,1021.05 L528.35,1018.58 L529.98,1016.13 L531.61,1013.68 L533.24,1011.23 L534.86,1008.80 L536.49,1006.37 L538.12,1003.95 L539.75,1001.54 L541.38,999.13 L543.01,996.73 L544.64,994.34 L546.27,991.95 L547.90,989.57 L549.53,987.20 L551.16,984.84 L552.79,982.48 L554.42,980.13 L556.05,977.78 L557.68,975.45 L559.31,973.12 L560.94,970.79 L562.57,968.48 L564.20,966.17 L565.83,963.86 L567.46,961.57 L569.09,959.28 L570.71,957.00 L572.34,954.72 L573.97,952.45 L575.60,950.19 L577.23,947.93 L578.86,945.68 L580.49,943.44 L582.12,941.21 L583.75,938.98 L585.38,936.75 L587.01,934.54 L588.64,932.33 L590.27,930.13 L591.90,927.93 L593.53,925.74 L595.16,923.55 L596.79,921.38 L598.42,919.21 L600.05,917.04 L601.68,914.88 L603.31,912.73 L604.94,910.59 L606.56,908.45 L608.19,906.32 L609.82,904.19 L611.45,902.07 L613.08,899.95 L614.71,897.85 L616.34,895.75 L617.97,893.65 L619.60,891.56 L621.23,889.48 L622.86,887.40 L624.49,885.33 L626.12,883.27 L627.75,881.21 L629.38,879.15 L631.01,877.11 L632.64,875.07 L634.27,873.03 L635.90,871.00 L637.53,868.98 L639.16,866.97 L640.79,864.95 L642.41,862.95 L644.04,860.95 L645.67,858.96 L647.30,856.97 L648.93,854.99 L650.56,853.02 L652.19,851.05 L653.82,849.08 L655.45,847.12 L657.08,845.17 L658.71,843.23 L660.34,841.29 L661.97,839.35 L663.60,837.42 L665.23,835.50 L666.86,833.58 L668.49,831.67 L670.12,829.76 L671.75,827.86 L673.38,825.96 L675.01,824.07 L676.64,822.19 L678.27,820.31 L679.89,818.44 L681.52,816.57 L683.15,814.71 L684.78,812.85 L686.41,811.00 L688.04,809.16 L689.67,807.32 L691.30,805.48 L692.93,803.65 L694.56,801.83 L696.19,800.01 L697.82,798.19 L699.45,796.39 L701.08,794.58 L702.71,792.79 L704.34,790.99 L705.97,789.21 L707.60,787.43 L709.23,785.65 L710.86,783.88 L712.49,782.11 L714.12,780.35 L715.74,778.60 L717.37,776.85 L719.00,775.10 L720.63,773.36 L722.26,771.63 L723.89,769.90 L725.52,768.17 L727.15,766.45 L728.78,764.74 L730.41,763.03 L732.04,761.32 L733.67,759.63 L735.30,757.93 L736.93,756.24 L738.56,754.56 L740.19,752.88 L741.82,751.20 L743.45,749.53 L745.08,747.87 L746.71,746.21 L748.34,744.55 L749.97,742.90 L751.59,741.26 L753.22,739.62 L754.85,737.98 L756.48,736.35 L758.11,734.73 L759.74,733.11 L761.37,731.49 L763.00,729.88 L764.63,728.27 L766.26,726.67 L767.89,725.07 L769.52,723.48 L771.15,721.89 L772.78,720.31 L774.41,718.73 L776.04,717.16 L777.67,715.59 L779.30,714.02 L780.93,712.46 L782.56,710.91 L784.19,709.36 L785.82,707.81 L787.44,706.27 L789.07,704.73 L790.70,703.20 L792.33,701.67 L793.96,700.15 L795.59,698.63 L797.22,697.11 L798.85,695.60 L800.48,694.10 L802.11,692.59 L803.74,691.10 L805.37,689.60 L807.00,688.12 L808.63,686.63 L810.26,685.15 L811.89,683.68 L813.52,682.21 L815.15,680.74 L816.78,679.28 L818.41,677.82 L820.04,676.37 L821.67,674.92 L823.29,673.47 L824.92,672.03 L826.55,670.60 L828.18,669.17 L829.81,667.74 L831.44,666.31 L833.07,664.89 L834.70,663.48 L836.33,662.07 L837.96,660.66 L839.59,659.26 L841.22,657.86 L842.85,656.46 L844.48,655.07 L846.11,653.69 L847.74,652.31 L849.37,650.93 L851.00,649.55 L852.63,648.18 L854.26,646.82 L855.89,645.45 L857.52,644.10 L859.15,642.74 L860.77,641.39 L862.40,640.05 L864.03,638.70 L865.66,637.37 L867.29,636.03 L868.92,634.70 L870.55,633.37 L872.18,632.05 L873.81,630.73 L875.44,629.42 L877.07,628.11 L878.70,626.80 L880.33,625.50 L881.96,624.20 L883.59,622.90 L885.22,621.61 L886.85,620.32 L888.48,619.04 L890.11,617.76 L891.74,616.48 L893.37,615.21 L895.00,613.94 L896.62,612.68 L898.25,611.41 L899.88,610.16 L901.51,608.90 L903.14,607.65 L904.77,606.41 L906.40,605.16 L908.03,603.92 L909.66,602.69 L911.29,601.45 L912.92,600.23 L914.55,599.00 L916.18,597.78 L917.81,596.56 L919.44,595.35 L921.07,594.14 L922.70,592.93 L924.33,591.73 L925.96,590.53 L927.59,589.33 L929.22,588.14 L930.85,586.95 L932.47,585.76 L934.10,584.58 L935.73,583.40 L937.36,582.23 L938.99,581.06 L940.62,579.89 L942.25,578.72 L943.88,577.56 L945.51,576.40 L947.14,575.25 L948.77,574.10 L950.40,572.95 L952.03,571.80 L953.66,570.66 L955.29,569.53 L956.92,568.39 L958.55,567.26 L960.18,566.13 L961.81,565.01 L963.44,563.89 L965.07,562.77 L966.70,561.65 L968.32,560.54 L969.95,559.44 L971.58,558.33 L973.21,557.23 L974.84,556.13 L976.47,555.04 L978.10,553.94 L979.73,552.86 L981.36,551.77 L982.99,550.69 L984.62,549.61 L986.25,548.53 L987.88,547.46 L989.51,546.39 L991.14,545.33 L992.77,544.26 L994.40,543.20 L996.03,542.15 L997.66,541.09 L999.29,540.04 L1000.92,538.99 L1002.55,537.95 L1004.17,536.91 L1005.80,535.87 L1007.43,534.83 L1009.06,533.80 L1010.69,532.77 L1012.32,531.75 L1013.95,530.72 L1015.58,529.70 L1017.21,528.69 L1018.84,527.67 L1020.47,526.66 L1022.10,525.65 L1023.73,524.65 L1025.36,523.64 L1026.99,522.65 L1028.62,521.65 L1030.25,520.66 L1031.88,519.67 L1033.51,518.68 L1035.14,517.69 L1036.77,516.71 L1038.40,515.73 L1040.02,514.76 L1041.65,513.78 L1043.28,512.81 L1044.91,511.85 L1046.54,510.88 L1048.17,509.92 L1049.80,508.96 L1051.43,508.00 L1053.06,507.05 L1054.69,506.10 L1056.32,505.15 L1057.95,504.21 L1059.58,503.27 L1061.21,502.33 L1062.84,501.39 L1064.47,500.46 L1066.10,499.53 L1067.73,498.60 L1069.36,497.67 L1070.99,496.75 L1072.62,495.83 L1074.25,494.91 L1075.88,494.00 L1077.50,493.09 L1079.13,492.18 L1080.76,491.27 L1082.39,490.37 L1084.02,489.46 L1085.65,488.57 L1087.28,487.67 L1088.91,486.78 L1090.54,485.89 L1092.17,485.00 L1093.80,484.11 L1095.43,483.23 L1097.06,482.35 L1098.69,481.47 L1100.32,480.60 L1101.95,479.72 L1103.58,478.85 L1105.21,477.99 L1106.84,477.12 L1108.47,476.26 L1110.10,475.40 L1111.73,474.54 L1113.35,473.69 L1114.98,472.84 L1116.61,471.99 L1118.24,471.14 L1119.87,470.30 L1121.50,469.45 L1123.13,468.61 L1124.76,467.78 L1126.39,466.94 L1128.02,466.11 L1129.65,465.28 L1131.28,464.45 L1132.91,463.63 L1134.54,462.80 L1136.17,461.98 L1137.80,461.17 L1139.43,460.35 L1141.06,459.54 L1142.69,458.73 L1144.32,457.92 L1145.95,457.11 L1147.58,456.31 L1149.20,455.51 L1150.83,454.71 L1152.46,453.92 L1154.09,453.12 L1155.72,452.33 L1157.35,451.54 L1158.98,450.75 L1160.61,449.97 L1162.24,449.19 L1163.87,448.41 L1165.50,447.63 L1167.13,446.85 L1168.76,446.08 L1170.39,445.31 L1172.02,444.54 L1173.65,443.78 L1175.28,443.01 L1176.91,442.25 L1178.54,441.49 L1180.17,440.73 L1181.80,439.98 L1183.43,439.23 L1185.05,438.47 L1186.68,437.73 L1188.31,436.98 L1189.94,436.24 L1191.57,435.49 L1193.20,434.75 L1194.83,434.02 L1196.46,433.28 L1198.09,432.55 L1199.72,431.82 L1201.35,431.09 L1202.98,430.36 L1204.61,429.64 L1206.24,428.92 L1207.87,428.20 L1209.50,427.48 L1211.13,426.76 L1212.76,426.05 L1214.39,425.34 L1216.02,424.63 L1217.65,423.92 L1219.28,423.21 L1220.90,422.51 L1222.53,421.81 L1224.16,421.11 L1225.79,420.41 L1227.42,419.72 L1229.05,419.02 L1230.68,418.33 L1232.31,417.64 L1233.94,416.96 L1235.57,416.27 L1237.20,415.59 L1238.83,414.91 L1240.46,414.23 L1242.09,413.55 L1243.72,412.88 L1245.35,412.20 L1246.98,411.53 L1248.61,410.86 L1250.24,410.20 L1251.87,409.53 L1253.50,408.87 L1255.13,408.21 L1256.76,407.55 L1258.38,406.89 L1260.01,406.23 L1261.64,405.58 L1263.27,404.93 L1264.90,404.28 L1266.53,403.63 L1268.16,402.99 L1269.79,402.34 L1271.42,401.70 L1273.05,401.06 L1274.68,400.42 L1276.31,399.79 L1277.94,399.15 L1279.57,398.52 L1281.20,397.89 L1282.83,397.26 L1284.46,396.63 L1286.09,396.01 L1287.72,395.38 L1289.35,394.76 L1290.98,394.14 L1292.61,393.52 L1294.23,392.91 L1295.86,392.29 L1297.49,391.68 L1299.12,391.07 L1300.75,390.46 L1302.38,389.86 L1304.01,389.25 L1305.64,388.65 L1307.27,388.05 L1308.90,387.45 L1310.53,386.85 L1312.16,386.25 L1313.79,385.66 L1315.42,385.06 L1317.05,384.47 L1318.68,383.88 L1320.31,383.30 L1321.94,382.71 L1323.57,382.13 L1325.20,381.54 L1326.83,380.96 L1328.46,380.38 L1330.08,379.81 L1331.71,379.23 L1333.34,378.66 L1334.97,378.08 L1336.60,377.51 L1338.23,376.95 L1339.86,376.38 L1341.49,375.81 L1343.12,375.25 L1344.75,374.69 L1346.38,374.13 L1348.01,373.57 L1349.64,373.01 L1351.27,372.45 L1352.90,371.90 L1354.53,371.35 L1356.16,370.80 L1357.79,370.25 L1359.42,369.70 L1361.05,369.16 L1362.68,368.61 L1364.31,368.07 L1365.93,367.53 L1367.56,366.99 L1369.19,366.45 L1370.82,365.91 L1372.45,365.38 L1374.08,364.85 L1375.71,364.31 L1377.34,363.78 L1378.97,363.26 L1380.60,362.73 L1382.23,362.20 L1383.86,361.68 L1385.49,361.16 L1387.12,360.64 L1388.75,360.12 L1390.38,359.60 L1392.01,359.09 L1393.64,358.57 L1395.27,358.06 L1396.90,357.55 L1398.53,357.04 L1400.16,356.53 L1401.78,356.02 L1403.41,355.51 L1405.04,355.01 L1406.67,354.51 L1408.30,354.01 L1409.93,353.51 L1411.56,353.01 L1413.19,352.51 L1414.82,352.02 L1416.45,351.52 L1418.08,351.03 L1419.71,350.54 L1421.34,350.05 L1422.97,349.56 L1424.60,349.08 L1426.23,348.59 L1427.86,348.11 L1429.49,347.63 L1431.12,347.15 L1432.75,346.67 L1434.38,346.19 L1436.01,345.71 L1437.63,345.24 L1439.26,344.76 L1440.89,344.29 L1442.52,343.82 L1444.15,343.35 L1445.78,342.88 L1447.41,342.41 L1449.04,341.95 L1450.67,341.48 L1452.30,341.02 L1453.93,340.56 L1455.56,340.10 L1457.19,339.64 L1458.82,339.18 L1460.45,338.73 L1462.08,338.27 L1463.71,337.82 L1465.34,337.37 L1466.97,336.92 L1468.60,336.47 L1470.23,336.02 L1471.86,335.57 L1473.49,335.13 L1475.11,334.69 L1476.74,334.24 L1478.37,333.80 L1480.00,333.36 L1481.63,332.92 L1483.26,332.49 L1484.89,332.05 L1486.52,331.61 L1488.15,331.18 L1489.78,330.75 L1491.41,330.32 L1493.04,329.89 L1494.67,329.46 L1496.30,329.03 L1497.93,328.61 L1499.56,328.18 L1501.19,327.76 L1502.82,327.33 L1504.45,326.91 L1506.08,326.49 L1507.71,326.08 L1509.34,325.66 L1510.96,325.24 L1512.59,324.83 L1514.22,324.41 L1515.85,324.00 L1517.48,323.59 L1519.11,323.18 L1520.74,322.77 L1522.37,322.36 L1524.00,321.96 L1525.63,321.55 L1527.26,321.15 L1528.89,320.75 L1530.52,320.34 L1532.15,319.94 L1533.78,319.54 L1535.41,319.15 L1537.04,318.75 L1538.67,318.35 L1540.30,317.96 L1541.93,317.57 L1543.56,317.17 L1545.19,316.78 L1546.81,316.39 L1548.44,316.00 L1550.07,315.62 L1551.70,315.23 L1553.33,314.84 L1554.96,314.46 L1556.59,314.08 L1558.22,313.69 L1559.85,313.31 L1561.48,312.93 L1563.11,312.56 L1564.74,312.18 L1566.37,311.80 L1568.00,311.43 L1569.63,311.05 L1571.26,310.68 L1572.89,310.31 L1574.52,309.94 L1576.15,309.57 L1577.78,309.20 L1579.41,308.83 L1581.04,308.46 L1582.66,308.10 L1584.29,307.73 L1585.92,307.37 L1587.55,307.01 L1589.18,306.65 L1590.81,306.29 L1592.44,305.93 L1594.07,305.57 L1595.70,305.21 L1597.33,304.86 L1598.96,304.50 L1600.59,304.15 L1602.22,303.80 L1603.85,303.44 L1605.48,303.09 L1607.11,302.74 L1608.74,302.39 L1610.37,302.05 L1612.00,301.70 L1613.63,301.36 L1615.26,301.01 L1616.89,300.67 L1618.51,300.32 L1620.14,299.98 L1621.77,299.64 L1623.40,299.30 L1625.03,298.97 L1626.66,298.63 L1628.29,298.29 L1629.92,297.96 L1631.55,297.62 L1633.18,297.29 L1634.81,296.96 L1636.44,296.62 L1638.07,296.29 L1639.70,295.96 L1641.33,295.63 L1642.96,295.31 L1644.59,294.98 L1646.22,294.65 L1647.85,294.33 L1649.48,294.01 L1651.11,293.68 L1652.74,293.36 L1654.37,293.04 L1655.99,292.72 L1657.62,292.40 L1659.25,292.08 L1660.88,291.77 L1662.51,291.45 L1664.14,291.13 L1665.77,290.82 L1667.40,290.51 L1669.03,290.19 L1670.66,289.88 L1672.29,289.57 L1673.92,289.26 L1675.55,288.95 L1677.18,288.65 L1678.81,288.34 L1680.44,288.03 L1682.07,287.73 L1683.70,287.42 L1685.33,287.12 L1686.96,286.82 L1688.59,286.51 L1690.22,286.21 L1691.84,285.91 L1693.47,285.61 L1695.10,285.32 L1696.73,285.02 L1698.36,284.72 L1699.99,284.43 L1701.62,284.13 L1703.25,283.84 L1704.88,283.55 L1706.51,283.25 L1708.14,282.96 L1709.77,282.67 L1711.40,282.38 L1713.03,282.09 L1714.66,281.81 L1716.29,281.52 L1717.92,281.23 L1719.55,280.95 L1721.18,280.66 L1722.81,280.38 L1724.44,280.10 L1726.07,279.82 L1727.69,279.53 L1729.32,279.25 L1730.95,278.98 L1732.58,278.70 L1734.21,278.42 L1735.84,278.14 L1737.47,277.87 L1739.10,277.59 L1740.73,277.32 L1742.36,277.04 L1743.99,276.77 L1745.62,276.50 L1747.25,276.23 L1748.88,275.96 L1750.51,275.69 L1752.14,275.42 L1753.77,275.15 L1755.40,274.88 L1757.03,274.62 L1758.66,274.35 L1760.29,274.08 L1761.92,273.82 L1763.54,273.56 L1765.17,273.29 L1766.80,273.03 L1768.43,272.77 L1770.06,272.51 L1771.69,272.25 L1773.32,271.99 L1774.95,271.73 L1776.58,271.48 L1778.21,271.22 L1779.84,270.97 L1781.47,270.71 L1783.10,270.46 L1784.73,270.20 L1786.36,269.95 L1787.99,269.70 L1789.62,269.45 L1791.25,269.20 L1792.88,268.95 L1794.51,268.70 L1796.14,268.45 L1797.77,268.20 L1799.39,267.95 L1801.02,267.71 L1802.65,267.46 L1804.28,267.22 L1805.91,266.97 L1807.54,266.73 L1809.17,266.49 L1810.80,266.25 L1812.43,266.01 L1814.06,265.77 L1815.69,265.53 L1817.32,265.29 L1818.95,265.05 L1820.58,264.81 L1822.21,264.57 L1823.84,264.34 L1825.47,264.10 L1827.10,263.87 L1828.73,263.63 L1830.36,263.40 L1831.99,263.17 L1833.62,262.94 L1835.24,262.70 L1836.87,262.47 L1838.50,262.24 L1840.13,262.01 L1841.76,261.79 L1843.39,261.56 L1845.02,261.33 L1846.65,261.10 L1848.28,260.88 L1849.91,260.65 L1851.54,260.43 L1853.17,260.20 L1854.80,259.98 L1856.43,259.76 L1858.06,259.54 L1859.69,259.31 L1861.32,259.09 L1862.95,258.87 L1864.58,258.65 L1866.21,258.44 L1867.84,258.22 L1869.47,258.00 L1871.10,257.78 L1872.72,257.57 L1874.35,257.35 L1875.98,257.14 L1877.61,256.92 L1879.24,256.71 L1880.87,256.50 L1882.50,256.28 L1884.13,256.07 L1885.76,255.86 L1887.39,255.65 L1889.02,255.44 L1890.65,255.23 L1892.28,255.02 L1893.91,254.81 L1895.54,254.61 L1897.17,254.40 L1898.80,254.19 L1900.43,253.99 L1902.06,253.78 L1903.69,253.58 L1905.32,253.38 L1906.95,253.17 L1908.57,252.97 L1910.20,252.77 L1911.83,252.57 L1913.46,252.37 L1915.09,252.17 L1916.72,251.97 L1918.35,251.77 L1919.98,251.57 L1921.61,251.37 L1923.24,251.17 L1924.87,250.98 L1926.50,250.78 L1928.13,250.59 L1929.76,250.39 L1931.39,250.20 L1933.02,250.00 L1934.65,249.81 L1936.28,249.62 L1937.91,249.42 L1939.54,249.23 L1941.17,249.04 L1942.80,248.85 L1944.42,248.66 L1946.05,248.47 L1947.68,248.28 L1949.31,248.09 L1950.94,247.91 L1952.57,247.72 L1954.20,247.53 L1955.83,247.35 L1957.46,247.16 L1959.09,246.98 L1960.72,246.79 L1962.35,246.61 L1963.98,246.43 L1965.61,246.24 L1967.24,246.06 L1968.87,245.88 L1970.50,245.70 L1972.13,245.52 L1973.76,245.34 L1975.39,245.16 L1977.02,244.98 L1978.65,244.80 L1980.27,244.62 L1981.90,244.45 L1983.53,244.27 L1985.16,244.09 L1986.79,243.92 L1988.42,243.74 L1990.05,243.57 L1991.68,243.39 L1993.31,243.22 L1994.94,243.05 L1996.57,242.87 L1998.20,242.70 L1999.83,242.53 L2001.46,242.36 L2003.09,242.19 L2004.72,242.02 L2006.35,241.85 L2007.98,241.68 L2009.61,241.51 L2011.24,241.34 L2012.87,241.17 L2014.50,241.01 L2016.12,240.84 L2017.75,240.67 L2019.38,240.51 L2021.01,240.34 L2022.64,240.18 L2024.27,240.01 L2025.90,239.85 L2027.53,239.69 L2029.16,239.52 L2030.79,239.36 L2032.42,239.20 L2034.05,239.04" fill="none" stroke="#a00000" stroke-width="4.5" stroke-dasharray="15 13.5"/>











<path d="M959.1,518.5 L959.1,576.1 M942.1,518.5 L976.1,518.5 M942.1,576.1 L976.1,576.1" fill="none" stroke="#a00000" stroke-width="5"/>
<path d="M1056.8,432.0 L1056.8,487.3 M1039.8,432.0 L1073.8,432.0 M1039.8,487.3 L1073.8,487.3" fill="none" stroke="#a00000" stroke-width="5"/>
<path d="M1154.5,374.4 L1154.5,424.8 M1137.5,374.4 L1171.5,374.4 M1137.5,424.8 L1171.5,424.8" fill="none" stroke="#a00000" stroke-width="5"/>
<path d="M1252.2,330.0 L1252.2,378.0 M1235.2,330.0 L1269.2,330.0 M1235.2,378.0 L1269.2,378.0" fill="none" stroke="#a00000" stroke-width="5"/>
<path d="M1350.0,306.0 L1350.0,363.6 M1333.0,306.0 L1367.0,306.0 M1333.0,363.6 L1367.0,363.6" fill="none" stroke="#a00000" stroke-width="5"/>
<path d="M1447.7,295.2 L1447.7,340.8 M1430.7,295.2 L1464.7,295.2 M1430.7,340.8 L1464.7,340.8" fill="none" stroke="#a00000" stroke-width="5"/>






<rect x="257.8" y="1486.8" width="34.5" height="34.5" fill="none" stroke="#a00000" stroke-width="5.5"/>
<rect x="274.0" y="1475.9" width="34.5" height="34.5" fill="none" stroke="#a00000" stroke-width="5.5"/>
<rect x="290.3" y="1475.9" width="34.5" height="34.5" fill="none" stroke="#a00000" stroke-width="5.5"/>
<rect x="306.6" y="1466.3" width="34.5" height="34.5" fill="none" stroke="#a00000" stroke-width="5.5"/>
<rect x="355.5" y="1395.5" width="34.5" height="34.5" fill="none" stroke="#a00000" stroke-width="5.5"/>
<rect x="404.3" y="1237.1" width="34.5" height="34.5" fill="none" stroke="#a00000" stroke-width="5.5"/>
<rect x="453.2" y="1114.6" width="34.5" height="34.5" fill="none" stroke="#a00000" stroke-width="5.5"/>
<rect x="550.9" y="944.2" width="34.5" height="34.5" fill="none" stroke="#a00000" stroke-width="5.5"/>
<rect x="648.6" y="827.7" width="34.5" height="34.5" fill="none" stroke="#a00000" stroke-width="5.5"/>
<rect x="746.4" y="725.7" width="34.5" height="34.5" fill="none" stroke="#a00000" stroke-width="5.5"/>
<rect x="844.1" y="628.5" width="34.5" height="34.5" fill="none" stroke="#a00000" stroke-width="5.5"/>
<rect x="941.8" y="530.0" width="34.5" height="34.5" fill="none" stroke="#a00000" stroke-width="5.5"/>
<rect x="1039.5" y="442.4" width="34.5" height="34.5" fill="none" stroke="#a00000" stroke-width="5.5"/>
<rect x="1137.3" y="382.4" width="34.5" height="34.5" fill="none" stroke="#a00000" stroke-width="5.5"/>
<rect x="1235.0" y="336.8" width="34.5" height="34.5" fill="none" stroke="#a00000" stroke-width="5.5"/>
<rect x="1332.7" y="317.6" width="34.5" height="34.5" fill="none" stroke="#a00000" stroke-width="5.5"/>
<rect x="1430.5" y="300.8" width="34.5" height="34.5" fill="none" stroke="#a00000" stroke-width="5.5"/>
<rect x="1528.2" y="283.9" width="34.5" height="34.5" fill="none" stroke="#a00000" stroke-width="5.5"/>
<rect x="1625.9" y="281.5" width="34.5" height="34.5" fill="none" stroke="#a00000" stroke-width="5.5"/>
<rect x="1723.6" y="275.5" width="34.5" height="34.5" fill="none" stroke="#a00000" stroke-width="5.5"/>
<rect x="1821.3" y="275.5" width="34.5" height="34.5" fill="none" stroke="#a00000" stroke-width="5.5"/>
<rect x="1919.1" y="274.8" width="34.5" height="34.5" fill="none" stroke="#a00000" stroke-width="5.5"/>
<rect x="2016.8" y="285.1" width="34.5" height="34.5" fill="none" stroke="#a00000" stroke-width="5.5"/>
<path d="M275.00,1504.00 L275.81,1494.18 L276.63,1486.66 L277.44,1479.85 L278.26,1473.46 L279.07,1467.37 L279.89,1461.53 L280.70,1455.88 L281.51,1450.40 L282.33,1445.06 L283.14,1439.84 L283.96,1434.74 L284.77,1429.74 L285.59,1424.83 L286.40,1420.01 L287.22,1415.27 L288.03,1410.60 L288.84,1406.00 L289.66,1401.46 L290.47,1396.99 L291.29,1392.57 L292.10,1388.21 L292.92,1383.90 L293.73,1379.64 L294.55,1375.43 L295.36,1371.26 L296.17,1367.14 L296.99,1363.06 L297.80,1359.02 L298.62,1355.02 L299.43,1351.06 L300.25,1347.13 L301.06,1343.24 L301.87,1339.39 L302.69,1335.57 L303.50,1331.78 L304.32,1328.02 L305.13,1324.30 L305.95,1320.60 L306.76,1316.94 L307.57,1313.30 L308.39,1309.69 L309.20,1306.11 L310.02,1302.55 L310.83,1299.02 L311.65,1295.52 L312.46,1292.04 L313.28,1288.58 L314.09,1285.15 L314.90,1281.74 L315.72,1278.36 L316.53,1275.00 L317.35,1271.66 L318.16,1268.34 L318.98,1265.04 L319.79,1261.77 L320.61,1258.51 L321.42,1255.28 L322.23,1252.06 L323.05,1248.87 L323.86,1245.69 L324.68,1242.54 L325.49,1239.40 L326.31,1236.28 L327.12,1233.18 L327.93,1230.09 L328.75,1227.03 L329.56,1223.98 L330.38,1220.95 L331.19,1217.94 L332.01,1214.94 L332.82,1211.96 L333.63,1208.99 L334.45,1206.05 L335.26,1203.11 L336.08,1200.20 L336.89,1197.29 L337.71,1194.41 L338.52,1191.54 L339.34,1188.68 L340.15,1185.84 L340.96,1183.01 L341.78,1180.20 L342.59,1177.40 L343.41,1174.62 L344.22,1171.85 L345.04,1169.09 L345.85,1166.35 L346.66,1163.62 L347.48,1160.90 L348.29,1158.20 L349.11,1155.51 L349.92,1152.83 L350.74,1150.16 L351.55,1147.51 L352.37,1144.87 L353.18,1142.25 L353.99,1139.63 L354.81,1137.03 L355.62,1134.44 L356.44,1131.86 L357.25,1129.29 L358.07,1126.74 L358.88,1124.19 L359.69,1121.66 L360.51,1119.14 L361.32,1116.63 L362.14,1114.13 L362.95,1111.64 L363.77,1109.17 L364.58,1106.70 L365.40,1104.25 L366.21,1101.80 L367.02,1099.37 L367.84,1096.94 L368.65,1094.53 L369.47,1092.13 L370.28,1089.74 L371.10,1087.36 L371.91,1084.98 L372.73,1082.62 L373.54,1080.27 L375.17,1075.59 L376.80,1070.95 L378.43,1066.35 L380.06,1061.79 L381.69,1057.26 L383.32,1052.77 L384.95,1048.32 L386.58,1043.90 L388.21,1039.52 L389.83,1035.17 L391.46,1030.85 L393.09,1026.57 L394.72,1022.32 L396.35,1018.11 L397.98,1013.92 L399.61,1009.77 L401.24,1005.65 L402.87,1001.56 L404.50,997.50 L406.13,993.47 L407.76,989.46 L409.39,985.49 L411.02,981.55 L412.65,977.64 L414.28,973.75 L415.91,969.89 L417.54,966.06 L419.17,962.26 L420.80,958.48 L422.43,954.73 L424.06,951.01 L425.68,947.31 L427.31,943.64 L428.94,939.99 L430.57,936.37 L432.20,932.78 L433.83,929.21 L435.46,925.66 L437.09,922.13 L438.72,918.64 L440.35,915.16 L441.98,911.71 L443.61,908.28 L445.24,904.87 L446.87,901.49 L448.50,898.12 L450.13,894.78 L451.76,891.47 L453.39,888.17 L455.02,884.90 L456.65,881.64 L458.28,878.41 L459.91,875.20 L461.54,872.01 L463.16,868.84 L464.79,865.69 L466.42,862.56 L468.05,859.45 L469.68,856.36 L471.31,853.28 L472.94,850.23 L474.57,847.20 L476.20,844.19 L477.83,841.19 L479.46,838.21 L481.09,835.26 L482.72,832.32 L484.35,829.39 L485.98,826.49 L487.61,823.61 L489.24,820.74 L490.87,817.89 L492.50,815.05 L494.13,812.24 L495.76,809.44 L497.39,806.65 L499.01,803.89 L500.64,801.14 L502.27,798.41 L503.90,795.69 L505.53,792.99 L507.16,790.31 L508.79,787.64 L510.42,784.99 L512.05,782.35 L513.68,779.73 L515.31,777.12 L516.94,774.53 L518.57,771.95 L520.20,769.39 L521.83,766.85 L523.46,764.32 L525.09,761.80 L526.72,759.30 L528.35,756.81 L529.98,754.34 L531.61,751.88 L533.24,749.43 L534.86,747.00 L536.49,744.59 L538.12,742.18 L539.75,739.79 L541.38,737.42 L543.01,735.05 L544.64,732.70 L546.27,730.37 L547.90,728.05 L549.53,725.74 L551.16,723.44 L552.79,721.15 L554.42,718.88 L556.05,716.62 L557.68,714.38 L559.31,712.14 L560.94,709.92 L562.57,707.71 L564.20,705.52 L565.83,703.33 L567.46,701.16 L569.09,699.00 L570.71,696.85 L572.34,694.71 L573.97,692.59 L575.60,690.47 L577.23,688.37 L578.86,686.28 L580.49,684.20 L582.12,682.13 L583.75,680.07 L585.38,678.02 L587.01,675.99 L588.64,673.96 L590.27,671.95 L591.90,669.95 L593.53,667.96 L595.16,665.97 L596.79,664.00 L598.42,662.04 L600.05,660.09 L601.68,658.15 L603.31,656.22 L604.94,654.30 L606.56,652.39 L608.19,650.50 L609.82,648.61 L611.45,646.73 L613.08,644.86 L614.71,643.00 L616.34,641.15 L617.97,639.31 L619.60,637.48 L621.23,635.66 L622.86,633.85 L624.49,632.04 L626.12,630.25 L627.75,628.47 L629.38,626.69 L631.01,624.93 L632.64,623.17 L634.27,621.43 L635.90,619.69 L637.53,617.96 L639.16,616.24 L640.79,614.53 L642.41,612.82 L644.04,611.13 L645.67,609.45 L647.30,607.77 L648.93,606.10 L650.56,604.44 L652.19,602.79 L653.82,601.15 L655.45,599.51 L657.08,597.89 L658.71,596.27 L660.34,594.66 L661.97,593.06 L663.60,591.46 L665.23,589.88 L666.86,588.30 L668.49,586.73 L670.12,585.17 L671.75,583.61 L673.38,582.07 L675.01,580.53 L676.64,579.00 L678.27,577.47 L679.89,575.96 L681.52,574.45 L683.15,572.95 L684.78,571.46 L686.41,569.97 L688.04,568.49 L689.67,567.02 L691.30,565.56 L692.93,564.10 L694.56,562.65 L696.19,561.21 L697.82,559.77 L699.45,558.34 L701.08,556.92 L702.71,555.51 L704.34,554.10 L705.97,552.70 L707.60,551.30 L709.23,549.92 L710.86,548.54 L712.49,547.16 L714.12,545.80 L715.74,544.44 L717.37,543.08 L719.00,541.73 L720.63,540.39 L722.26,539.06 L723.89,537.73 L725.52,536.41 L727.15,535.10 L728.78,533.79 L730.41,532.48 L732.04,531.19 L733.67,529.90 L735.30,528.61 L736.93,527.34 L738.56,526.07 L740.19,524.80 L741.82,523.54 L743.45,522.29 L745.08,521.04 L746.71,519.80 L748.34,518.56 L749.97,517.33 L751.59,516.11 L753.22,514.89 L754.85,513.68 L756.48,512.47 L758.11,511.27 L759.74,510.08 L761.37,508.89 L763.00,507.70 L764.63,506.52 L766.26,505.35 L767.89,504.18 L769.52,503.02 L771.15,501.87 L772.78,500.71 L774.41,499.57 L776.04,498.43 L777.67,497.29 L779.30,496.16 L780.93,495.04 L782.56,493.92 L784.19,492.81 L785.82,491.70 L787.44,490.59 L789.07,489.50 L790.70,488.40 L792.33,487.31 L793.96,486.23 L795.59,485.15 L797.22,484.08 L798.85,483.01 L800.48,481.95 L802.11,480.89 L803.74,479.84 L805.37,478.79 L807.00,477.74 L808.63,476.70 L810.26,475.67 L811.89,474.64 L813.52,473.62 L815.15,472.60 L816.78,471.58 L818.41,470.57 L820.04,469.56 L821.67,468.56 L823.29,467.56 L824.92,466.57 L826.55,465.58 L828.18,464.60 L829.81,463.62 L831.44,462.65 L833.07,461.68 L834.70,460.71 L836.33,459.75 L837.96,458.79 L839.59,457.84 L841.22,456.89 L842.85,455.95 L844.48,455.01 L846.11,454.07 L847.74,453.14 L849.37,452.21 L851.00,451.29 L852.63,450.37 L854.26,449.46 L855.89,448.55 L857.52,447.64 L859.15,446.74 L860.77,445.84 L862.40,444.95 L864.03,444.06 L865.66,443.17 L867.29,442.29 L868.92,441.41 L870.55,440.53 L872.18,439.66 L873.81,438.80 L875.44,437.93 L877.07,437.08 L878.70,436.22 L880.33,435.37 L881.96,434.52 L883.59,433.68 L885.22,432.84 L886.85,432.00 L888.48,431.17 L890.11,430.34 L891.74,429.51 L893.37,428.69 L895.00,427.87 L896.62,427.06 L898.25,426.25 L899.88,425.44 L901.51,424.64 L903.14,423.84 L904.77,423.04 L906.40,422.25 L908.03,421.46 L909.66,420.67 L911.29,419.89 L912.92,419.11 L914.55,418.33 L916.18,417.56 L917.81,416.79 L919.44,416.03 L921.07,415.26 L922.70,414.51 L924.33,413.75 L925.96,413.00 L927.59,412.25 L929.22,411.50 L930.85,410.76 L932.47,410.02 L934.10,409.28 L935.73,408.55 L937.36,407.82 L938.99,407.09 L940.62,406.37 L942.25,405.65 L943.88,404.93 L945.51,404.22 L947.14,403.51 L948.77,402.80 L950.40,402.10 L952.03,401.39 L953.66,400.70 L955.29,400.00 L956.92,399.31 L958.55,398.62 L960.18,397.93 L961.81,397.25 L963.44,396.56 L965.07,395.89 L966.70,395.21 L968.32,394.54 L969.95,393.87 L971.58,393.20 L973.21,392.54 L974.84,391.88 L976.47,391.22 L978.10,390.57 L979.73,389.91 L981.36,389.26 L982.99,388.62 L984.62,387.97 L986.25,387.33 L987.88,386.69 L989.51,386.06 L991.14,385.42 L992.77,384.79 L994.40,384.17 L996.03,383.54 L997.66,382.92 L999.29,382.30 L1000.92,381.68 L1002.55,381.07 L1004.17,380.46 L1005.80,379.85 L1007.43,379.24 L1009.06,378.64 L1010.69,378.03 L1012.32,377.43 L1013.95,376.84 L1015.58,376.24 L1017.21,375.65 L1018.84,375.06 L1020.47,374.48 L1022.10,373.89 L1023.73,373.31 L1025.36,372.73 L1026.99,372.16 L1028.62,371.58 L1030.25,371.01 L1031.88,370.44 L1033.51,369.87 L1035.14,369.31 L1036.77,368.75 L1038.40,368.19 L1040.02,367.63 L1041.65,367.07 L1043.28,366.52 L1044.91,365.97 L1046.54,365.42 L1048.17,364.87 L1049.80,364.33 L1051.43,363.79 L1053.06,363.25 L1054.69,362.71 L1056.32,362.18 L1057.95,361.64 L1059.58,361.11 L1061.21,360.59 L1062.84,360.06 L1064.47,359.54 L1066.10,359.01 L1067.73,358.50 L1069.36,357.98 L1070.99,357.46 L1072.62,356.95 L1074.25,356.44 L1075.88,355.93 L1077.50,355.42 L1079.13,354.92 L1080.76,354.42 L1082.39,353.92 L1084.02,353.42 L1085.65,352.92 L1087.28,352.43 L1088.91,351.94 L1090.54,351.45 L1092.17,350.96 L1093.80,350.47 L1095.43,349.99 L1097.06,349.50 L1098.69,349.02 L1100.32,348.55 L1101.95,348.07 L1103.58,347.60 L1105.21,347.12 L1106.84,346.65 L1108.47,346.18 L1110.10,345.72 L1111.73,345.25 L1113.35,344.79 L1114.98,344.33 L1116.61,343.87 L1118.24,343.41 L1119.87,342.96 L1121.50,342.51 L1123.13,342.05 L1124.76,341.60 L1126.39,341.16 L1128.02,340.71 L1129.65,340.27 L1131.28,339.82 L1132.91,339.38 L1134.54,338.94 L1136.17,338.51 L1137.80,338.07 L1139.43,337.64 L1141.06,337.21 L1142.69,336.78 L1144.32,336.35 L1145.95,335.92 L1147.58,335.50 L1149.20,335.07 L1150.83,334.65 L1152.46,334.23 L1154.09,333.82 L1155.72,333.40 L1157.35,332.99 L1158.98,332.57 L1160.61,332.16 L1162.24,331.75 L1163.87,331.34 L1165.50,330.94 L1167.13,330.53 L1168.76,330.13 L1170.39,329.73 L1172.02,329.33 L1173.65,328.93 L1175.28,328.53 L1176.91,328.14 L1178.54,327.75 L1180.17,327.35 L1181.80,326.96 L1183.43,326.58 L1185.05,326.19 L1186.68,325.80 L1188.31,325.42 L1189.94,325.04 L1191.57,324.66 L1193.20,324.28 L1194.83,323.90 L1196.46,323.52 L1198.09,323.15 L1199.72,322.78 L1201.35,322.40 L1202.98,322.03 L1204.61,321.66 L1206.24,321.30 L1207.87,320.93 L1209.50,320.57 L1211.13,320.20 L1212.76,319.84 L1214.39,319.48 L1216.02,319.12 L1217.65,318.77 L1219.28,318.41 L1220.90,318.06 L1222.53,317.70 L1224.16,317.35 L1225.79,317.00 L1227.42,316.65 L1229.05,316.30 L1230.68,315.96 L1232.31,315.61 L1233.94,315.27 L1235.57,314.93 L1237.20,314.59 L1238.83,314.25 L1240.46,313.91 L1242.09,313.57 L1243.72,313.24 L1245.35,312.91 L1246.98,312.57 L1248.61,312.24 L1250.24,311.91 L1251.87,311.58 L1253.50,311.26 L1255.13,310.93 L1256.76,310.60 L1258.38,310.28 L1260.01,309.96 L1261.64,309.64 L1263.27,309.32 L1264.90,309.00 L1266.53,308.68 L1268.16,308.37 L1269.79,308.05 L1271.42,307.74 L1273.05,307.43 L1274.68,307.12 L1276.31,306.81 L1277.94,306.50 L1279.57,306.19 L1281.20,305.88 L1282.83,305.58 L1284.46,305.27 L1286.09,304.97 L1287.72,304.67 L1289.35,304.37 L1290.98,304.07 L1292.61,303.77 L1294.23,303.48 L1295.86,303.18 L1297.49,302.89 L1299.12,302.59 L1300.75,302.30 L1302.38,302.01 L1304.01,301.72 L1305.64,301.43 L1307.27,301.14 L1308.90,300.86 L1310.53,300.57 L1312.16,300.29 L1313.79,300.01 L1315.42,299.72 L1317.05,299.44 L1318.68,299.16 L1320.31,298.88 L1321.94,298.61 L1323.57,298.33 L1325.20,298.05 L1326.83,297.78 L1328.46,297.51 L1330.08,297.23 L1331.71,296.96 L1333.34,296.69 L1334.97,296.42 L1336.60,296.16 L1338.23,295.89 L1339.86,295.62 L1341.49,295.36 L1343.12,295.09 L1344.75,294.83 L1346.38,294.57 L1348.01,294.31 L1349.64,294.05 L1351.27,293.79 L1352.90,293.53 L1354.53,293.27 L1356.16,293.02 L1357.79,292.76 L1359.42,292.51 L1361.05,292.26 L1362.68,292.00 L1364.31,291.75 L1365.93,291.50 L1367.56,291.25 L1369.19,291.00 L1370.82,290.76 L1372.45,290.51 L1374.08,290.27 L1375.71,290.02 L1377.34,289.78 L1378.97,289.54 L1380.60,289.29 L1382.23,289.05 L1383.86,288.81 L1385.49,288.57 L1387.12,288.34 L1388.75,288.10 L1390.38,287.86 L1392.01,287.63 L1393.64,287.39 L1395.27,287.16 L1396.90,286.93 L1398.53,286.70 L1400.16,286.47 L1401.78,286.24 L1403.41,286.01 L1405.04,285.78 L1406.67,285.55 L1408.30,285.33 L1409.93,285.10 L1411.56,284.88 L1413.19,284.65 L1414.82,284.43 L1416.45,284.21 L1418.08,283.99 L1419.71,283.76 L1421.34,283.55 L1422.97,283.33 L1424.60,283.11 L1426.23,282.89 L1427.86,282.68 L1429.49,282.46 L1431.12,282.25 L1432.75,282.03 L1434.38,281.82 L1436.01,281.61 L1437.63,281.39 L1439.26,281.18 L1440.89,280.97 L1442.52,280.77 L1444.15,280.56 L1445.78,280.35 L1447.41,280.14 L1449.04,279.94 L1450.67,279.73 L1452.30,279.53 L1453.93,279.32 L1455.56,279.12 L1457.19,278.92 L1458.82,278.72 L1460.45,278.52 L1462.08,278.32 L1463.71,278.12 L1465.34,277.92 L1466.97,277.72 L1468.60,277.53 L1470.23,277.33 L1471.86,277.14 L1473.49,276.94 L1475.11,276.75 L1476.74,276.55 L1478.37,276.36 L1480.00,276.17 L1481.63,275.98 L1483.26,275.79 L1484.89,275.60 L1486.52,275.41 L1488.15,275.22 L1489.78,275.04 L1491.41,274.85 L1493.04,274.66 L1494.67,274.48 L1496.30,274.29 L1497.93,274.11 L1499.56,273.93 L1501.19,273.74 L1502.82,273.56 L1504.45,273.38 L1506.08,273.20 L1507.71,273.02 L1509.34,272.84 L1510.96,272.66 L1512.59,272.49 L1514.22,272.31 L1515.85,272.13 L1517.48,271.96 L1519.11,271.78 L1520.74,271.61 L1522.37,271.43 L1524.00,271.26 L1525.63,271.09 L1527.26,270.92 L1528.89,270.75 L1530.52,270.58 L1532.15,270.41 L1533.78,270.24 L1535.41,270.07 L1537.04,269.90 L1538.67,269.73 L1540.30,269.56 L1541.93,269.40 L1543.56,269.23 L1545.19,269.07 L1546.81,268.90 L1548.44,268.74 L1550.07,268.58 L1551.70,268.41 L1553.33,268.25 L1554.96,268.09 L1556.59,267.93 L1558.22,267.77 L1559.85,267.61 L1561.48,267.45 L1563.11,267.29 L1564.74,267.14 L1566.37,266.98 L1568.00,266.82 L1569.63,266.67 L1571.26,266.51 L1572.89,266.36 L1574.52,266.20 L1576.15,266.05 L1577.78,265.89 L1579.41,265.74 L1581.04,265.59 L1582.66,265.44 L1584.29,265.29 L1585.92,265.14 L1587.55,264.99 L1589.18,264.84 L1590.81,264.69 L1592.44,264.54 L1594.07,264.39 L1595.70,264.25 L1597.33,264.10 L1598.96,263.95 L1600.59,263.81 L1602.22,263.66 L1603.85,263.52 L1605.48,263.38 L1607.11,263.23 L1608.74,263.09 L1610.37,262.95 L1612.00,262.81 L1613.63,262.66 L1615.26,262.52 L1616.89,262.38 L1618.51,262.24 L1620.14,262.11 L1621.77,261.97 L1623.40,261.83 L1625.03,261.69 L1626.66,261.55 L1628.29,261.42 L1629.92,261.28 L1631.55,261.15 L1633.18,261.01 L1634.81,260.88 L1636.44,260.74 L1638.07,260.61 L1639.70,260.47 L1641.33,260.34 L1642.96,260.21 L1644.59,260.08 L1646.22,259.95 L1647.85,259.82 L1649.48,259.69 L1651.11,259.56 L1652.74,259.43 L1654.37,259.30 L1655.99,259.17 L1657.62,259.04 L1659.25,258.91 L1660.88,258.79 L1662.51,258.66 L1664.14,258.53 L1665.77,258.41 L1667.40,258.28 L1669.03,258.16 L1670.66,258.04 L1672.29,257.91 L1673.92,257.79 L1675.55,257.67 L1677.18,257.54 L1678.81,257.42 L1680.44,257.30 L1682.07,257.18 L1683.70,257.06 L1685.33,256.94 L1686.96,256.82 L1688.59,256.70 L1690.22,256.58 L1691.84,256.46 L1693.47,256.34 L1695.10,256.22 L1696.73,256.11 L1698.36,255.99 L1699.99,255.87 L1701.62,255.76 L1703.25,255.64 L1704.88,255.53 L1706.51,255.41 L1708.14,255.30 L1709.77,255.19 L1711.40,255.07 L1713.03,254.96 L1714.66,254.85 L1716.29,254.73 L1717.92,254.62 L1719.55,254.51 L1721.18,254.40 L1722.81,254.29 L1724.44,254.18 L1726.07,254.07 L1727.69,253.96 L1729.32,253.85 L1730.95,253.74 L1732.58,253.63 L1734.21,253.53 L1735.84,253.42 L1737.47,253.31 L1739.10,253.20 L1740.73,253.10 L1742.36,252.99 L1743.99,252.89 L1745.62,252.78 L1747.25,252.68 L1748.88,252.57 L1750.51,252.47 L1752.14,252.36 L1753.77,252.26 L1755.40,252.16 L1757.03,252.06 L1758.66,251.95 L1760.29,251.85 L1761.92,251.75 L1763.54,251.65 L1765.17,251.55 L1766.80,251.45 L1768.43,251.35 L1770.06,251.25 L1771.69,251.15 L1773.32,251.05 L1774.95,250.95 L1776.58,250.85 L1778.21,250.76 L1779.84,250.66 L1781.47,250.56 L1783.10,250.46 L1784.73,250.37 L1786.36,250.27 L1787.99,250.18 L1789.62,250.08 L1791.25,249.99 L1792.88,249.89 L1794.51,249.80 L1796.14,249.70 L1797.77,249.61 L1799.39,249.52 L1801.02,249.42 L1802.65,249.33 L1804.28,249.24 L1805.91,249.14 L1807.54,249.05 L1809.17,248.96 L1810.80,248.87 L1812.43,248.78 L1814.06,248.69 L1815.69,248.60 L1817.32,248.51 L1818.95,248.42 L1820.58,248.33 L1822.21,248.24 L1823.84,248.15 L1825.47,248.07 L1827.10,247.98 L1828.73,247.89 L1830.36,247.80 L1831.99,247.72 L1833.62,247.63 L1835.24,247.54 L1836.87,247.46 L1838.50,247.37 L1840.13,247.28 L1841.76,247.20 L1843.39,247.11 L1845.02,247.03 L1846.65,246.95 L1848.28,246.86 L1849.91,246.78 L1851.54,246.70 L1853.17,246.61 L1854.80,246.53 L1856.43,246.45 L1858.06,246.36 L1859.69,246.28 L1861.32,246.20 L1862.95,246.12 L1864.58,246.04 L1866.21,245.96 L1867.84,245.88 L1869.47,245.80 L1871.10,245.72 L1872.72,245.64 L1874.35,245.56 L1875.98,245.48 L1877.61,245.40 L1879.24,245.32 L1880.87,245.24 L1882.50,245.17 L1884.13,245.09 L1885.76,245.01 L1887.39,244.93 L1889.02,244.86 L1890.65,244.78 L1892.28,244.70 L1893.91,244.63 L1895.54,244.55 L1897.17,244.48 L1898.80,244.40 L1900.43,244.33 L1902.06,244.25 L1903.69,244.18 L1905.32,244.10 L1906.95,244.03 L1908.57,243.96 L1910.20,243.88 L1911.83,243.81 L1913.46,243.74 L1915.09,243.66 L1916.72,243.59 L1918.35,243.52 L1919.98,243.45 L1921.61,243.38 L1923.24,243.30 L1924.87,243.23 L1926.50,243.16 L1928.13,243.09 L1929.76,243.02 L1931.39,242.95 L1933.02,242.88 L1934.65,242.81 L1936.28,242.74 L1937.91,242.67 L1939.54,242.60 L1941.17,242.54 L1942.80,242.47 L1944.42,242.40 L1946.05,242.33 L1947.68,242.26 L1949.31,242.20 L1950.94,242.13 L1952.57,242.06 L1954.20,241.99 L1955.83,241.93 L1957.46,241.86 L1959.09,241.80 L1960.72,241.73 L1962.35,241.66 L1963.98,241.60 L1965.61,241.53 L1967.24,241.47 L1968.87,241.40 L1970.50,241.34 L1972.13,241.28 L1973.76,241.21 L1975.39,241.15 L1977.02,241.08 L1978.65,241.02 L1980.27,240.96 L1981.90,240.89 L1983.53,240.83 L1985.16,240.77 L1986.79,240.71 L1988.42,240.65 L1990.05,240.58 L1991.68,240.52 L1993.31,240.46 L1994.94,240.40 L1996.57,240.34 L1998.20,240.28 L1999.83,240.22 L2001.46,240.16 L2003.09,240.10 L2004.72,240.04 L2006.35,239.98 L2007.98,239.92 L2009.61,239.86 L2011.24,239.80 L2012.87,239.74 L2014.50,239.68 L2016.12,239.62 L2017.75,239.56 L2019.38,239.51 L2021.01,239.45 L2022.64,239.39 L2024.27,239.33 L2025.90,239.28 L2027.53,239.22 L2029.16,239.16 L2030.79,239.11 L2032.42,239.05 L2034.05,238.99" fill="none" stroke="#0000ff" stroke-width="4.5"/>
<path d="M275.00,1504.00 L275.81,1500.37 L276.63,1496.75 L277.44,1493.14 L278.26,1489.54 L279.07,1485.95 L279.89,1482.38 L280.70,1478.81 L281.51,1475.25 L282.33,1471.71 L283.14,1468.17 L283.96,1464.64 L284.77,1461.13 L285.59,1457.62 L286.40,1454.13 L287.22,1450.64 L288.03,1447.17 L288.84,1443.71 L289.66,1440.25 L290.47,1436.81 L291.29,1433.37 L292.10,1429.95 L292.92,1426.54 L293.73,1423.13 L294.55,1419.74 L295.36,1416.36 L296.17,1412.98 L296.99,1409.62 L297.80,1406.27 L298.62,1402.92 L299.43,1399.59 L300.25,1396.26 L301.06,1392.95 L301.87,1389.64 L302.69,1386.35 L303.50,1383.06 L304.32,1379.78 L305.13,1376.52 L305.95,1373.26 L306.76,1370.01 L307.57,1366.78 L308.39,1363.55 L309.20,1360.33 L310.02,1357.12 L310.83,1353.92 L311.65,1350.73 L312.46,1347.55 L313.28,1344.37 L314.09,1341.21 L314.90,1338.06 L315.72,1334.91 L316.53,1331.78 L317.35,1328.65 L318.16,1325.54 L318.98,1322.43 L319.79,1319.33 L320.61,1316.24 L321.42,1313.16 L322.23,1310.09 L323.05,1307.03 L323.86,1303.97 L324.68,1300.93 L325.49,1297.89 L326.31,1294.87 L327.12,1291.85 L327.93,1288.84 L328.75,1285.84 L329.56,1282.85 L330.38,1279.87 L331.19,1276.89 L332.01,1273.93 L332.82,1270.97 L333.63,1268.02 L334.45,1265.09 L335.26,1262.16 L336.08,1259.23 L336.89,1256.32 L337.71,1253.42 L338.52,1250.52 L339.34,1247.63 L340.15,1244.75 L340.96,1241.88 L341.78,1239.02 L342.59,1236.17 L343.41,1233.32 L344.22,1230.48 L345.04,1227.65 L345.85,1224.83 L346.66,1222.02 L347.48,1219.22 L348.29,1216.42 L349.11,1213.63 L349.92,1210.85 L350.74,1208.08 L351.55,1205.32 L352.37,1202.56 L353.18,1199.82 L353.99,1197.08 L354.81,1194.35 L355.62,1191.62 L356.44,1188.91 L357.25,1186.20 L358.07,1183.50 L358.88,1180.81 L359.69,1178.13 L360.51,1175.45 L361.32,1172.78 L362.14,1170.12 L362.95,1167.47 L363.77,1164.83 L364.58,1162.19 L365.40,1159.56 L366.21,1156.94 L367.02,1154.33 L367.84,1151.72 L368.65,1149.12 L369.47,1146.53 L370.28,1143.95 L371.10,1141.37 L371.91,1138.81 L372.73,1136.25 L373.54,1133.69 L375.17,1128.61 L376.80,1123.55 L378.43,1118.52 L380.06,1113.53 L381.69,1108.56 L383.32,1103.62 L384.95,1098.71 L386.58,1093.83 L388.21,1088.98 L389.83,1084.16 L391.46,1079.36 L393.09,1074.59 L394.72,1069.85 L396.35,1065.14 L397.98,1060.46 L399.61,1055.80 L401.24,1051.17 L402.87,1046.57 L404.50,1041.99 L406.13,1037.44 L407.76,1032.92 L409.39,1028.43 L411.02,1023.96 L412.65,1019.51 L414.28,1015.10 L415.91,1010.70 L417.54,1006.34 L419.17,1002.00 L420.80,997.68 L422.43,993.40 L424.06,989.13 L425.68,984.89 L427.31,980.68 L428.94,976.49 L430.57,972.32 L432.20,968.18 L433.83,964.07 L435.46,959.97 L437.09,955.91 L438.72,951.86 L440.35,947.84 L441.98,943.84 L443.61,939.87 L445.24,935.92 L446.87,931.99 L448.50,928.09 L450.13,924.20 L451.76,920.34 L453.39,916.51 L455.02,912.69 L456.65,908.90 L458.28,905.13 L459.91,901.39 L461.54,897.66 L463.16,893.96 L464.79,890.28 L466.42,886.61 L468.05,882.98 L469.68,879.36 L471.31,875.76 L472.94,872.19 L474.57,868.63 L476.20,865.10 L477.83,861.59 L479.46,858.09 L481.09,854.62 L482.72,851.17 L484.35,847.74 L485.98,844.33 L487.61,840.94 L489.24,837.57 L490.87,834.21 L492.50,830.88 L494.13,827.57 L495.76,824.28 L497.39,821.00 L499.01,817.75 L500.64,814.51 L502.27,811.29 L503.90,808.10 L505.53,804.92 L507.16,801.76 L508.79,798.62 L510.42,795.49 L512.05,792.39 L513.68,789.30 L515.31,786.23 L516.94,783.18 L518.57,780.15 L520.20,777.13 L521.83,774.13 L523.46,771.15 L525.09,768.19 L526.72,765.24 L528.35,762.32 L529.98,759.41 L531.61,756.51 L533.24,753.63 L534.86,750.77 L536.49,747.93 L538.12,745.10 L539.75,742.29 L541.38,739.50 L543.01,736.72 L544.64,733.96 L546.27,731.22 L547.90,728.49 L549.53,725.77 L551.16,723.08 L552.79,720.40 L554.42,717.73 L556.05,715.08 L557.68,712.45 L559.31,709.83 L560.94,707.22 L562.57,704.64 L564.20,702.06 L565.83,699.50 L567.46,696.96 L569.09,694.43 L570.71,691.92 L572.34,689.42 L573.97,686.94 L575.60,684.47 L577.23,682.01 L578.86,679.57 L580.49,677.14 L582.12,674.73 L583.75,672.33 L585.38,669.95 L587.01,667.58 L588.64,665.22 L590.27,662.88 L591.90,660.55 L593.53,658.24 L595.16,655.93 L596.79,653.65 L598.42,651.37 L600.05,649.11 L601.68,646.86 L603.31,644.63 L604.94,642.41 L606.56,640.20 L608.19,638.00 L609.82,635.82 L611.45,633.65 L613.08,631.49 L614.71,629.35 L616.34,627.21 L617.97,625.09 L619.60,622.99 L621.23,620.89 L622.86,618.81 L624.49,616.74 L626.12,614.68 L627.75,612.63 L629.38,610.60 L631.01,608.57 L632.64,606.56 L634.27,604.56 L635.90,602.58 L637.53,600.60 L639.16,598.64 L640.79,596.69 L642.41,594.74 L644.04,592.81 L645.67,590.90 L647.30,588.99 L648.93,587.09 L650.56,585.21 L652.19,583.33 L653.82,581.47 L655.45,579.62 L657.08,577.78 L658.71,575.95 L660.34,574.13 L661.97,572.32 L663.60,570.52 L665.23,568.73 L666.86,566.95 L668.49,565.19 L670.12,563.43 L671.75,561.68 L673.38,559.95 L675.01,558.22 L676.64,556.51 L678.27,554.80 L679.89,553.10 L681.52,551.42 L683.15,549.74 L684.78,548.08 L686.41,546.42 L688.04,544.77 L689.67,543.14 L691.30,541.51 L692.93,539.89 L694.56,538.28 L696.19,536.68 L697.82,535.09 L699.45,533.51 L701.08,531.94 L702.71,530.38 L704.34,528.83 L705.97,527.28 L707.60,525.75 L709.23,524.22 L710.86,522.70 L712.49,521.20 L714.12,519.70 L715.74,518.21 L717.37,516.73 L719.00,515.25 L720.63,513.79 L722.26,512.33 L723.89,510.89 L725.52,509.45 L727.15,508.02 L728.78,506.59 L730.41,505.18 L732.04,503.78 L733.67,502.38 L735.30,500.99 L736.93,499.61 L738.56,498.24 L740.19,496.87 L741.82,495.51 L743.45,494.17 L745.08,492.83 L746.71,491.49 L748.34,490.17 L749.97,488.85 L751.59,487.54 L753.22,486.24 L754.85,484.94 L756.48,483.66 L758.11,482.38 L759.74,481.11 L761.37,479.84 L763.00,478.58 L764.63,477.33 L766.26,476.09 L767.89,474.86 L769.52,473.63 L771.15,472.41 L772.78,471.20 L774.41,469.99 L776.04,468.79 L777.67,467.60 L779.30,466.41 L780.93,465.23 L782.56,464.06 L784.19,462.90 L785.82,461.74 L787.44,460.59 L789.07,459.45 L790.70,458.31 L792.33,457.18 L793.96,456.05 L795.59,454.94 L797.22,453.82 L798.85,452.72 L800.48,451.62 L802.11,450.53 L803.74,449.44 L805.37,448.37 L807.00,447.29 L808.63,446.23 L810.26,445.17 L811.89,444.11 L813.52,443.06 L815.15,442.02 L816.78,440.99 L818.41,439.96 L820.04,438.93 L821.67,437.92 L823.29,436.91 L824.92,435.90 L826.55,434.90 L828.18,433.91 L829.81,432.92 L831.44,431.94 L833.07,430.96 L834.70,429.99 L836.33,429.02 L837.96,428.07 L839.59,427.11 L841.22,426.16 L842.85,425.22 L844.48,424.28 L846.11,423.35 L847.74,422.43 L849.37,421.51 L851.00,420.59 L852.63,419.68 L854.26,418.78 L855.89,417.88 L857.52,416.98 L859.15,416.09 L860.77,415.21 L862.40,414.33 L864.03,413.46 L865.66,412.59 L867.29,411.73 L868.92,410.87 L870.55,410.01 L872.18,409.17 L873.81,408.32 L875.44,407.49 L877.07,406.65 L878.70,405.82 L880.33,405.00 L881.96,404.18 L883.59,403.37 L885.22,402.56 L886.85,401.75 L888.48,400.95 L890.11,400.16 L891.74,399.37 L893.37,398.58 L895.00,397.80 L896.62,397.03 L898.25,396.25 L899.88,395.49 L901.51,394.72 L903.14,393.96 L904.77,393.21 L906.40,392.46 L908.03,391.72 L909.66,390.97 L911.29,390.24 L912.92,389.51 L914.55,388.78 L916.18,388.05 L917.81,387.33 L919.44,386.62 L921.07,385.91 L922.70,385.20 L924.33,384.50 L925.96,383.80 L927.59,383.11 L929.22,382.42 L930.85,381.73 L932.47,381.05 L934.10,380.37 L935.73,379.69 L937.36,379.02 L938.99,378.36 L940.62,377.69 L942.25,377.03 L943.88,376.38 L945.51,375.73 L947.14,375.08 L948.77,374.44 L950.40,373.80 L952.03,373.16 L953.66,372.53 L955.29,371.90 L956.92,371.28 L958.55,370.66 L960.18,370.04 L961.81,369.42 L963.44,368.81 L965.07,368.21 L966.70,367.60 L968.32,367.00 L969.95,366.41 L971.58,365.81 L973.21,365.23 L974.84,364.64 L976.47,364.06 L978.10,363.48 L979.73,362.90 L981.36,362.33 L982.99,361.76 L984.62,361.20 L986.25,360.63 L987.88,360.08 L989.51,359.52 L991.14,358.97 L992.77,358.42 L994.40,357.87 L996.03,357.33 L997.66,356.79 L999.29,356.25 L1000.92,355.72 L1002.55,355.19 L1004.17,354.66 L1005.80,354.14 L1007.43,353.62 L1009.06,353.10 L1010.69,352.59 L1012.32,352.07 L1013.95,351.57 L1015.58,351.06 L1017.21,350.56 L1018.84,350.06 L1020.47,349.56 L1022.10,349.07 L1023.73,348.57 L1025.36,348.09 L1026.99,347.60 L1028.62,347.12 L1030.25,346.64 L1031.88,346.16 L1033.51,345.69 L1035.14,345.22 L1036.77,344.75 L1038.40,344.28 L1040.02,343.82 L1041.65,343.36 L1043.28,342.90 L1044.91,342.44 L1046.54,341.99 L1048.17,341.54 L1049.80,341.10 L1051.43,340.65 L1053.06,340.21 L1054.69,339.77 L1056.32,339.33 L1057.95,338.90 L1059.58,338.47 L1061.21,338.04 L1062.84,337.61 L1064.47,337.19 L1066.10,336.77 L1067.73,336.35 L1069.36,335.93 L1070.99,335.52 L1072.62,335.10 L1074.25,334.69 L1075.88,334.29 L1077.50,333.88 L1079.13,333.48 L1080.76,333.08 L1082.39,332.68 L1084.02,332.29 L1085.65,331.90 L1087.28,331.50 L1088.91,331.12 L1090.54,330.73 L1092.17,330.35 L1093.80,329.96 L1095.43,329.59 L1097.06,329.21 L1098.69,328.83 L1100.32,328.46 L1101.95,328.09 L1103.58,327.72 L1105.21,327.36 L1106.84,326.99 L1108.47,326.63 L1110.10,326.27 L1111.73,325.91 L1113.35,325.56 L1114.98,325.20 L1116.61,324.85 L1118.24,324.50 L1119.87,324.16 L1121.50,323.81 L1123.13,323.47 L1124.76,323.13 L1126.39,322.79 L1128.02,322.45 L1129.65,322.11 L1131.28,321.78 L1132.91,321.45 L1134.54,321.12 L1136.17,320.79 L1137.80,320.47 L1139.43,320.14 L1141.06,319.82 L1142.69,319.50 L1144.32,319.18 L1145.95,318.87 L1147.58,318.55 L1149.20,318.24 L1150.83,317.93 L1152.46,317.62 L1154.09,317.31 L1155.72,317.01 L1157.35,316.70 L1158.98,316.40 L1160.61,316.10 L1162.24,315.80 L1163.87,315.51 L1165.50,315.21 L1167.13,314.92 L1168.76,314.63 L1170.39,314.34 L1172.02,314.05 L1173.65,313.77 L1175.28,313.48 L1176.91,313.20 L1178.54,312.92 L1180.17,312.64 L1181.80,312.36 L1183.43,312.08 L1185.05,311.81 L1186.68,311.54 L1188.31,311.27 L1189.94,311.00 L1191.57,310.73 L1193.20,310.46 L1194.83,310.20 L1196.46,309.93 L1198.09,309.67 L1199.72,309.41 L1201.35,309.15 L1202.98,308.89 L1204.61,308.64 L1206.24,308.38 L1207.87,308.13 L1209.50,307.88 L1211.13,307.63 L1212.76,307.38 L1214.39,307.13 L1216.02,306.89 L1217.65,306.64 L1219.28,306.40 L1220.90,306.16 L1222.53,305.92 L1224.16,305.68 L1225.79,305.44 L1227.42,305.21 L1229.05,304.97 L1230.68,304.74 L1232.31,304.51 L1233.94,304.28 L1235.57,304.05 L1237.20,303.82 L1238.83,303.60 L1240.46,303.37 L1242.09,303.15 L1243.72,302.92 L1245.35,302.70 L1246.98,302.48 L1248.61,302.27 L1250.24,302.05 L1251.87,301.83 L1253.50,301.62 L1255.13,301.40 L1256.76,301.19 L1258.38,300.98 L1260.01,300.77 L1261.64,300.56 L1263.27,300.36 L1264.90,300.15 L1266.53,299.95 L1268.16,299.74 L1269.79,299.54 L1271.42,299.34 L1273.05,299.14 L1274.68,298.94 L1276.31,298.74 L1277.94,298.55 L1279.57,298.35 L1281.20,298.16 L1282.83,297.96 L1284.46,297.77 L1286.09,297.58 L1287.72,297.39 L1289.35,297.20 L1290.98,297.02 L1292.61,296.83 L1294.23,296.64 L1295.86,296.46 L1297.49,296.28 L1299.12,296.09 L1300.75,295.91 L1302.38,295.73 L1304.01,295.55 L1305.64,295.38 L1307.27,295.20 L1308.90,295.02 L1310.53,294.85 L1312.16,294.68 L1313.79,294.50 L1315.42,294.33 L1317.05,294.16 L1318.68,293.99 L1320.31,293.82 L1321.94,293.65 L1323.57,293.49 L1325.20,293.32 L1326.83,293.16 L1328.46,292.99 L1330.08,292.83 L1331.71,292.67 L1333.34,292.51 L1334.97,292.35 L1336.60,292.19 L1338.23,292.03 L1339.86,291.87 L1341.49,291.72 L1343.12,291.56 L1344.75,291.41 L1346.38,291.25 L1348.01,291.10 L1349.64,290.95 L1351.27,290.80 L1352.90,290.65 L1354.53,290.50 L1356.16,290.35 L1357.79,290.20 L1359.42,290.06 L1361.05,289.91 L1362.68,289.77 L1364.31,289.62 L1365.93,289.48 L1367.56,289.34 L1369.19,289.20 L1370.82,289.06 L1372.45,288.92 L1374.08,288.78 L1375.71,288.64 L1377.34,288.50 L1378.97,288.37 L1380.60,288.23 L1382.23,288.09 L1383.86,287.96 L1385.49,287.83 L1387.12,287.69 L1388.75,287.56 L1390.38,287.43 L1392.01,287.30 L1393.64,287.17 L1395.27,287.04 L1396.90,286.92 L1398.53,286.79 L1400.16,286.66 L1401.78,286.54 L1403.41,286.41 L1405.04,286.29 L1406.67,286.16 L1408.30,286.04 L1409.93,285.92 L1411.56,285.80 L1413.19,285.68 L1414.82,285.56 L1416.45,285.44 L1418.08,285.32 L1419.71,285.20 L1421.34,285.08 L1422.97,284.97 L1424.60,284.85 L1426.23,284.74 L1427.86,284.62 L1429.49,284.51 L1431.12,284.39 L1432.75,284.28 L1434.38,284.17 L1436.01,284.06 L1437.63,283.95 L1439.26,283.84 L1440.89,283.73 L1442.52,283.62 L1444.15,283.51 L1445.78,283.41 L1447.41,283.30 L1449.04,283.19 L1450.67,283.09 L1452.30,282.98 L1453.93,282.88 L1455.56,282.77 L1457.19,282.67 L1458.82,282.57 L1460.45,282.47 L1462.08,282.37 L1463.71,282.27 L1465.34,282.17 L1466.97,282.07 L1468.60,281.97 L1470.23,281.87 L1471.86,281.77 L1473.49,281.67 L1475.11,281.58 L1476.74,281.48 L1478.37,281.39 L1480.00,281.29 L1481.63,281.20 L1483.26,281.10 L1484.89,281.01 L1486.52,280.92 L1488.15,280.83 L1489.78,280.73 L1491.41,280.64 L1493.04,280.55 L1494.67,280.46 L1496.30,280.37 L1497.93,280.28 L1499.56,280.20 L1501.19,280.11 L1502.82,280.02 L1504.45,279.93 L1506.08,279.85 L1507.71,279.76 L1509.34,279.68 L1510.96,279.59 L1512.59,279.51 L1514.22,279.42 L1515.85,279.34 L1517.48,279.26 L1519.11,279.17 L1520.74,279.09 L1522.37,279.01 L1524.00,278.93 L1525.63,278.85 L1527.26,278.77 L1528.89,278.69 L1530.52,278.61 L1532.15,278.53 L1533.78,278.45 L1535.41,278.38 L1537.04,278.30 L1538.67,278.22 L1540.30,278.15 L1541.93,278.07 L1543.56,277.99 L1545.19,277.92 L1546.81,277.85 L1548.44,277.77 L1550.07,277.70 L1551.70,277.62 L1553.33,277.55 L1554.96,277.48 L1556.59,277.41 L1558.22,277.34 L1559.85,277.26 L1561.48,277.19 L1563.11,277.12 L1564.74,277.05 L1566.37,276.98 L1568.00,276.91 L1569.63,276.85 L1571.26,276.78 L1572.89,276.71 L1574.52,276.64 L1576.15,276.58 L1577.78,276.51 L1579.41,276.44 L1581.04,276.38 L1582.66,276.31 L1584.29,276.25 L1585.92,276.18 L1587.55,276.12 L1589.18,276.05 L1590.81,275.99 L1592.44,275.93 L1594.07,275.86 L1595.70,275.80 L1597.33,275.74 L1598.96,275.68 L1600.59,275.62 L1602.22,275.55 L1603.85,275.49 L1605.48,275.43 L1607.11,275.37 L1608.74,275.31 L1610.37,275.25 L1612.00,275.20 L1613.63,275.14 L1615.26,275.08 L1616.89,275.02 L1618.51,274.96 L1620.14,274.91 L1621.77,274.85 L1623.40,274.79 L1625.03,274.74 L1626.66,274.68 L1628.29,274.62 L1629.92,274.57 L1631.55,274.51 L1633.18,274.46 L1634.81,274.41 L1636.44,274.35 L1638.07,274.30 L1639.70,274.24 L1641.33,274.19 L1642.96,274.14 L1644.59,274.09 L1646.22,274.03 L1647.85,273.98 L1649.48,273.93 L1651.11,273.88 L1652.74,273.83 L1654.37,273.78 L1655.99,273.73 L1657.62,273.68 L1659.25,273.63 L1660.88,273.58 L1662.51,273.53 L1664.14,273.48 L1665.77,273.43 L1667.40,273.38 L1669.03,273.34 L1670.66,273.29 L1672.29,273.24 L1673.92,273.19 L1675.55,273.15 L1677.18,273.10 L1678.81,273.05 L1680.44,273.01 L1682.07,272.96 L1683.70,272.92 L1685.33,272.87 L1686.96,272.83 L1688.59,272.78 L1690.22,272.74 L1691.84,272.69 L1693.47,272.65 L1695.10,272.60 L1696.73,272.56 L1698.36,272.52 L1699.99,272.48 L1701.62,272.43 L1703.25,272.39 L1704.88,272.35 L1706.51,272.31 L1708.14,272.26 L1709.77,272.22 L1711.40,272.18 L1713.03,272.14 L1714.66,272.10 L1716.29,272.06 L1717.92,272.02 L1719.55,271.98 L1721.18,271.94 L1722.81,271.90 L1724.44,271.86 L1726.07,271.82 L1727.69,271.78 L1729.32,271.74 L1730.95,271.71 L1732.58,271.67 L1734.21,271.63 L1735.84,271.59 L1737.47,271.55 L1739.10,271.52 L1740.73,271.48 L1742.36,271.44 L1743.99,271.41 L1745.62,271.37 L1747.25,271.33 L1748.88,271.30 L1750.51,271.26 L1752.14,271.23 L1753.77,271.19 L1755.40,271.16 L1757.03,271.12 L1758.66,271.09 L1760.29,271.05 L1761.92,271.02 L1763.54,270.98 L1765.17,270.95 L1766.80,270.92 L1768.43,270.88 L1770.06,270.85 L1771.69,270.82 L1773.32,270.78 L1774.95,270.75 L1776.58,270.72 L1778.21,270.69 L1779.84,270.65 L1781.47,270.62 L1783.10,270.59 L1784.73,270.56 L1786.36,270.53 L1787.99,270.49 L1789.62,270.46 L1791.25,270.43 L1792.88,270.40 L1794.51,270.37 L1796.14,270.34 L1797.77,270.31 L1799.39,270.28 L1801.02,270.25 L1802.65,270.22 L1804.28,270.19 L1805.91,270.16 L1807.54,270.13 L1809.17,270.10 L1810.80,270.08 L1812.43,270.05 L1814.06,270.02 L1815.69,269.99 L1817.32,269.96 L1818.95,269.93 L1820.58,269.91 L1822.21,269.88 L1823.84,269.85 L1825.47,269.82 L1827.10,269.80 L1828.73,269.77 L1830.36,269.74 L1831.99,269.72 L1833.62,269.69 L1835.24,269.66 L1836.87,269.64 L1838.50,269.61 L1840.13,269.59 L1841.76,269.56 L1843.39,269.53 L1845.02,269.51 L1846.65,269.48 L1848.28,269.46 L1849.91,269.43 L1851.54,269.41 L1853.17,269.38 L1854.80,269.36 L1856.43,269.33 L1858.06,269.31 L1859.69,269.29 L1861.32,269.26 L1862.95,269.24 L1864.58,269.21 L1866.21,269.19 L1867.84,269.17 L1869.47,269.14 L1871.10,269.12 L1872.72,269.10 L1874.35,269.08 L1875.98,269.05 L1877.61,269.03 L1879.24,269.01 L1880.87,268.98 L1882.50,268.96 L1884.13,268.94 L1885.76,268.92 L1887.39,268.90 L1889.02,268.87 L1890.65,268.85 L1892.28,268.83 L1893.91,268.81 L1895.54,268.79 L1897.17,268.77 L1898.80,268.75 L1900.43,268.73 L1902.06,268.71 L1903.69,268.69 L1905.32,268.66 L1906.95,268.64 L1908.57,268.62 L1910.20,268.60 L1911.83,268.58 L1913.46,268.56 L1915.09,268.54 L1916.72,268.52 L1918.35,268.50 L1919.98,268.49 L1921.61,268.47 L1923.24,268.45 L1924.87,268.43 L1926.50,268.41 L1928.13,268.39 L1929.76,268.37 L1931.39,268.35 L1933.02,268.33 L1934.65,268.32 L1936.28,268.30 L1937.91,268.28 L1939.54,268.26 L1941.17,268.24 L1942.80,268.23 L1944.42,268.21 L1946.05,268.19 L1947.68,268.17 L1949.31,268.15 L1950.94,268.14 L1952.57,268.12 L1954.20,268.10 L1955.83,268.09 L1957.46,268.07 L1959.09,268.05 L1960.72,268.04 L1962.35,268.02 L1963.98,268.00 L1965.61,267.99 L1967.24,267.97 L1968.87,267.95 L1970.50,267.94 L1972.13,267.92 L1973.76,267.90 L1975.39,267.89 L1977.02,267.87 L1978.65,267.86 L1980.27,267.84 L1981.90,267.83 L1983.53,267.81 L1985.16,267.79 L1986.79,267.78 L1988.42,267.76 L1990.05,267.75 L1991.68,267.73 L1993.31,267.72 L1994.94,267.70 L1996.57,267.69 L1998.20,267.68 L1999.83,267.66 L2001.46,267.65 L2003.09,267.63 L2004.72,267.62 L2006.35,267.60 L2007.98,267.59 L2009.61,267.58 L2011.24,267.56 L2012.87,267.55 L2014.50,267.53 L2016.12,267.52 L2017.75,267.51 L2019.38,267.49 L2021.01,267.48 L2022.64,267.47 L2024.27,267.45 L2025.90,267.44 L2027.53,267.43 L2029.16,267.41 L2030.79,267.40 L2032.42,267.39 L2034.05,267.37" fill="none" stroke="#0000ff" stroke-width="4.5" stroke-dasharray="15 13.5"/>























<circle cx="275.0" cy="1504.0" r="17" fill="none" stroke="#0000ff" stroke-width="5.5"/>
<circle cx="291.3" cy="1316.7" r="17" fill="none" stroke="#0000ff" stroke-width="5.5"/>
<circle cx="307.6" cy="1257.9" r="17" fill="none" stroke="#0000ff" stroke-width="5.5"/>
<circle cx="323.9" cy="1207.5" r="17" fill="none" stroke="#0000ff" stroke-width="5.5"/>
<circle cx="372.7" cy="1080.3" r="17" fill="none" stroke="#0000ff" stroke-width="5.5"/>
<circle cx="421.6" cy="983.0" r="17" fill="none" stroke="#0000ff" stroke-width="5.5"/>
<circle cx="470.4" cy="901.4" r="17" fill="none" stroke="#0000ff" stroke-width="5.5"/>
<circle cx="568.2" cy="765.8" r="17" fill="none" stroke="#0000ff" stroke-width="5.5"/>
<circle cx="665.9" cy="640.9" r="17" fill="none" stroke="#0000ff" stroke-width="5.5"/>
<circle cx="763.6" cy="493.3" r="17" fill="none" stroke="#0000ff" stroke-width="5.5"/>
<circle cx="861.4" cy="404.4" r="17" fill="none" stroke="#0000ff" stroke-width="5.5"/>
<circle cx="959.1" cy="348.0" r="17" fill="none" stroke="#0000ff" stroke-width="5.5"/>
<circle cx="1056.8" cy="319.2" r="17" fill="none" stroke="#0000ff" stroke-width="5.5"/>
<circle cx="1154.5" cy="300.0" r="17" fill="none" stroke="#0000ff" stroke-width="5.5"/>
<circle cx="1252.2" cy="292.8" r="17" fill="none" stroke="#0000ff" stroke-width="5.5"/>
<circle cx="1350.0" cy="282.0" r="17" fill="none" stroke="#0000ff" stroke-width="5.5"/>
<circle cx="1447.7" cy="272.4" r="17" fill="none" stroke="#0000ff" stroke-width="5.5"/>
<circle cx="1545.4" cy="272.4" r="17" fill="none" stroke="#0000ff" stroke-width="5.5"/>
<circle cx="1643.1" cy="270.0" r="17" fill="none" stroke="#0000ff" stroke-width="5.5"/>
<circle cx="1740.9" cy="252.0" r="17" fill="none" stroke="#0000ff" stroke-width="5.5"/>
<circle cx="1838.6" cy="270.0" r="17" fill="none" stroke="#0000ff" stroke-width="5.5"/>
<circle cx="1936.3" cy="271.2" r="17" fill="none" stroke="#0000ff" stroke-width="5.5"/>
<circle cx="2034.0" cy="273.6" r="17" fill="none" stroke="#0000ff" stroke-width="5.5"/>
<text transform="translate(1016.65,142.70) scale(0.9808,1)" font-family="'Liberation Sans', Arial, sans-serif" font-weight="bold" font-size="63.3">F2 - PVA - pH 1.2</text>
<text transform="translate(1102.45,1651.60) scale(0.9517,1)" font-family="'Liberation Sans', Arial, sans-serif" font-weight="bold" font-size="63.3">Time (min)</text>
<text transform="translate(148.10,1254.35) rotate(-90) scale(0.9708,1)" font-family="'Liberation Sans', Arial, sans-serif" font-weight="bold" font-size="62.6">Released amount of TH (%)</text>
<path d="M1703,977.5 L1763,977.5" stroke="#0000ff" stroke-width="5.5" stroke-dasharray="13.5 13.5"/>
<circle cx="1734.0" cy="977.5" r="17" fill="none" stroke="#0000ff" stroke-width="5.5"/>
<text transform="translate(1797.73,993.70) scale(0.9367,1)" font-family="'Liberation Sans', Arial, sans-serif" font-size="50">Without coating</text>
<path d="M1703,1053.8 L1763,1053.8" stroke="#a00000" stroke-width="5.5" stroke-dasharray="13.5 13.5"/>
<rect x="1716.8" y="1036.6" width="34.5" height="34.5" fill="none" stroke="#a00000" stroke-width="5.5"/>
<text transform="translate(1796.61,1070.03) scale(1.0230,1)" font-family="'Liberation Sans', Arial, sans-serif" font-size="50">PVA I</text>
<path d="M1703,1130.2 L1763,1130.2" stroke="#000000" stroke-width="5.5" stroke-dasharray="13.5 13.5"/>
<path d="M1734.0,1116.7 L1749.0,1147.4 L1719.0,1147.4 Z" fill="none" stroke="#000000" stroke-width="5.5" stroke-linejoin="miter" stroke-miterlimit="10"/>
<text transform="translate(1796.61,1146.36) scale(1.0213,1)" font-family="'Liberation Sans', Arial, sans-serif" font-size="50">PVA II</text>
<path d="M1703,1206.5 L1763,1206.5" stroke="#008000" stroke-width="5.5" stroke-dasharray="13.5 13.5"/>
<path d="M1734.0,1220.0 L1749.0,1189.3 L1719.0,1189.3 Z" fill="none" stroke="#008000" stroke-width="5.5" stroke-linejoin="miter" stroke-miterlimit="10"/>
<text transform="translate(1796.63,1222.69) scale(1.0178,1)" font-family="'Liberation Sans', Arial, sans-serif" font-size="50">PVA III</text>
<path d="M1703,1282.8 L1763,1282.8" stroke="#000000" stroke-width="5.5"/>
<text transform="translate(1798.22,1299.02) scale(0.9503,1)" font-family="'Liberation Sans', Arial, sans-serif" font-size="50">Weibull</text>
<path d="M1703,1359.2 L1763,1359.2" stroke="#000000" stroke-width="5.5" stroke-dasharray="13.5 13.5"/>
<text transform="translate(1796.88,1375.35) scale(0.9552,1)" font-family="'Liberation Sans', Arial, sans-serif" font-size="50">First order</text></svg></body></html>
